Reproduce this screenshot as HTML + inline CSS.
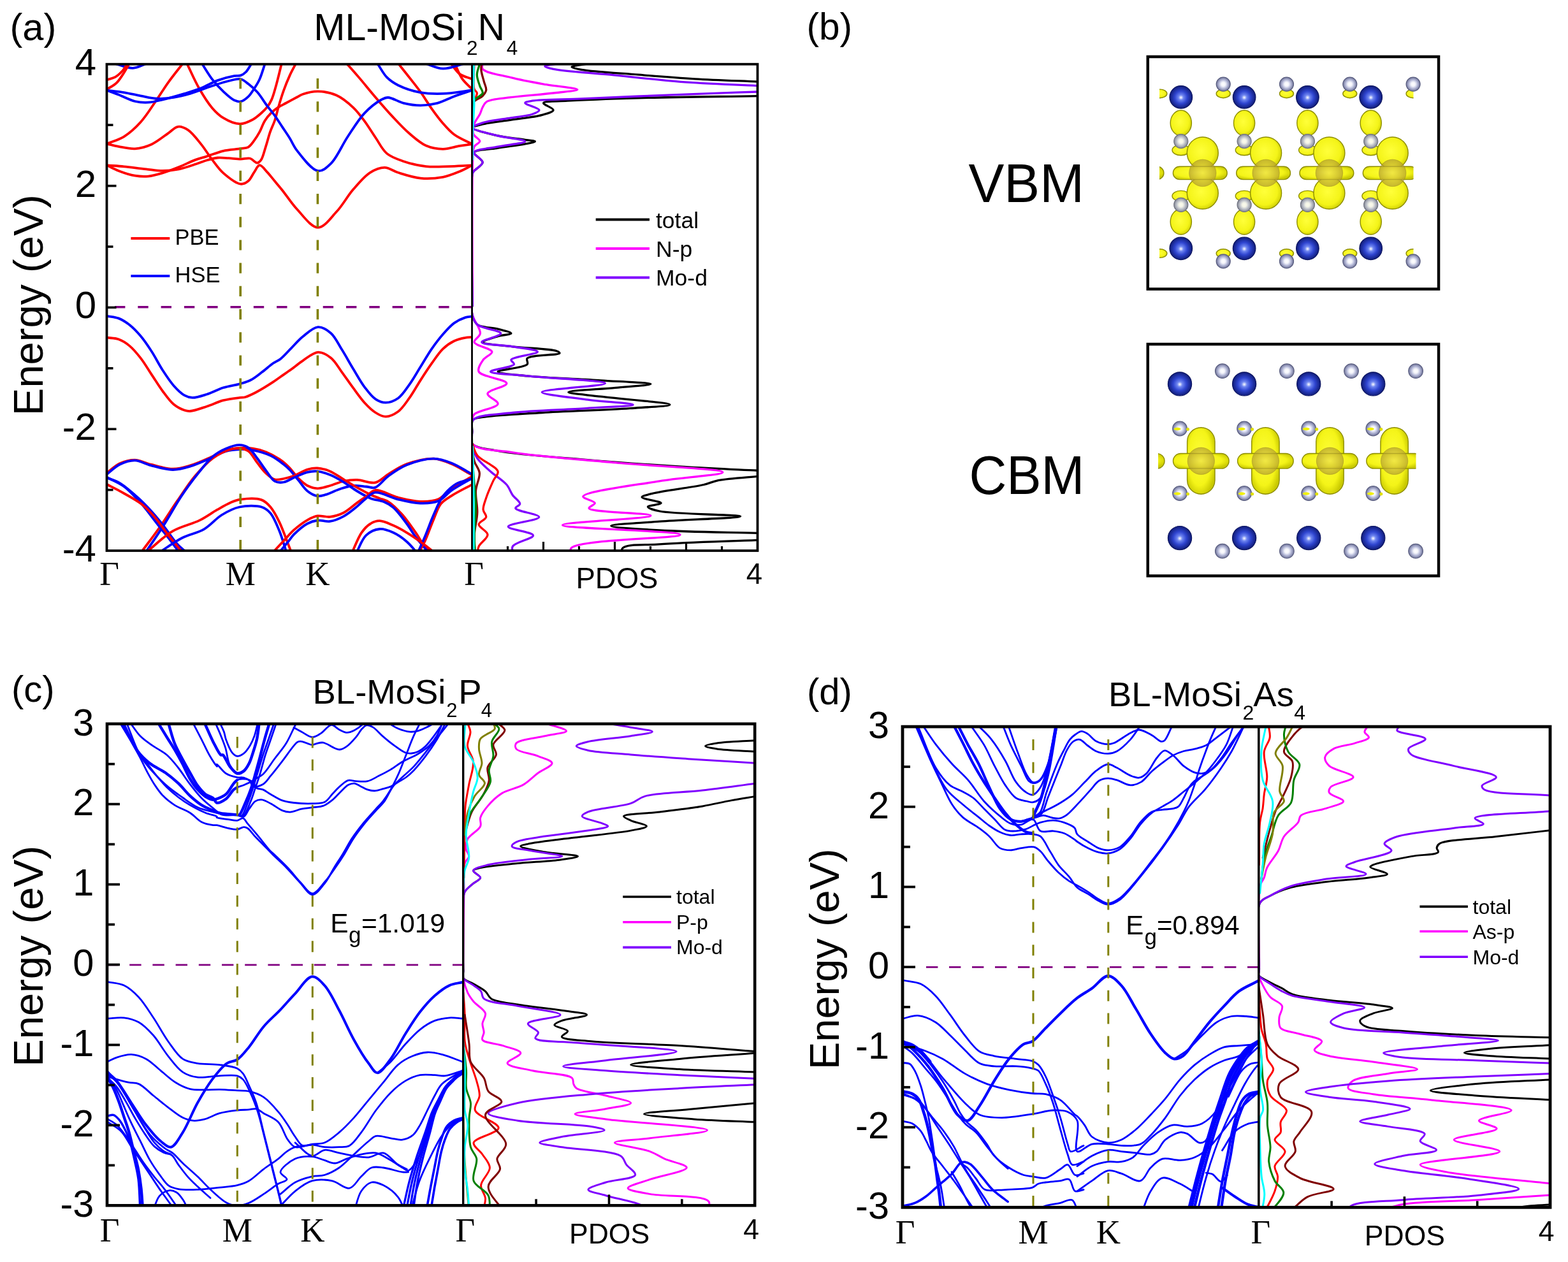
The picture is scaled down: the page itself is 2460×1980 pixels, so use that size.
<!DOCTYPE html><html><head><meta charset="utf-8"><title>Band structures</title><style>html,body{margin:0;padding:0;background:#fff;width:2460px;height:1980px;overflow:hidden}svg{display:block}</style></head><body><svg xmlns="http://www.w3.org/2000/svg" width="2460" height="1980" viewBox="0 0 2460 1980"><defs><clipPath id="cbA"><rect x="167.5" y="100.7" width="573" height="763.3"/></clipPath><clipPath id="cpA"><rect x="740.5" y="100.7" width="448" height="763.3"/></clipPath><clipPath id="cbC"><rect x="168" y="1135.7" width="558.7" height="755.6"/></clipPath><clipPath id="cpC"><rect x="726.7" y="1135.7" width="457.5" height="755.6"/></clipPath><clipPath id="cbD"><rect x="1416" y="1140.1" width="558.8" height="754.2"/></clipPath><clipPath id="cpD"><rect x="1974.8" y="1140.1" width="457.2" height="754.2"/></clipPath><radialGradient id="gMo" cx="50%" cy="50%" r="50%" fx="50%" fy="52%"><stop offset="0" stop-color="#ffffff"/><stop offset="0.22" stop-color="#6f86f0"/><stop offset="0.55" stop-color="#2f45d0"/><stop offset="1" stop-color="#101c78"/></radialGradient><radialGradient id="gN" cx="50%" cy="50%" r="50%"><stop offset="0" stop-color="#ffffff"/><stop offset="0.3" stop-color="#f4f5fb"/><stop offset="0.6" stop-color="#b9bddb"/><stop offset="1" stop-color="#6d7196"/></radialGradient><radialGradient id="gY" cx="45%" cy="45%" r="60%"><stop offset="0" stop-color="#ffff3a"/><stop offset="0.7" stop-color="#f4f418"/><stop offset="1" stop-color="#c9c900"/></radialGradient><radialGradient id="gS" cx="50%" cy="50%" r="50%"><stop offset="0" stop-color="#e8d850" stop-opacity="0.55"/><stop offset="1" stop-color="#b09a30" stop-opacity="0.7"/></radialGradient><clipPath id="cVBM"><rect x="1819" y="90" width="398.5" height="360"/></clipPath><clipPath id="cCBM"><rect x="1817" y="545" width="404.5" height="355"/></clipPath></defs><rect width="2460" height="1980" fill="#fff"/><path d="M179 99.3C188.8 101.8 199.3 107.1 208.4 106.8C216.5 106.5 223.4 101.8 230.9 99.3" fill="none" stroke="#0000ff" stroke-width="3.8" stroke-linejoin="round" stroke-linecap="round" clip-path="url(#cbA)"/><path d="M167.8 125.3C172.1 123.8 176.9 123.1 180.8 120.9C184.6 118.8 187.9 115.7 191.1 112.3C194.6 108.6 197.5 103.6 200.6 99.3" fill="none" stroke="#ff0000" stroke-width="3.8" stroke-linejoin="round" stroke-linecap="round" clip-path="url(#cbA)"/><path d="M167.8 140C172.7 136.8 178.3 134.4 182.5 130.4C186.6 126.6 189.5 121.6 192.9 116.6C196.5 111.3 199.8 105.1 203.2 99.3" fill="none" stroke="#ff0000" stroke-width="3.8" stroke-linejoin="round" stroke-linecap="round" clip-path="url(#cbA)"/><path d="M167.8 225.6C176.7 221.8 186.1 219.6 194.6 214.3C203.8 208.6 212.4 200.8 220.5 191.8C229.8 181.6 238.8 166.7 246.5 155.5C252.9 146.2 257.4 138.5 263.8 129.6C270.8 119.8 279.3 109.4 287.1 99.3" fill="none" stroke="#ff0000" stroke-width="3.8" stroke-linejoin="round" stroke-linecap="round" clip-path="url(#cbA)"/><path d="M293.1 99.3C299.5 112.3 305.3 126.2 312.2 138.2C318.6 149.4 325.8 161.1 332.9 169.4C338.5 175.9 343.4 180.8 350.2 184.9C357.6 189.4 368.1 194.3 376.2 194.4C383 194.6 389.7 191.2 395.4 188.3C400.8 185.6 405.5 181.3 409.6 177.7C413.2 174.6 416.3 171.7 419 168.2C421.8 164.6 424 161.1 426.1 156.4C428.9 150.3 430.8 142.3 433.2 134C436.1 123.7 439.1 110.7 442 99" fill="none" stroke="#ff0000" stroke-width="3.8" stroke-linejoin="round" stroke-linecap="round" clip-path="url(#cbA)"/><path d="M167.8 225.6C173.8 227 179.3 228.7 185.9 229.9C193.8 231.3 203.3 233.9 211.9 233.3C220.6 232.8 229.5 230.2 237.8 226.4C246.8 222.4 256.2 214.2 263.8 209.1C269.6 205.2 273.9 199.5 279.3 198.8C284.3 198.1 289.7 200.6 294.9 203.9C301.9 208.5 309.3 218.6 315.6 226.4C321.9 234.2 327 243 332.9 250.6C338.6 257.9 343.2 265.2 350.2 271.4C357.9 278.1 370.1 288 377.5 288.7C382.2 289.2 386.1 286.7 389.5 284C393.4 280.8 395.9 274.1 399 269.8C401.8 266 404 259.5 407.2 259.2C410.6 258.9 415.2 265.9 419 269.8C423.1 274.1 426.9 279.3 430.9 284C434.8 288.7 438.1 292.5 442.7 298.2C449.3 306.4 457.3 319.2 466.4 328.8C475.9 338.9 488.3 356.9 498.9 356.9C508.8 357 518.9 341.8 527.9 332.3C537.5 322.1 545.1 307.7 554.3 297.1C562.7 287.4 571.5 276.5 580.6 270.8C588 266.2 596 262.8 603.5 262.9C610.7 263 616.6 268.3 624.6 270.8C634.7 273.9 647.9 278.4 659.7 279.6C671.4 280.7 684.1 279.8 694.9 277.8C704.4 276 713.2 272.3 721.2 269C728.3 266.1 734.1 262.6 740.6 259.4" fill="none" stroke="#ff0000" stroke-width="3.8" stroke-linejoin="round" stroke-linecap="round" clip-path="url(#cbA)"/><path d="M167.8 259.3C176.7 260 185.1 260.4 194.6 261.3C205.4 262.4 218.5 264.2 229.2 265.3C238.4 266.3 246.5 267.9 255.1 267.9C263.8 267.9 272.5 267 281 265.3C289.8 263.6 299.2 260.1 307 257.5C313.4 255.5 318.5 253.2 324.3 251.5C330 249.8 335.8 248.1 341.6 247.5C347.3 247 353 247.9 358.9 248.2C365 248.6 371.7 249.7 377.5 249.7C382.6 249.7 387.5 247.5 391.9 248.5C396.2 249.5 400.5 255.8 403.7 255.6C406.1 255.4 407.8 253.4 409.6 250.9C412.6 246.7 414.4 237.8 416.7 230.8C419.2 223.3 421.3 214.4 423.8 207.2C426 200.8 428.8 195.7 430.9 189.5C433.2 182.8 434.6 175.6 436.8 168.2C439.2 159.9 442 150.6 445 142.2C447.9 134.1 451.1 126 454.5 118.6C457.6 111.7 461.2 105.5 464.5 99" fill="none" stroke="#ff0000" stroke-width="3.8" stroke-linejoin="round" stroke-linecap="round" clip-path="url(#cbA)"/><path d="M167.8 259.3C173.8 262.2 179.2 265.3 185.9 267.9C193.7 270.9 203.6 274.3 211.9 275.7C219.1 276.9 225.6 277.2 232.6 276.6C240 275.9 247.4 273.7 255.1 271.4C263.5 268.9 272.4 265.3 281 261.9C289.7 258.4 299.1 253.5 307 250.6C313.3 248.3 317.9 247.4 324.3 245.4C332.1 243 341.4 238.8 350.2 236.8C359.1 234.7 370.3 234.4 377.5 233.2C382.3 232.4 386 232.8 389.5 230.8C393.3 228.7 396.1 224 399 220.2C402 216.2 404.6 212 407.2 207.2C410.1 201.8 412.3 194.6 415.5 189.5C418.3 185 421.5 181.2 425 177.7C428.6 174.2 432.7 170.9 436.8 168.2C440.6 165.7 444.3 164.1 448.6 161.8C453.9 158.9 461.4 154.9 466.3 152.3C469.7 150.5 471.4 149 475.2 147.7C481 145.7 490.6 143.2 498.9 143.3C508.1 143.5 518.9 145.4 527.9 149.5C537.4 153.7 546.7 161.7 554.3 168.8C561.2 175.3 566.2 182.3 571.8 189.9C577.9 198.1 583.5 207.7 589.4 216.3C595.2 224.7 599.6 234.7 607 240.9C614.3 247 623.7 249.9 633.4 253.2C644.1 256.9 656.7 259.8 668.5 261.1C680.2 262.4 691.8 261.4 703.7 261.1C715.8 260.8 728.3 259.9 740.6 259.4" fill="none" stroke="#ff0000" stroke-width="3.8" stroke-linejoin="round" stroke-linecap="round" clip-path="url(#cbA)"/><path d="M543.7 99.4C550.2 106.7 556.2 113.3 563 121.4C571.2 130.9 580.5 142.7 589.4 153C598.1 163.2 606.8 173.4 615.8 182.9C624.4 192.1 633 201.5 642.1 209.3C650.7 216.6 659.2 224.5 668.5 228.6C676.9 232.3 686.1 233.8 694.9 233.9C703.7 233.9 713.1 230.3 721.2 228.9C728.2 227.8 734.1 227 740.6 226" fill="none" stroke="#ff0000" stroke-width="3.8" stroke-linejoin="round" stroke-linecap="round" clip-path="url(#cbA)"/><path d="M624.6 99.4C630.4 106.7 636.3 113.9 642.1 121.4C648 128.9 654 136.2 659.7 144.2C665.7 152.6 671.3 162.2 677.3 170.6C683 178.6 688.8 186.5 694.9 193.4C700.5 199.9 705.5 205.8 712.5 211C720.4 216.9 731.2 221 740.6 226" fill="none" stroke="#ff0000" stroke-width="3.8" stroke-linejoin="round" stroke-linecap="round" clip-path="url(#cbA)"/><path d="M707.2 99.4C711.9 105 715.6 112 721.2 116.1C726.8 120.1 734.1 121.4 740.6 124" fill="none" stroke="#ff0000" stroke-width="3.8" stroke-linejoin="round" stroke-linecap="round" clip-path="url(#cbA)"/><path d="M713.3 99.4C717.1 107.3 720 116.2 724.8 123.1C729.2 129.6 735.3 134.3 740.6 139.8" fill="none" stroke="#ff0000" stroke-width="3.8" stroke-linejoin="round" stroke-linecap="round" clip-path="url(#cbA)"/><path d="M167.8 141.7C176.7 142.8 185.7 143.7 194.6 145.1C203.3 146.6 211.9 148.7 220.5 150.3C229.2 151.9 237.8 154.2 246.5 154.7C255.1 155.1 263.8 154.2 272.4 152.9C281.1 151.6 289.1 149.5 298.3 146.9C309.1 143.7 322.2 138.3 332.9 134.8C342.2 131.8 350.9 128.8 358.9 127C365.5 125.5 372.1 122.9 377.5 124C382.1 125 385.5 128.5 389.5 131.6C394.2 135.2 399.1 139.5 403.7 144.6C409 150.6 414.2 159.4 419 165.9C423.2 171.5 427 175.8 430.9 181.2C434.9 186.8 438.8 193 442.7 198.9C446.6 204.8 450.6 210.5 454.5 216.7C458.5 223.1 460.8 229.7 466.3 236.7C474 246.5 488.9 266.9 498.9 268.1C506.1 269.1 512.7 262.9 519.1 256.7C528.5 247.7 536.5 228 545.5 214.5C554.1 201.7 562.3 187.7 571.8 177.6C580.1 168.9 591.1 160.4 598.2 156.5C602.3 154.3 604.5 153 608.7 153C615.2 153.1 624.9 159.7 633.4 161.8C641.9 163.9 650.9 165.3 659.7 165.3C668.5 165.3 677.4 164.1 686.1 161.8C695 159.5 703.5 154.6 712.5 151.2C721.6 147.8 731.2 144.8 740.6 141.6" fill="none" stroke="#0000ff" stroke-width="3.8" stroke-linejoin="round" stroke-linecap="round" clip-path="url(#cbA)"/><path d="M167.8 141.7C173.8 144 179.4 146 185.9 148.6C193.8 151.7 203.6 157 211.9 159C219 160.7 225.6 161.1 232.6 160.7C240 160.3 246.9 158.3 255.1 156.4C265.4 154 279 150.1 289.7 146.9C299 144 307.1 141.6 315.6 138.2C324.4 134.7 332.8 129.3 341.6 126.1C350.1 123 360.8 120.4 367.5 119.2C371.6 118.5 374.4 119.5 377.5 118.4C380.6 117.3 383.4 115.4 386 112.7C389.3 109.3 392 103.6 395 99" fill="none" stroke="#0000ff" stroke-width="3.8" stroke-linejoin="round" stroke-linecap="round" clip-path="url(#cbA)"/><path d="M316.5 99.3C322 107.7 327.1 116.8 332.9 124.4C338.4 131.4 344.2 137.8 350.2 143.4C355.8 148.6 362.3 154.8 367.5 157.3C371.1 158.9 374.1 160 377.5 159.4C381.5 158.7 386 155 389.5 151.7C393.2 148.2 396.1 143.2 399 138.7C402 134.1 404.7 130.1 407.2 124.5C410.5 117.4 413.1 107.5 416 99" fill="none" stroke="#0000ff" stroke-width="3.8" stroke-linejoin="round" stroke-linecap="round" clip-path="url(#cbA)"/><path d="M592 99.4C597 106.7 601.2 115.5 607 121.4C612.2 126.6 617.4 130.1 624.6 133.7C634 138.4 647.9 142.9 659.7 145.1C671.3 147.2 682.4 147.3 694.9 146.9C709.1 146.4 725.3 143.3 740.6 141.6" fill="none" stroke="#0000ff" stroke-width="3.8" stroke-linejoin="round" stroke-linecap="round" clip-path="url(#cbA)"/><path d="M666.8 99.4C676.1 102.1 684.9 107.4 694.9 107.7C705.9 108 718.3 102.1 730 99.4" fill="none" stroke="#0000ff" stroke-width="3.8" stroke-linejoin="round" stroke-linecap="round" clip-path="url(#cbA)"/><path d="M167.8 495.9C173.8 497.1 180.1 497.2 185.9 499.4C192 501.7 197.7 505.5 203.2 509.8C209.3 514.5 215 520.6 220.5 527.1C226.6 534.2 232.2 542.7 237.8 551.3C243.8 560.5 249.1 571.5 255.1 580.7C260.7 589.3 266.2 598 272.4 604.9C277.8 611 284.1 617.3 289.7 620.4C293.8 622.7 297.1 623.8 301.8 623.9C308.1 624.1 316.6 621.1 324.3 618.7C332.7 616.1 341.5 611.1 350.2 608.3C358.8 605.6 368.4 604.5 376.2 602.3C382.6 600.4 387.9 599.1 393.4 596.2C399.4 593.2 405 588.4 410.7 584.1C416.6 579.8 422.7 574 428 570.3C432.3 567.4 435.8 566.4 440 563.2C445.6 558.8 451.7 551.4 457.6 545.6C463.4 539.7 468.5 533.3 475.2 528C482.2 522.4 491.2 513.5 498.9 513.1C505.8 512.7 513.2 517.6 519.1 522.7C526.1 528.8 530.9 540 536.7 549.1C542.7 558.7 548.3 569.2 554.3 579C560.1 588.5 565.6 598.9 571.8 607.1C577.4 614.4 583.1 622.4 589.4 626.4C594.4 629.7 599.7 631.8 605.2 631.7C611.4 631.6 618.8 628.8 624.6 624.7C631.3 620 636.5 611.3 642.1 603.6C648.3 595.1 653.9 584.8 659.7 575.5C665.6 566.1 671.2 556.1 677.3 547.3C683 539.2 688.8 531.4 694.9 524.5C700.5 518 706.2 511.4 712.5 506.9C718 502.9 724.8 499.8 730 498.1C733.9 496.9 737.1 497 740.6 496.4" fill="none" stroke="#0000ff" stroke-width="3.8" stroke-linejoin="round" stroke-linecap="round" clip-path="url(#cbA)"/><path d="M167.8 529.7C173.8 530.5 180.2 530.2 185.9 532.3C192 534.4 197.8 538.2 203.2 542.6C209.4 547.7 215 554.6 220.5 561.6C226.6 569.4 232.1 578.9 237.8 587.6C243.6 596.2 249.1 605.5 255.1 613.5C260.7 621 266.1 629.1 272.4 634.3C277.8 638.7 284.8 642.2 289.7 643.8C293 644.9 294.7 645.2 298.3 645C304.7 644.6 315.7 640.5 324.3 637.7C333 634.9 341.5 630.5 350.2 628.2C358.8 626 369.8 624.7 376.2 623.9C379.8 623.4 381.5 623.9 384.8 623C389.7 621.7 395.8 618.5 402.1 615.3C410 611.1 421.1 604.2 428 599.7C432.8 596.6 435.6 594.4 440 591.3C445.3 587.6 451.8 583.2 457.6 579C463.5 574.7 468.7 570 475.2 565.8C482.3 561.1 491.2 553 498.9 552.6C505.8 552.3 513.1 556.7 519.1 561.4C525.9 566.7 530.9 576.4 536.7 584.3C542.6 592.3 548.3 600.9 554.3 608.9C560 616.7 565.7 625 571.8 631.7C577.4 637.8 583.4 643.8 589.4 647.5C594.5 650.7 599.7 653.7 605.2 653.7C611.4 653.6 618.7 650 624.6 645.8C631.2 640.9 636.5 632.4 642.1 624.7C648.3 616.2 653.8 605.7 659.7 596.6C665.5 587.6 671.3 578.6 677.3 570.2C683 562.2 688.5 553.4 694.9 547.3C700.4 542.1 706.3 538 712.5 535C718.1 532.3 724.9 530.7 730 529.8C734 529 737.1 529.2 740.6 528.9" fill="none" stroke="#ff0000" stroke-width="3.8" stroke-linejoin="round" stroke-linecap="round" clip-path="url(#cbA)"/><path d="M167.7 741.9C174.4 737 180.5 730.7 187.8 727.3C195.1 724 203.5 721.6 211.5 721.7C219.7 721.9 227.5 726.5 236.5 728.7C247.1 731.2 260.4 735.7 271.3 735.7C281.1 735.7 290 732.8 299.1 730.1C308.5 727.3 317.7 722.9 327 719C336.3 715 346 709.1 354.8 706.4C362.1 704.2 368.7 703.4 375.7 703C382.6 702.5 389.6 702.6 396.5 703.7C403.6 704.7 410.6 706.5 417.4 709.2C424.5 712 432 716.1 438.3 720.4C444.2 724.3 449.2 728.8 454.1 733.8C459.2 738.9 463.3 745.9 468.3 750.7C472.8 755.1 477.3 759.4 482.4 762C487.3 764.5 492.5 766.1 498 766.3C504.2 766.5 511.1 763.9 517.8 762C524.8 760.1 531.9 756.5 539 755C546 753.5 552.7 752.7 560.2 752.9C569 753.1 580.1 758.9 588.5 757.1C596.5 755.4 602.1 748.2 609.8 743.7C618.4 738.5 627.3 732 638 728.1C650.5 723.6 667.8 719 680.5 719.6C690.9 720.1 699.3 724.2 708.8 728.1C719.1 732.4 729.5 739.4 739.9 745.1" fill="none" stroke="#ff0000" stroke-width="3.8" stroke-linejoin="round" stroke-linecap="round" clip-path="url(#cbA)"/><path d="M167.7 744C174.4 738.9 180.4 732.3 187.8 728.7C195.1 725.2 203.5 722.3 211.5 722.4C219.7 722.6 227.4 727.8 236.5 730.1C247.1 732.8 260.4 737 271.3 737C281.1 737 290 734.2 299.1 731.5C308.5 728.7 317.7 724.3 327 720.4C336.3 716.4 346 710.3 354.8 707.8C362.1 705.7 368.7 705.3 375.7 705C382.6 704.8 389.2 705.1 396.5 706.4C405.2 708 416 710.9 424.4 714.8C432.1 718.4 439.8 724.5 445.2 728.7C448.9 731.6 451 733.3 454.1 736.6C458.5 741 463.6 747.9 468.3 753.6C473 759.2 477.1 766.3 482.4 770.5C487.2 774.3 493 777.6 498 778.3C502.3 779 506 777.5 510.7 776.2C517 774.4 524.8 770.1 532 767.7C539 765.4 546 762.7 553.2 762C560.2 761.4 568 762.9 574.4 763.5C579.6 763.9 583.7 766.4 588.5 764.9C595.3 762.7 601.9 752.2 609.8 746.5C618.3 740.3 627.3 733.9 638 729.5C650.4 724.5 667.8 719.5 680.5 719.6C690.9 719.7 699.4 723 708.8 726.7C719.2 730.7 729.5 738 739.9 743.7" fill="none" stroke="#0000ff" stroke-width="3.8" stroke-linejoin="round" stroke-linecap="round" clip-path="url(#cbA)"/><path d="M222.6 865.1C231.9 852.5 241.3 840.5 250.4 827.5C259.9 814.1 268.9 799.3 278.3 785.7C287.4 772.5 296.3 758.3 306.1 746.8C315 736.3 324 726.1 333.9 719C342.7 712.6 353.9 707.3 361.8 705C367 703.5 371.1 703.2 375.7 703.7C380.4 704.1 385.4 704.9 389.6 707.8C394.9 711.5 398.8 720.1 403.5 725.9C408.1 731.6 412.4 738.1 417.4 742.6C421.8 746.6 426.4 751.1 431.3 752.4C435.8 753.5 440.5 751.9 445.2 751C450.4 750 455.6 748.6 461.2 746.5C467.9 744 475.8 738.5 482.4 736.6C487.9 735 492.5 734.2 498 734.5C504.2 734.8 511.3 736.7 517.8 739.4C525 742.4 532 747.9 539 752.1C546.1 756.4 553.1 760.8 560.2 764.9C567.3 768.9 575 773.2 581.5 776.2C586.6 778.6 590.9 780 595.6 781.9C600.3 783.7 604.9 784.4 609.8 787.5C616.5 791.8 624.2 799.8 631 807.3C638.4 815.6 645.9 826.8 652.2 835.6C657.5 843.1 661.1 851.2 666.3 856.8C670.7 861.6 675.8 864.4 680.5 868.1" fill="none" stroke="#ff0000" stroke-width="3.8" stroke-linejoin="round" stroke-linecap="round" clip-path="url(#cbA)"/><path d="M229.6 865.1C238.8 851.1 248.3 837.7 257.4 823.3C266.8 808.5 275.6 791.7 285.2 777.4C294.2 764 304.2 750.7 313.1 739.8C320.3 730.9 326.5 722.4 333.9 716.2C340.5 710.7 347.6 706.7 354.8 703.7C361.6 700.8 369.4 698 375.7 698.1C380.8 698.2 385.3 699.5 389.6 702.3C394.8 705.7 399 713.1 403.5 719C408.3 725.1 412.7 732.3 417.4 738.4C421.9 744.3 426.1 752.3 431.3 755.1C435.6 757.4 440.5 757.3 445.2 756.5C450.5 755.7 455.5 751.8 461.2 749.3C467.8 746.5 475.8 742.4 482.4 740.8C487.9 739.5 492.6 738.9 498 739.4C504.3 740 511.2 742.4 517.8 745.1C524.9 747.9 532.1 752.2 539 756.4C546.2 760.7 553.1 766.2 560.2 770.5C567.2 774.7 574.2 779 581.5 781.9C588.4 784.6 596.5 784.9 602.7 787.5C608.1 789.8 612 791.9 616.8 796C623.7 801.9 631.9 813.2 638 821.5C643.5 828.7 646.8 835.4 652.2 842.7C658.4 850.9 666.3 859.7 673.4 868.1" fill="none" stroke="#0000ff" stroke-width="3.8" stroke-linejoin="round" stroke-linecap="round" clip-path="url(#cbA)"/><path d="M167.7 749.6C174.4 752.4 180.9 753.8 187.8 757.9C196.7 763.2 207.2 772.6 215.7 780.2C223.3 787 229.7 793.6 236.5 801.1C243.7 808.9 250.6 817.4 257.4 826.1C264.5 835 271.7 846.7 278.3 853.9C283.1 859.2 287.5 862.3 292.2 866.4" fill="none" stroke="#0000ff" stroke-width="3.8" stroke-linejoin="round" stroke-linecap="round" clip-path="url(#cbA)"/><path d="M167.7 748.9C176.7 753.7 186.1 757 194.8 763.5C204.6 770.8 214.2 781.9 222.6 791.3C230.4 800 236.5 808.9 243.5 817.7C250.4 826.6 257.8 835.7 264.4 844.2C270.3 851.9 275.5 859 281.1 866.4" fill="none" stroke="#0000ff" stroke-width="3.8" stroke-linejoin="round" stroke-linecap="round" clip-path="url(#cbA)"/><path d="M167.7 760C174.4 763.5 180.3 766.2 187.8 770.4C197.9 776.1 212.9 783.7 222.6 791.3C230.9 797.8 236.8 804.5 243.5 812.2C250.8 820.6 257.2 830.9 264.4 840C271.4 849 278.7 857.6 285.9 866.4" fill="none" stroke="#ff0000" stroke-width="3.8" stroke-linejoin="round" stroke-linecap="round" clip-path="url(#cbA)"/><path d="M229.6 866.4C243.5 855.3 256.7 841.5 271.3 833.1C284.7 825.3 300.8 822.5 313.1 816.4C323.5 811.2 332.2 804.6 340.9 799.7C348.3 795.5 355.2 791.3 361.8 788.5C367.1 786.3 370.9 784.6 377.1 783.7C386 782.4 402.1 781.3 410.5 784.4C416.6 786.6 420.1 790.6 424.4 795.5C429.6 801.6 434 810.3 438.3 819.1C443.3 829.5 448.8 845.2 452.2 853.9C454.2 859.1 455.4 862.3 457.1 866.4" fill="none" stroke="#ff0000" stroke-width="3.8" stroke-linejoin="round" stroke-linecap="round" clip-path="url(#cbA)"/><path d="M250.4 866.4C262 859 273.3 850.3 285.2 844.2C296.6 838.4 309.5 836.4 320 830.3C330.3 824.3 338.2 813.9 347.8 808C356.8 802.5 365.6 797.6 375.7 795.5C386.4 793.2 401.8 792.8 410.5 795.5C416.5 797.4 420.2 800.4 424.4 805.2C429.9 811.7 434.2 823.2 438.3 833.1C442.6 843.5 445.7 855.3 449.4 866.4" fill="none" stroke="#0000ff" stroke-width="3.8" stroke-linejoin="round" stroke-linecap="round" clip-path="url(#cbA)"/><path d="M428.5 866.4C434.1 860.4 439.7 854.3 445.2 848.4C450.6 842.6 455.2 836.7 461.2 831.4C467.6 825.8 475.7 819.6 482.4 815.8C487.8 812.8 492.4 810.3 498 809.4C504.1 808.5 511.2 811.6 517.8 810.9C524.8 810.1 532.2 807.9 539 804.5C546.4 800.8 553.9 793.5 560.2 788.9C565.4 785.2 569.7 782.3 574.4 779C579.1 775.7 582.5 770 588.5 769.1C597.4 767.8 612 777.5 623.9 780.4C635.6 783.3 648.1 786.5 659.3 786.8C669.2 787.1 679.2 786.8 687.6 783.3C695.7 779.8 700.8 771.8 708.8 766.3C718 759.9 729.5 754 739.9 747.9" fill="none" stroke="#ff0000" stroke-width="3.8" stroke-linejoin="round" stroke-linecap="round" clip-path="url(#cbA)"/><path d="M438.3 866.4C442.9 860.9 448.1 854.8 452.2 849.8C455.6 845.6 457.3 842.4 461.2 838.4C466.6 833.1 475.6 825.1 482.4 821.5C487.8 818.6 492.4 817.2 498 816.5C504.1 815.8 511.2 818.9 517.8 817.9C524.9 816.9 532.2 813.8 539 810.1C546.4 806.2 554 799.7 560.2 794.6C565.6 790.3 569.5 785.6 574.4 781.9C579 778.3 582.5 773.5 588.5 772.7C597.5 771.4 612 780.4 623.9 783.3C635.6 786.1 648.1 789.3 659.3 789.6C669.2 789.9 679.2 789.6 687.6 786.1C695.7 782.7 700.8 774.6 708.8 769.1C718 762.8 729.5 756.9 739.9 750.7" fill="none" stroke="#0000ff" stroke-width="3.8" stroke-linejoin="round" stroke-linecap="round" clip-path="url(#cbA)"/><path d="M739.9 760.6C729.5 766.3 717.4 772 708.8 777.6C702.1 781.9 696.4 784.7 691.8 790.3C686.7 796.6 684.3 805.5 680.5 814.4C675.9 825 670.9 840 666.3 849.8C663 857 659.7 862 656.4 868.1" fill="none" stroke="#ff0000" stroke-width="3.8" stroke-linejoin="round" stroke-linecap="round" clip-path="url(#cbA)"/><path d="M739.9 751.4C731.9 754 723.2 754.9 715.9 759.2C708 763.8 700.5 771.2 694.6 779C688.6 787.2 685 797.3 680.5 807.3C675.5 818.4 670.9 831.9 666.3 842.7C662.4 851.9 658.8 859.7 655 868.1" fill="none" stroke="#0000ff" stroke-width="3.8" stroke-linejoin="round" stroke-linecap="round" clip-path="url(#cbA)"/><path d="M551.8 868.1C556.9 857.3 561.5 843.9 567.3 835.6C571.7 829.5 576.3 824.5 581.5 821.5C585.9 818.8 590.4 817.1 595.6 817.2C602 817.3 609.9 821.3 616.8 824.3C624 827.4 631.1 831.4 638 835.6C645.2 839.9 652.1 844.6 659.3 849.8C667.1 855.4 675.3 862 683.3 868.1" fill="none" stroke="#ff0000" stroke-width="3.8" stroke-linejoin="round" stroke-linecap="round" clip-path="url(#cbA)"/><path d="M558.8 868.1C564 858.7 567.5 846.3 574.4 839.9C580.2 834.4 588.4 830.6 595.6 830C602.6 829.3 610 832.5 616.8 835.6C624.2 838.9 631.7 844.3 638 849.8C644.4 855.2 649.4 862 655 868.1" fill="none" stroke="#0000ff" stroke-width="3.8" stroke-linejoin="round" stroke-linecap="round" clip-path="url(#cbA)"/><path d="M188.6 1134.8C194.9 1145.3 201.9 1156.7 207.4 1166.3C211.9 1174.2 215.5 1180.6 219.5 1188.1C223.6 1195.9 227.4 1204.6 231.6 1212.3C235.5 1219.5 239.4 1226.6 243.7 1232.9C247.5 1238.6 251 1243.7 255.8 1248.6C260.9 1253.9 267.2 1258.8 273.9 1263.1C281.2 1267.8 290.9 1270.6 298.1 1275.2C304.9 1279.5 309.9 1286.5 316.3 1289.7C322 1292.7 330.1 1294 334.4 1294.6C336.8 1294.9 337.6 1294.3 340 1294.6C344.3 1295.2 352.5 1298.3 358.2 1299.5C363.1 1300.4 367.8 1301.7 372.1 1301.3C375.8 1300.9 379.4 1297.7 382.4 1297.7C384.6 1297.6 386.3 1298.1 388.4 1299.5C392.1 1301.8 396.4 1308.5 400.5 1312.8C404.5 1317 408.4 1320.6 412.6 1324.9C417.3 1329.6 421.7 1334.6 427.2 1340C433.9 1346.7 442.8 1354.5 450 1362C457 1369.2 463.2 1377 470 1384C476.6 1390.8 483.4 1403.4 490.1 1403.5C496.7 1403.6 504.3 1392.1 510 1385C516 1377.7 520.1 1367.8 525 1360C529.4 1352.9 533.5 1347 537.8 1339.9C542.6 1332.2 547 1323.2 552.4 1315.1C557.9 1306.9 564.3 1298.6 570.5 1290.9C576.4 1283.7 583.2 1276.5 588.7 1270.4C593.1 1265.4 596.9 1262 600.8 1257.1C605 1251.6 609 1245.5 612.9 1238.9C617.1 1231.5 621.1 1223.3 625 1214.7C629.2 1205.3 633 1194.5 637.1 1184.5C641.1 1174.4 645.1 1163.2 649.2 1154.2C652.6 1146.6 656 1140.5 659.4 1133.6" fill="none" stroke="#0000ff" stroke-width="2.8" stroke-linejoin="round" stroke-linecap="round" clip-path="url(#cbC)"/><path d="M191 1134.8C197.7 1146.5 204.6 1159.9 211 1169.9C216 1177.8 220.3 1183.4 225.5 1190.5C231.2 1198.3 237.5 1207.1 243.7 1214.7C249.6 1222 255.6 1229.1 261.8 1235.3C267.7 1241.1 273.8 1246.3 280 1251C285.9 1255.5 291.5 1259.3 298.1 1263.1C305.5 1267.4 314.7 1272.1 322.3 1275.2C328.7 1277.9 339.7 1279.6 340.5 1281.3C340.7 1281.7 339.8 1282.1 340 1282.5C340.8 1284 352.5 1284.7 358.2 1285.6C363.1 1286.3 368 1287.9 372.1 1287.4C375.5 1286.9 378.5 1283.1 381.2 1283.7C384 1284.4 385.6 1288.9 388.4 1292.2C392.4 1296.9 397.7 1302.8 402.9 1309.2C409.5 1317 419.9 1330.8 424.7 1335.8C426.8 1337.9 427.4 1338 429.6 1340C434.4 1344.5 444.9 1354.4 452 1362C459 1369.4 465.3 1378.1 472 1385C478 1391.3 483.9 1402 490.1 1402C496.6 1402 503.9 1389.9 510 1383C516.2 1375.9 521.8 1367.5 527 1360C531.8 1353.2 535.8 1347.1 540.3 1339.9C545.1 1332.2 549.4 1323.2 554.8 1315.1C560.3 1306.9 566.7 1298.6 572.9 1290.9C578.8 1283.7 585.6 1276.5 591.1 1270.4C595.5 1265.4 599.3 1262.3 603.2 1257.1C607.9 1250.6 611.5 1240.6 616.5 1234.1C620.9 1228.3 625.9 1224.5 631 1219.5C636.7 1214.1 643.3 1208.8 649.2 1202.6C655.4 1196 661.3 1188.2 667.3 1180.8C673.4 1173.3 679.3 1165.6 685.5 1157.8C691.8 1149.9 698.4 1141.7 704.8 1133.6" fill="none" stroke="#0000ff" stroke-width="2.8" stroke-linejoin="round" stroke-linecap="round" clip-path="url(#cbC)"/><path d="M193.4 1134.8C200.9 1149.4 207.7 1167.3 215.8 1178.4C221.9 1186.7 228 1192.2 235.2 1197.8C242.5 1203.5 251.8 1207 259.4 1212.3C266.7 1217.5 273.5 1223.2 280 1229.2C286.4 1235.3 291.9 1242.8 298.1 1248.6C304 1254 310 1259.2 316.3 1263.1C322.1 1266.8 329 1269.3 334.4 1271.6C338.7 1273.4 341.3 1274.8 346.1 1275.9C352.9 1277.4 367.7 1277.6 372.1 1278.3C373.6 1278.5 374 1279.4 375.1 1278.9C378.1 1277.4 382.9 1264.1 386 1257.1C388.8 1250.8 391 1245.5 393.3 1238.9C395.9 1231.5 398.2 1223 400.5 1214.7C403 1206.1 405.4 1197.1 407.8 1188.1C410.2 1178.9 412.5 1169.4 415.1 1160.3C417.6 1151.3 420.3 1142.5 422.9 1133.6" fill="none" stroke="#0000ff" stroke-width="4.4" stroke-linejoin="round" stroke-linecap="round" clip-path="url(#cbC)"/><path d="M198.9 1134.8C205.7 1151.4 211.9 1171.2 219.5 1184.5C225.1 1194.4 230.8 1200.8 237.6 1208.7C244.8 1217 253.5 1225.6 261.8 1232.9C269.7 1239.7 277.9 1245.3 286 1251C294 1256.6 301.9 1262.9 310.2 1266.8C318 1270.4 327.6 1272.2 334.4 1274C339.4 1275.3 342.2 1276.3 347.3 1277.1C354.1 1278.1 366.5 1277.9 372.1 1278.7C375 1279.1 376.6 1281.1 378.7 1280.1C382.8 1278.1 386.5 1264.6 389.6 1257.1C392.5 1250.1 394.6 1243.7 396.9 1236.5C399.4 1228.8 401.6 1220.7 404.2 1212.3C406.9 1203.4 409.7 1193.4 412.6 1184.5C415.4 1176.1 418.2 1168.5 421.1 1160.3C424.1 1151.6 427.2 1142.5 430.2 1133.6" fill="none" stroke="#0000ff" stroke-width="2.8" stroke-linejoin="round" stroke-linecap="round" clip-path="url(#cbC)"/><path d="M204.9 1134.8C209.8 1141.3 213.9 1148.5 219.5 1154.2C224.9 1159.8 231 1163.9 237.6 1168.7C245 1174.1 254.7 1178.3 261.8 1184.5C268.8 1190.5 274.1 1197.7 280 1205C286.2 1212.9 291.9 1222.4 298.1 1230.4C304 1238.1 310 1245.8 316.3 1252.2C322.1 1258.2 328.8 1263.4 334.4 1268C339 1271.7 341.9 1276 347.3 1277.9C353.9 1280.3 365.9 1278.4 372.1 1278.9C375.9 1279.2 378.4 1281.5 381.2 1280.1C385.9 1277.7 390 1264.7 393.3 1257.1C396.3 1250.2 398.1 1243.5 400.5 1236.5C403 1229.4 405.4 1222.6 407.8 1214.7C410.6 1205.5 413.3 1194 416.3 1184.5C419 1175.9 421.9 1168.5 424.7 1160.3C427.7 1151.6 430.8 1142.5 433.8 1133.6" fill="none" stroke="#0000ff" stroke-width="2.8" stroke-linejoin="round" stroke-linecap="round" clip-path="url(#cbC)"/><path d="M248.5 1134.8C252.9 1142.1 257.5 1149.6 261.8 1156.6C265.9 1163.3 270 1169.3 273.9 1176C278 1183 282.1 1190.3 286 1197.8C290.1 1205.6 293.8 1214.8 298.1 1222C301.9 1228.3 305.9 1234.1 310.2 1238.9C314 1243.2 318 1247.1 322.3 1249.8C326.2 1252.2 331.1 1254.4 334.4 1254.7C336.6 1254.8 337.8 1254.3 340 1253.5C343.8 1252.2 350.3 1249.8 354.5 1246.2C359.3 1242.1 363.2 1233.3 366.6 1229.3C368.7 1226.8 370.3 1225.6 372.1 1223.8" fill="none" stroke="#0000ff" stroke-width="4.4" stroke-linejoin="round" stroke-linecap="round" clip-path="url(#cbC)"/><path d="M366.6 1229.3C368.4 1227.4 369.9 1225 372.1 1223.8C374.3 1222.6 377.1 1222.4 379.9 1222.2C383.3 1222.1 387.7 1222.2 390.8 1223.5C393.7 1224.6 396.1 1227 398.1 1229.3C400.1 1231.4 400.7 1234.9 402.9 1236.5C405.4 1238.3 409.3 1237.6 412.6 1238.9C416.6 1240.6 420.3 1243.7 424.7 1246.2C430.1 1249.3 436.7 1253.7 442.9 1255.9C448.8 1258 454.3 1258.7 461.1 1259.5C469.6 1260.5 481.4 1261.1 490.1 1260.7C497.2 1260.4 504.1 1261 509.5 1258.3C514.7 1255.7 517.9 1249.3 522.1 1245C526.1 1240.8 530 1236.4 534.2 1232.9C538.1 1229.6 542.1 1225.5 546.3 1224.4C550.2 1223.4 554 1225.4 558.4 1225.6C563.8 1225.9 570.6 1226.9 576.6 1225.6C582.8 1224.2 588.7 1220.1 594.7 1217.1C600.8 1214.1 606.9 1211 612.9 1207.4C619 1203.8 625.5 1198.6 631 1195.3C635.4 1192.8 639.1 1191.3 643.1 1189.3C647.1 1187.3 650.9 1185.9 655.2 1183.2C660.8 1179.8 668.2 1175 673.4 1169.9C678.2 1165.2 682 1160 685.5 1154.2C689.1 1148 691.5 1140.5 694.5 1133.6" fill="none" stroke="#0000ff" stroke-width="2.8" stroke-linejoin="round" stroke-linecap="round" clip-path="url(#cbC)"/><path d="M264.2 1134.8C267.5 1145.3 270.1 1156.7 273.9 1166.3C277.4 1175.1 281.9 1182.7 286 1190.5C290 1198 294 1205.2 298.1 1212.3C302.1 1219.3 305.9 1226.9 310.2 1232.9C314 1238 318 1242.9 322.3 1246.2C326.1 1249 331.4 1249.7 334.4 1252.2C336.9 1254.3 337.3 1258.8 340 1259.5C343.5 1260.5 350.2 1256.6 354.5 1253.5C359.2 1250 363.2 1242 366.6 1238.9C368.7 1237.1 370.3 1236.5 372.1 1235.3" fill="none" stroke="#0000ff" stroke-width="4.4" stroke-linejoin="round" stroke-linecap="round" clip-path="url(#cbC)"/><path d="M366.6 1238.9C368.4 1237.7 369.9 1236.4 372.1 1235.3C374.9 1233.9 378.9 1233.1 382.4 1231.7C386 1230.2 390.1 1228.6 393.3 1226.8C396 1225.3 397.8 1223.7 400.5 1222C404 1219.8 408.6 1218.4 412.6 1214.7C418.6 1209.4 424.7 1198.6 430.8 1190.5C436.8 1182.5 443.8 1174.6 448.9 1166.3C453.8 1158.5 458.1 1148.1 461.1 1142.1C462.8 1138.6 463.9 1136.5 465.3 1133.6" fill="none" stroke="#0000ff" stroke-width="2.8" stroke-linejoin="round" stroke-linecap="round" clip-path="url(#cbC)"/><path d="M303 1134.8C307.4 1143.3 312 1151.9 316.3 1160.3C320.4 1168.4 324.1 1177.1 328.4 1184.5C332.2 1191.1 339.6 1202.9 340.5 1202.6C340.8 1202.5 339.5 1199.2 340 1199C341.2 1198.4 349 1210.1 354.5 1213.5C359.8 1216.8 366.9 1218.6 372.1 1219.6C375.9 1220.3 379.1 1219.2 382.4 1220.2C385.8 1221.2 389.6 1223.2 392.1 1225.6C394.3 1227.9 394.2 1232.9 396.9 1234.1C400.4 1235.6 408.1 1233.1 412.6 1230.5C417.4 1227.7 420.4 1222.3 424.7 1217.2C430.3 1210.6 436.9 1202 442.9 1194.2C449 1186.2 456.5 1175.2 461.1 1169.9C463.5 1167.1 464.9 1164.9 467.1 1163.9C469 1163 470.8 1163 473.2 1163.3C476.5 1163.7 482.1 1166.6 485.3 1167.5C487.2 1168.1 488.3 1168.8 490.1 1168.7C492.3 1168.7 494.7 1166.9 497.4 1166.3C500.3 1165.6 503.7 1164.6 507 1165.1C511.1 1165.8 517.5 1169.9 520 1171.2C521 1171.7 521.1 1171.9 522.1 1172.4C524.3 1173.3 529.4 1176.2 533 1176C536.7 1175.8 540.2 1173.7 543.9 1171.1C548.7 1167.8 554.2 1161.5 558.4 1156.6C562.2 1152.2 564.8 1146.6 568.1 1143.3C570.5 1140.9 572.6 1138.3 575.3 1137.9C578.2 1137.4 581.6 1138.9 585 1140.9C589.9 1143.7 595.2 1150.7 600.8 1155.4C606.5 1160.4 612.8 1165.6 618.9 1169.9C624.5 1174 630.8 1179 635.8 1180.8C639.4 1182.1 642.3 1182.2 645.5 1182C648.8 1181.8 651.9 1181.1 655.2 1179.6C659.2 1177.8 663.5 1174.6 667.3 1171.1C671.6 1167.2 675.2 1162.1 679.4 1156.6C684.6 1149.9 690.3 1141.3 695.7 1133.6" fill="none" stroke="#0000ff" stroke-width="2.8" stroke-linejoin="round" stroke-linecap="round" clip-path="url(#cbC)"/><path d="M372.1 1278.3C375.5 1279.3 379.4 1282.4 382.4 1281.3C385.8 1280.1 387.9 1273.2 390.8 1269.2C393.9 1265.1 396.9 1259.5 400.5 1257.1C403.5 1255.2 406.7 1254.4 410.2 1254.7C414.6 1255 419.7 1258.2 424.7 1260.7C430.6 1263.7 437.3 1269.5 442.9 1271.6C447.2 1273.3 450.6 1274.2 455 1274.1C460.5 1273.9 467.2 1270.4 473.2 1269.2C478.9 1268 484.5 1267.6 490.1 1266.8C495.8 1266 501.8 1266.3 507 1264.4C512.5 1262.3 517.5 1258.3 522.1 1254.6C526.6 1251 530.1 1246.4 534.2 1242.5C538.2 1238.8 542.2 1233.8 546.3 1231.6C549.5 1229.9 552.9 1229 556 1229.2C558.9 1229.5 561.4 1231.4 564.5 1232.9C568.2 1234.6 572.4 1237.6 576.6 1238.9C580.5 1240.2 584.6 1240.9 588.7 1240.7C592.7 1240.5 596.7 1238.8 600.8 1237.7C604.8 1236.6 608.9 1235.8 612.9 1234.1C617 1232.2 620.9 1229.2 625 1226.8C629 1224.4 633.2 1222.4 637.1 1219.5C641.2 1216.4 644.9 1213.1 649.2 1208.7C654.8 1202.8 661.4 1194.6 667.3 1186.9C673.6 1178.6 680 1169.3 685.5 1160.3C690.7 1151.5 694.7 1142.5 699.4 1133.6" fill="none" stroke="#0000ff" stroke-width="2.8" stroke-linejoin="round" stroke-linecap="round" clip-path="url(#cbC)"/><path d="M321.1 1134.8C325.6 1144.5 329.9 1155.1 334.4 1163.9C338.4 1171.4 343.3 1182.6 346.5 1184.5C347.7 1185.1 348.5 1183.8 349.7 1184.5C352.7 1186.2 356.5 1197.6 360.6 1202.6C364.1 1207 368.1 1212.7 372.1 1213.5C375.4 1214.2 379.4 1212.1 382.4 1209.9C385.8 1207.3 388.5 1202.3 390.8 1197.8C393.4 1192.8 395 1186.8 396.9 1180.8C399 1174.3 401.3 1167.6 402.9 1160.3C404.7 1152 405.5 1142.5 406.8 1133.6" fill="none" stroke="#0000ff" stroke-width="4.4" stroke-linejoin="round" stroke-linecap="round" clip-path="url(#cbC)"/><path d="M338.1 1134.8C340.9 1141.3 343.9 1147.7 346.5 1154.2C349.1 1160.6 351.6 1166.5 353.8 1173.6C356.3 1181.7 356.8 1193.4 360.6 1200.2C363.5 1205.5 368 1211.3 372.1 1212.3C375.4 1213.1 379.4 1210.9 382.4 1208.7C385.8 1206.1 388.5 1201.1 390.8 1196.6C393.4 1191.6 395 1185.6 396.9 1179.6C399 1173.1 401.4 1166.3 402.9 1159.1C404.6 1151.1 405.1 1142.1 406.2 1133.6" fill="none" stroke="#0000ff" stroke-width="2.8" stroke-linejoin="round" stroke-linecap="round" clip-path="url(#cbC)"/><path d="M345.3 1134.8C347.3 1139.3 349.8 1143.8 351.4 1148.2C352.8 1152.2 352.9 1155.8 354.5 1160.3C356.7 1166.3 360.5 1176.4 364.2 1180.8C366.6 1183.7 369.2 1186 372.1 1186.3C375.2 1186.6 379.3 1184.4 382.4 1182.1C386 1179.3 389.3 1174.4 392.1 1169.9C395 1165.2 397.3 1159.9 399.3 1154.2C401.5 1147.9 402.7 1140.5 404.4 1133.6" fill="none" stroke="#0000ff" stroke-width="2.8" stroke-linejoin="round" stroke-linecap="round" clip-path="url(#cbC)"/><path d="M461.1 1141.5C465.1 1143.7 468.8 1145.8 473.2 1148.2C478.3 1150.9 484.8 1156.5 490.1 1156.6C494.8 1156.7 498.9 1153.4 503.4 1150.6C508.9 1147.2 514.8 1137.6 520 1137.3C524.2 1137 527.7 1142.5 531.8 1144.5C535.7 1146.5 539.8 1149.2 543.9 1149.4C547.9 1149.5 552.1 1147.6 556 1145.7C560.2 1143.7 565.5 1139.6 568.1 1137.3C569.6 1135.9 570.1 1134.8 571.1 1133.6" fill="none" stroke="#0000ff" stroke-width="2.8" stroke-linejoin="round" stroke-linecap="round" clip-path="url(#cbC)"/><path d="M608 1133.6C613.7 1136.9 619 1140.9 625 1143.3C630.8 1145.7 637.6 1147.7 643.1 1148.2C647.5 1148.5 651.2 1147.9 655.2 1146.9C659.3 1145.9 663.1 1144.1 667.3 1142.1C672.3 1139.8 677.8 1136.5 683 1133.6" fill="none" stroke="#0000ff" stroke-width="2.8" stroke-linejoin="round" stroke-linecap="round" clip-path="url(#cbC)"/><path d="M168.1 1540.3C176.9 1542.3 186.5 1542.2 194.6 1546.1C203 1550.1 210.4 1556.9 217.6 1564.5C226 1573.4 233.2 1585.6 240.7 1596.8C248.6 1608.6 255.7 1622.5 263.7 1633.7C271.1 1643.9 278.2 1655.7 286.8 1661.4C293.8 1666 301.3 1666.7 309.8 1668.3C320.1 1670.1 333.6 1669.1 344.4 1670.6C354.2 1671.9 365.6 1673.1 372.1 1676.3C376.3 1678.5 378.5 1680.8 381.3 1684.4C384.9 1689.1 387.4 1696 390.5 1702.9C394.3 1711.1 398.6 1720 402 1730.5C406.4 1743.8 409.7 1761.3 413.6 1776.6C417.4 1792 421.3 1807.4 425.1 1822.7C428.9 1838.1 433.2 1854.7 436.6 1868.8C439.6 1880.9 442 1891.1 444.7 1902.3" fill="none" stroke="#0000ff" stroke-width="2.8" stroke-linejoin="round" stroke-linecap="round" clip-path="url(#cbC)"/><path d="M168.1 1598C176.9 1597.6 186.1 1595.8 194.6 1596.8C202.6 1597.8 210.4 1599.7 217.6 1603.7C225.9 1608.4 233.4 1616.3 240.7 1624.5C248.9 1633.7 255.7 1646.9 263.7 1656.8C271.2 1666 278.3 1676.5 286.8 1682.1C293.9 1686.8 301.2 1689 309.8 1690.2C320.1 1691.6 333.5 1688.2 344.4 1687.9C354.1 1687.6 365.5 1686 372.1 1687.9C376.2 1689.1 378.4 1690.6 381.3 1693.6C385.6 1698.1 389.2 1706.7 392.8 1714.4C397 1723.3 400.8 1733.3 404.4 1744.4C408.6 1757.5 412.1 1773.4 415.9 1788.2C419.8 1803.3 423.6 1818.9 427.4 1834.3C431.2 1849.6 436 1867.8 438.9 1880.4C440.9 1889 442 1895 443.5 1902.3" fill="none" stroke="#0000ff" stroke-width="2.8" stroke-linejoin="round" stroke-linecap="round" clip-path="url(#cbC)"/><path d="M168.1 1666C173.1 1663.7 177.4 1660.9 183.1 1659.1C189.8 1656.9 198.5 1654.1 206.1 1654.4C213.8 1654.8 221.8 1657.5 229.2 1661.4C237.3 1665.6 244.5 1673.7 252.2 1679.8C259.9 1686 267.3 1693.4 275.3 1698.2C282.7 1702.8 290.4 1706.7 298.3 1708.6C305.8 1710.4 313.7 1709.7 321.4 1709.8C329 1709.9 336.4 1709.2 344.4 1709.3C353.2 1709.5 363.8 1710.4 372.1 1710.9C378.8 1711.3 384.2 1710.6 390.5 1712.1C397.9 1713.7 406.3 1716.5 413.6 1721.3C421.9 1726.8 430 1736.6 436.6 1744.4C442.5 1751.2 447 1758.3 451.5 1765.1C455.7 1771.4 459 1778 463.1 1783.5C466.7 1788.6 469.9 1795.6 474.6 1797.4C478.9 1799 484.2 1795.8 489.6 1795.1C495.6 1794.2 502.7 1795.2 509.2 1792.8C516.9 1789.8 524.8 1782.9 532.2 1776.6C540.2 1769.9 547.8 1761.8 555.3 1753.6C563.1 1744.9 570.6 1735.1 578.3 1725.9C586 1716.7 593.7 1707.5 601.4 1698.2C609 1689 616.1 1677.7 624.4 1670.6C631.6 1664.4 639.5 1660 647.5 1656.8C654.9 1653.7 662.8 1651.4 670.5 1651C678.2 1650.6 685.4 1652.4 693.6 1654.4C703.5 1657 715.1 1662.1 725.8 1666" fill="none" stroke="#0000ff" stroke-width="2.8" stroke-linejoin="round" stroke-linecap="round" clip-path="url(#cbC)"/><path d="M168.1 1682.1C173.1 1686.7 177.9 1689.9 183.1 1695.9C190.4 1704.6 198.4 1719 206.1 1730.5C213.8 1742 221.1 1754.7 229.2 1765.1C236.5 1774.5 244.7 1784.5 252.2 1790.5C257.7 1794.9 263.2 1800.7 268.3 1799.7C274.8 1798.4 280.8 1786 286.8 1776.6C294.7 1764.2 301.8 1744.9 309.8 1730.5C317.2 1717.4 324.7 1704.5 332.9 1693.6C340.2 1684 348.3 1673.4 355.9 1668.3C361.3 1664.7 366.9 1665.9 372.1 1662.5C378.6 1658.3 384.3 1650.5 390.5 1642.9C398.1 1633.7 405.2 1620.6 413.6 1610.7C421.7 1601 431.6 1593 440 1584.1C448 1575.7 455 1567.2 463.1 1558.8C471.5 1549.9 481.1 1533 489.6 1532.3C496.3 1531.7 503 1539.4 509.2 1546.1C517.6 1555.3 524.8 1571.6 532.2 1585.3C540.1 1599.9 547.2 1617.1 555.3 1631.4C562.6 1644.6 571.2 1659 578.3 1668.3C583.2 1674.7 587 1683.2 592.1 1683.3C598.3 1683.3 606.3 1670.2 612.9 1661.4C621 1650.6 628.1 1634.7 635.9 1622.2C643.5 1610.2 650.9 1598 659 1587.6C666.3 1578.2 673.9 1569.4 682 1562.2C689.4 1555.8 697.3 1549.6 705.1 1546.1C711.9 1543 718.9 1542.7 725.8 1541" fill="none" stroke="#0000ff" stroke-width="4" stroke-linejoin="round" stroke-linecap="round" clip-path="url(#cbC)"/><path d="M592.1 1683.3C599.1 1677.5 606.1 1672.8 612.9 1666C620.7 1658.1 628.1 1646.9 635.9 1638.3C643.4 1630.1 650.9 1621.6 659 1615.3C666.3 1609.5 674.1 1604.5 682 1601.4C689.5 1598.6 697.6 1597.4 705.1 1596.8C712.2 1596.3 718.9 1597.6 725.8 1598" fill="none" stroke="#0000ff" stroke-width="2.8" stroke-linejoin="round" stroke-linecap="round" clip-path="url(#cbC)"/><path d="M168.1 1689C179.2 1692.1 192.3 1696.3 201.5 1698.2C207.8 1699.6 212.1 1698.2 217.6 1700.6C225.1 1703.8 233 1712.8 240.7 1719C248.4 1725.1 256 1731.6 263.7 1737.4C271.3 1743.1 279.5 1750.1 286.8 1753.6C292.4 1756.3 297.3 1757.8 302.9 1758.2C308.8 1758.6 315 1757.5 321.4 1755.9C328.7 1754 336.3 1748.9 344.4 1746.7C353.1 1744.2 363.8 1743 372.1 1742C378.8 1741.3 385.1 1741.3 390.5 1740.9C394.8 1740.5 398.3 1738.9 402 1739.7C406 1740.6 409.1 1744 413.6 1746.7C419.9 1750.5 430.4 1754 436.6 1760.5C443.3 1767.5 446.3 1781.2 451.5 1788.2C455.3 1793.2 457.9 1797.9 463.1 1799.7C469.7 1801.9 481.4 1796 489.6 1796.2C496.6 1796.4 502.3 1799.1 509.2 1799.7C516.5 1800.3 525.2 1800.2 532.2 1799.7C538.1 1799.3 543.3 1800.1 548.3 1797.4C555 1793.8 560.6 1784.7 566.8 1776.6C574.4 1766.8 581.9 1752.7 589.8 1742C597.3 1732.1 604.8 1722.3 612.9 1714.4C620.2 1707.2 627.9 1700.6 635.9 1695.9C643.3 1691.6 651.2 1688.2 659 1686.7C666.5 1685.3 675.1 1686.5 682 1686.7C687.9 1686.9 692.1 1688.5 698.2 1687.9C706.2 1687 716.6 1682.5 725.8 1679.8" fill="none" stroke="#0000ff" stroke-width="2.8" stroke-linejoin="round" stroke-linecap="round" clip-path="url(#cbC)"/><path d="M168.2 1691C173 1695.5 178 1699 182.5 1704.5C187.9 1711 192.6 1720.1 197.5 1728.4C202.6 1737.1 207.4 1746.8 212.5 1755.4C217.4 1763.7 222.3 1771.9 227.5 1779.4C232.3 1786.4 237 1793.9 242.4 1798.9C247.1 1803.2 252.6 1806.3 257.4 1808.6C261.5 1810.6 265.9 1809.8 269.4 1812.4C273.7 1815.5 276 1822.1 279.9 1827.4C284.4 1833.4 289.7 1840.7 294.9 1846.6C299.7 1852 304.5 1856.4 309.9 1861.6C316 1867.4 323.3 1873.5 330 1879.5" fill="none" stroke="#0000ff" stroke-width="2.8" stroke-linejoin="round" stroke-linecap="round" clip-path="url(#cbC)"/><path d="M168.2 1685C173 1689 178 1692 182.5 1697C187.9 1703 192.6 1711.6 197.5 1719.4C202.6 1727.6 207.5 1736.4 212.5 1744.9C217.5 1753.4 222.3 1762.3 227.5 1770.4C232.3 1778.2 237 1786.6 242.4 1792.9C247.1 1798.3 252.6 1803.3 257.4 1806.4C261 1808.7 264.4 1809.4 267.9 1810.9" fill="none" stroke="#0000ff" stroke-width="2.8" stroke-linejoin="round" stroke-linecap="round" clip-path="url(#cbC)"/><path d="M168.2 1689.5C171.5 1695.5 175 1701 178 1707.5C181.3 1714.4 184.2 1722.4 187 1729.9C189.7 1737.4 192 1744.9 194.5 1752.4C197 1759.9 199.6 1766.8 202 1774.9C204.7 1784.1 207 1794.9 209.5 1804.9C212 1814.9 215 1824.8 217 1834.9C218.9 1844.8 220.3 1854.4 221.5 1864.9C222.7 1876.3 223.3 1888.8 224.2 1900.8" fill="none" stroke="#0000ff" stroke-width="4.4" stroke-linejoin="round" stroke-linecap="round" clip-path="url(#cbC)"/><path d="M168.2 1750.9C171.5 1750.4 175 1748.6 178 1749.4C181.3 1750.3 184.2 1753.7 187 1756.9C190.3 1760.9 193.3 1766.6 196 1771.9C198.8 1777.5 201.2 1783 203.5 1789.9C206.3 1798.5 208.7 1809.9 211 1819.9C213.2 1829.8 215.5 1838.5 217 1849.9C218.9 1864.6 219 1883.8 220 1900.8" fill="none" stroke="#0000ff" stroke-width="3.4" stroke-linejoin="round" stroke-linecap="round" clip-path="url(#cbC)"/><path d="M168.2 1755.4C173 1758.4 178 1760.5 182.5 1764.4C187.8 1769.1 192.6 1775.9 197.5 1782.4C202.7 1789.4 207.5 1797.4 212.5 1804.9C217.5 1812.4 222.3 1820.2 227.5 1827.4C232.3 1834.2 237.4 1840.5 242.4 1846.9C247.4 1853 252.6 1858.5 257.4 1864.9C262.6 1871.5 268 1879.4 272.4 1885.8C276.1 1891.2 278.9 1895.8 282.2 1900.8" fill="none" stroke="#0000ff" stroke-width="2.8" stroke-linejoin="round" stroke-linecap="round" clip-path="url(#cbC)"/><path d="M168.2 1759.9C175.5 1764.9 183.9 1768.7 190 1774.9C196.2 1781.2 200 1789.9 205 1797.4C210 1804.9 215 1812.4 220 1819.9C225 1827.4 230 1834.9 235 1842.4C239.9 1849.9 244.9 1857.5 249.9 1864.9C254.9 1872 260.4 1879.4 264.9 1885.8C268.8 1891.2 271.9 1895.8 275.4 1900.8" fill="none" stroke="#0000ff" stroke-width="2.8" stroke-linejoin="round" stroke-linecap="round" clip-path="url(#cbC)"/><path d="M168.2 1689.5C171.5 1693.5 175.1 1697.2 178 1701.5C180.9 1705.7 183 1709.9 185.5 1715C188.5 1721.1 191.3 1728.7 194.5 1735.9C197.8 1743.7 201 1751.5 205 1759.9C209.4 1769.4 215 1779.9 220 1789.9C225 1799.9 229.7 1810.8 235 1819.9C239.7 1828.1 244.8 1835.4 249.9 1842.4C254.8 1848.8 259.3 1856.5 264.9 1860.4C269.5 1863.5 274 1864.5 279.9 1865.6C288.1 1867.1 299.6 1866.7 309.9 1866.4C321 1866 333.6 1864.3 344.4 1863.1C354.2 1862 363.9 1861.6 372.1 1859.6C379 1857.9 384.3 1856.2 390.5 1852.7C398.1 1848.4 405.8 1840.1 413.6 1834.3C421.2 1828.6 430.1 1823.2 436.6 1818.1C441.8 1814.1 445.4 1809.7 450 1806.6C454.2 1803.7 457.8 1801.4 463.1 1799.7C470.2 1797.4 480.7 1797.4 489.6 1796.2" fill="none" stroke="#0000ff" stroke-width="2.8" stroke-linejoin="round" stroke-linecap="round" clip-path="url(#cbC)"/><path d="M239.4 1901.6C242.9 1893.3 245 1882.6 249.9 1876.8C254 1872.2 260.1 1868.6 264.9 1867.9C269 1867.2 273.4 1868.7 276.9 1870.8C281 1873.3 284.3 1878.2 287.4 1882.8C290.9 1888.2 293.4 1895.3 296.4 1901.6" fill="none" stroke="#0000ff" stroke-width="2.8" stroke-linejoin="round" stroke-linecap="round" clip-path="url(#cbC)"/><path d="M168.1 1679.8C174.6 1687.5 181.2 1693.8 187.7 1702.9C195.5 1713.9 202.7 1729.1 210.7 1742C218.8 1755.2 227.1 1770.7 236.1 1781.2C243.4 1789.8 252.6 1797.1 259.1 1802C263.4 1805.2 266.7 1805.8 270.7 1808.9C275.8 1812.9 280.8 1819.4 286.8 1825C293.7 1831.6 302.2 1838.6 309.8 1845.8C317.6 1853.2 325 1861.8 332.9 1868.8C340.4 1875.5 348.6 1883.5 355.9 1887.3C361.5 1890.1 366.5 1891.8 372.1 1891.9C378 1892 384.2 1889.9 390.5 1887.3C398 1884.2 406 1878.4 413.6 1873.4C421.3 1868.4 429.9 1861.4 436.6 1857.3C441.6 1854.3 449.4 1853.5 450 1850.4C450.6 1847.3 439.7 1843.1 440 1838.9C440.4 1832.8 454.4 1822.1 463.1 1818.1C471.1 1814.4 481.5 1814 489.6 1814.7C496.6 1815.2 502.9 1818.6 509.2 1820.4C514.8 1822.1 519.8 1825.3 525.3 1825C531.3 1824.8 537.2 1820.3 543.7 1818.1C551 1815.7 559 1812.7 566.8 1811.2C574.4 1809.7 582.3 1807.5 589.8 1808.9C597.7 1810.4 605.7 1816.4 612.9 1820.4C619.5 1824.1 626.2 1829.1 631.3 1832C634.9 1833.9 637.3 1837.4 640.6 1836.6C646.2 1835.2 654.1 1820.7 659 1811.2C664.3 1800.9 666 1788.9 670.5 1776.6C675.8 1762.3 682.6 1744.1 689 1730.5C694.2 1719.3 698.4 1708.5 705.1 1700.6C711 1693.6 718.9 1689.8 725.8 1684.4" fill="none" stroke="#0000ff" stroke-width="2.8" stroke-linejoin="round" stroke-linecap="round" clip-path="url(#cbC)"/><path d="M463.1 1792.8C471.9 1799.7 481.1 1812.6 489.6 1813.5C496.3 1814.3 502.2 1805.1 509.2 1804.3C516.4 1803.4 524.5 1807.4 532.2 1808.9C539.9 1810.4 547.5 1812.4 555.3 1813.5C562.9 1814.7 570.7 1816.5 578.3 1815.8C586.1 1815.1 594 1807.5 601.4 1808.9C609.5 1810.5 617.5 1822.9 624.4 1827.3C629.4 1830.5 633.6 1832 638.2 1834.3" fill="none" stroke="#0000ff" stroke-width="2.8" stroke-linejoin="round" stroke-linecap="round" clip-path="url(#cbC)"/><path d="M440 1873.4C447.7 1867.3 454.7 1859.6 463.1 1855C471.2 1850.5 481.3 1847.7 489.6 1845.8C496.5 1844.2 502.5 1845.5 509.2 1843.5C516.7 1841.2 524.8 1837 532.2 1832C540.3 1826.4 547.6 1818.1 555.3 1811.2C562.9 1804.3 571.8 1795.6 578.3 1790.5C582.7 1787 585.1 1783.5 589.8 1782.4C596 1780.9 605.6 1784.8 612.9 1785.8C619.4 1786.7 625.5 1789 631.3 1788.2C637 1787.4 642.9 1784.9 647.5 1781.2C652.3 1777.4 655.4 1771.1 659 1765.1C663.1 1758.2 666.7 1749.7 670.5 1742C674.4 1734.4 678 1726.2 682 1719C685.7 1712.4 687.9 1706.3 693.6 1700.6C701.1 1692.9 715.1 1686.7 725.8 1679.8" fill="none" stroke="#0000ff" stroke-width="2.8" stroke-linejoin="round" stroke-linecap="round" clip-path="url(#cbC)"/><path d="M440 1891.9C447.7 1884.2 454.7 1875.4 463.1 1868.8C471.2 1862.4 480 1855.4 489.6 1852.7C499.2 1850 510.8 1850.7 520.7 1852.7C530.4 1854.6 540.5 1865.8 548.3 1864.2C555.7 1862.8 560.7 1851.4 566.8 1845.8C572.2 1840.7 576.9 1834.2 582.9 1832C588.5 1829.9 594.5 1831.2 601.4 1832C610.2 1833 624.2 1838.1 631.3 1838.9C635.3 1839.3 637.5 1838.9 640.6 1838.9" fill="none" stroke="#0000ff" stroke-width="2.8" stroke-linejoin="round" stroke-linecap="round" clip-path="url(#cbC)"/><path d="M555.3 1902.3C559.1 1891.1 561.2 1877 566.8 1868.8C571.1 1862.5 577 1856.4 582.9 1855C588.6 1853.7 595.2 1856.6 601.4 1859.6C609 1863.4 618.6 1870.7 624.4 1878.1C630 1885 632.1 1894.2 635.9 1902.3" fill="none" stroke="#0000ff" stroke-width="2.8" stroke-linejoin="round" stroke-linecap="round" clip-path="url(#cbC)"/><path d="M631.3 1901.8C634.9 1885.8 638.1 1868.9 642.1 1853.8C645.7 1840 649.6 1827.7 653.8 1814.7C658.1 1801.5 663.4 1787.6 667.5 1775.5C671.1 1765 673.7 1754.8 677.3 1746.1C680.4 1738.8 683.6 1733.2 687.1 1726.5C690.8 1719.5 694.5 1710.8 698.9 1705C702.5 1700.1 706.4 1697.2 710.6 1693.2C715.2 1688.8 720.4 1684.3 725.3 1679.9" fill="none" stroke="#0000ff" stroke-width="3.3" stroke-linejoin="round" stroke-linecap="round" clip-path="url(#cbC)"/><path d="M636.8 1901.8C640 1885.9 642.8 1869.1 646.4 1854C649.6 1840.3 653.2 1827.9 657.2 1815C661.1 1801.9 666 1788 669.9 1775.9C673.2 1765.5 675.6 1755.3 679 1746.6C681.8 1739.4 685 1733.8 688.3 1727.1C691.8 1720.1 695.3 1711.5 699.5 1705.7C703 1700.9 706.9 1697.9 711 1693.9C715.4 1689.6 720.5 1685.1 725.3 1680.7" fill="none" stroke="#0000ff" stroke-width="3.3" stroke-linejoin="round" stroke-linecap="round" clip-path="url(#cbC)"/><path d="M642.3 1901.8C645.1 1885.9 647.4 1869.2 650.7 1854.2C653.6 1840.5 656.9 1828.2 660.5 1815.3C664.1 1802.3 668.7 1788.4 672.3 1776.4C675.3 1766 677.4 1755.8 680.6 1747.2C683.3 1739.9 686.3 1734.3 689.4 1727.7C692.8 1720.7 696 1712.2 700.1 1706.3C703.5 1701.6 707.3 1698.6 711.3 1694.7C715.6 1690.3 720.6 1685.9 725.3 1681.4" fill="none" stroke="#0000ff" stroke-width="3.3" stroke-linejoin="round" stroke-linecap="round" clip-path="url(#cbC)"/><path d="M647.7 1901.8C650.2 1886 652.1 1869.3 655 1854.3C657.5 1840.7 660.5 1828.5 663.8 1815.6C667.1 1802.6 671.4 1788.8 674.6 1776.8C677.4 1766.4 679.3 1756.4 682.2 1747.7C684.7 1740.5 687.6 1734.9 690.6 1728.4C693.7 1721.4 696.8 1712.8 700.7 1707C704 1702.3 707.7 1699.4 711.6 1695.4C715.9 1691.1 720.8 1686.6 725.3 1682.2" fill="none" stroke="#0000ff" stroke-width="3.3" stroke-linejoin="round" stroke-linecap="round" clip-path="url(#cbC)"/><path d="M644 1901.8C648.6 1885.8 652.3 1868.8 657.7 1853.8C662.8 1839.9 669.5 1826.7 675.4 1814.7C680.6 1804.1 685.9 1793.4 691 1785.3C695 1779.1 698.6 1774 702.8 1769.6C706.5 1765.7 710.5 1762.1 714.5 1759.8C718 1757.8 721.7 1757.2 725.3 1755.9" fill="none" stroke="#0000ff" stroke-width="2.8" stroke-linejoin="round" stroke-linecap="round" clip-path="url(#cbC)"/><path d="M668.5 1901.8C670.8 1889.1 673.1 1875.5 675.4 1863.6C677.3 1853.2 679.3 1844 681.2 1834.2C683.2 1824.4 684.9 1813.6 687.1 1804.9C688.9 1797.6 690.7 1791.6 693 1785.3C695.3 1779.2 697.3 1772.3 700.8 1767.6C704 1763.4 708.3 1760.1 712.6 1757.8C716.5 1755.7 721.1 1755.2 725.3 1753.9" fill="none" stroke="#0000ff" stroke-width="3.6" stroke-linejoin="round" stroke-linecap="round" clip-path="url(#cbC)"/><path d="M675.4 1901.8C677.5 1889.1 679.6 1875.5 681.6 1863.6C683.5 1853.2 685.3 1843.8 687.1 1834.2C688.8 1825 690.2 1815.4 692.2 1807.2C693.9 1800.3 695.6 1794.3 697.9 1788.2C700.1 1782.3 702.4 1775.8 705.7 1771.2C708.6 1767.1 712.6 1763.7 716.1 1761.2C719.1 1759 722.2 1757.9 725.3 1756.3" fill="none" stroke="#0000ff" stroke-width="3.6" stroke-linejoin="round" stroke-linecap="round" clip-path="url(#cbC)"/><path d="M1436.7 1139.2C1444.5 1157.3 1452.9 1177.4 1460.1 1193.5C1466.1 1206.5 1471.2 1217.1 1476.9 1228.6C1482.4 1239.9 1487.4 1252.6 1493.6 1262C1498.7 1269.9 1503.6 1276.1 1510.3 1282.1C1517.4 1288.5 1527.9 1293.4 1535.4 1298.8C1541.6 1303.4 1546.7 1307.1 1552.1 1312.2C1557.9 1317.6 1562.6 1327 1568.8 1330.6C1573.9 1333.5 1579.9 1333.9 1585.5 1333.9C1591.1 1333.9 1596.4 1331.4 1602.2 1330.6C1608.6 1329.7 1616.9 1327.5 1622.3 1328.9C1626.4 1330 1629.1 1332.6 1632.3 1335.6C1636.4 1339.4 1639.6 1345.4 1644 1350.6C1649 1356.5 1654.9 1363.6 1660.7 1369C1666.1 1374 1672.1 1378.9 1677.4 1382.4C1681.8 1385.2 1685.5 1386.5 1690 1389.1C1695.2 1392 1701.2 1395.5 1706.7 1399.1C1712.4 1402.7 1717.9 1407.6 1723.4 1410.8C1728.4 1413.6 1733.2 1417.5 1738.5 1417.5C1744.3 1417.4 1751.2 1413 1756.9 1409.1C1763 1404.9 1768.1 1398.4 1773.6 1392.4C1779.3 1386.1 1784.8 1379.2 1790.3 1372.3C1795.9 1365.3 1801.4 1357.9 1807 1350.6C1812.6 1343.4 1818.3 1336.5 1823.7 1328.9C1829.4 1320.9 1835 1312.7 1840.4 1303.8C1846.2 1294.3 1852.7 1282.6 1857.1 1273.7C1860.6 1266.9 1862.8 1261.9 1865.5 1255.3C1868.4 1248.1 1871.1 1240 1873.9 1231.9C1876.7 1223.4 1879.3 1213.8 1882.2 1205.2C1884.9 1197.1 1887.7 1189.4 1890.6 1181.8C1893.3 1174.4 1896 1167.2 1898.9 1160.1C1901.8 1153 1905.1 1146.1 1908.1 1139.2" fill="none" stroke="#0000ff" stroke-width="2.8" stroke-linejoin="round" stroke-linecap="round" clip-path="url(#cbD)"/><path d="M1438.4 1139.2C1446.8 1159 1455 1180.8 1463.5 1198.5C1470.6 1213.4 1476.7 1227.6 1485.2 1238.6C1492.6 1248.2 1501.8 1254.7 1510.3 1262C1518.5 1269.1 1527.8 1276.1 1535.4 1282.1C1541.5 1287 1546.4 1291.5 1552.1 1295.5C1557.5 1299.2 1563 1303 1568.8 1305.5C1574.2 1307.9 1579.9 1310 1585.5 1310.5C1591 1311 1596.5 1309.1 1602.2 1308.8C1608.2 1308.5 1615.2 1308.1 1620.6 1308.8C1625 1309.4 1628.6 1309.4 1632.3 1312.2C1637.8 1316.3 1642.5 1327.9 1647.3 1335.6C1652 1342.9 1655.7 1350.6 1660.7 1357.3C1665.7 1363.9 1672.4 1369.6 1677.4 1375.7C1682.1 1381.3 1685 1387.9 1690 1392.4C1694.8 1396.7 1701.2 1399 1706.7 1402.4C1712.3 1405.9 1717.9 1410.4 1723.4 1413.3C1728.4 1415.9 1733.2 1419.2 1738.5 1419.1C1744.3 1419.1 1750.4 1416.2 1756.9 1411.6C1767.1 1404.3 1779.4 1387.2 1790.3 1374C1801.7 1360.2 1813.6 1344.6 1823.7 1330.6C1832.9 1317.9 1841.4 1305.4 1848.8 1293.8C1855.1 1283.8 1858.8 1274.3 1865.5 1265.4C1872.6 1255.9 1882.5 1248.3 1890.6 1238.6C1899.2 1228.3 1908.3 1215.9 1915.6 1205.2C1922 1195.9 1926.8 1188.4 1932.4 1178.5C1938.8 1166.8 1945.2 1152.3 1951.6 1139.2" fill="none" stroke="#0000ff" stroke-width="2.8" stroke-linejoin="round" stroke-linecap="round" clip-path="url(#cbD)"/><path d="M1440.1 1139.2C1449.6 1161.2 1458.4 1188.6 1468.5 1205.2C1475.5 1216.7 1482.4 1225.7 1490.2 1231.9C1496.5 1237 1504 1238.5 1510.3 1242C1516.2 1245.2 1521.7 1247.8 1527 1252C1532.9 1256.6 1538.1 1263.1 1543.7 1268.7C1549.3 1274.3 1554.9 1279.9 1560.4 1285.4C1566 1291 1571 1299.2 1577.1 1302.1C1582.3 1304.6 1588.3 1304.1 1593.9 1303.8C1599.4 1303.5 1605.8 1302.1 1610.6 1300.5C1614.4 1299.1 1617.1 1297.1 1620.6 1295.5C1624.3 1293.7 1627.8 1291.8 1632.3 1290.4C1638 1288.8 1646 1287 1652.4 1287.1C1658.2 1287.2 1663.6 1288.6 1669.1 1290.4C1674.8 1292.4 1682.3 1295.1 1685.8 1298.8C1688.4 1301.6 1687.5 1305.7 1690 1308.8C1693.5 1313.1 1701.1 1316.9 1706.7 1320.5C1712.2 1324.1 1717.8 1328.3 1723.4 1330.6C1728.4 1332.5 1733.2 1334 1738.5 1333.9C1744.3 1333.8 1751.3 1332.1 1756.9 1328.9C1763.1 1325.3 1768.2 1318.5 1773.6 1312.2C1779.4 1305.2 1784.3 1295.4 1790.3 1288.8C1795.6 1282.9 1801 1276.7 1807 1273.7C1812.2 1271.1 1818.1 1271.2 1823.7 1270.4C1829.3 1269.6 1835.9 1269.8 1840.4 1268.7C1843.8 1267.9 1846.3 1267.5 1848.8 1265.4C1852.1 1262.6 1854.5 1256.8 1857.1 1252C1860.1 1246.8 1862.4 1240 1865.5 1235.3C1868.1 1231.3 1870.3 1228.3 1873.9 1225.3C1878.2 1221.5 1885.1 1219 1890.6 1215.2C1896.3 1211.3 1902 1207.1 1907.3 1201.9C1913.2 1196.1 1918.7 1189.2 1924 1181.8C1929.9 1173.7 1935.7 1162.8 1940.7 1155.1C1944.7 1149 1948 1144.5 1951.6 1139.2" fill="none" stroke="#0000ff" stroke-width="2.8" stroke-linejoin="round" stroke-linecap="round" clip-path="url(#cbD)"/><path d="M1448.4 1139.2C1455.1 1148.9 1461.2 1158.8 1468.5 1168.4C1476.2 1178.6 1485 1189.1 1493.6 1198.5C1501.7 1207.4 1510.6 1214.3 1518.6 1223.6C1527.4 1233.6 1534.9 1247.2 1543.7 1257C1551.7 1265.9 1561.1 1274.2 1568.8 1280.4C1574.7 1285.2 1579.6 1289.9 1585.5 1292.1C1590.8 1294.1 1596.6 1294.7 1602.2 1293.8C1608.3 1292.8 1615.6 1284 1620.6 1285.4C1625.8 1287 1626.8 1300.8 1632.3 1303.8C1637.5 1306.7 1646 1303.2 1652.4 1303.8C1658.2 1304.4 1663.7 1305.1 1669.1 1307.2C1674.8 1309.4 1682.1 1314.6 1685.8 1317.2C1687.7 1318.5 1688.1 1319.2 1690 1320.5C1693.7 1323.1 1701 1327.7 1706.7 1330.6C1712.2 1333.3 1717.9 1335.9 1723.4 1337.2C1728.5 1338.5 1733.3 1339.5 1738.5 1338.9C1744.4 1338.2 1751.2 1335.8 1756.9 1332.2C1763 1328.3 1768.2 1321.8 1773.6 1315.5C1779.4 1308.6 1784.4 1299 1790.3 1292.1C1795.6 1285.8 1801.1 1280 1807 1275.4C1812.3 1271.2 1818.1 1268.7 1823.7 1265.4C1829.3 1262 1835 1259.1 1840.4 1255.3C1846.1 1251.4 1851.6 1246.4 1857.1 1242C1862.7 1237.5 1868.3 1233.3 1873.9 1228.6C1879.5 1223.8 1885.2 1219.1 1890.6 1213.6C1896.4 1207.5 1901.9 1200.7 1907.3 1193.5C1913.1 1185.8 1919.4 1177.4 1924 1168.4C1928.7 1159.3 1931.2 1148.9 1934.9 1139.2" fill="none" stroke="#0000ff" stroke-width="2.8" stroke-linejoin="round" stroke-linecap="round" clip-path="url(#cbD)"/><path d="M1496.9 1139.2C1501.4 1147.8 1505.6 1155.9 1510.3 1165.1C1515.6 1175.5 1521.2 1187.9 1527 1198.5C1532.4 1208.5 1538 1217.8 1543.7 1226.9C1549.2 1235.6 1554.8 1243.8 1560.4 1252C1565.9 1260 1571.4 1268.2 1577.1 1275.4C1582.5 1282.1 1588 1288.6 1593.9 1293.8C1599.2 1298.5 1605.5 1303.4 1610.6 1305.5C1614.2 1306.9 1617.3 1306.6 1620.6 1307.2" fill="none" stroke="#0000ff" stroke-width="4.2" stroke-linejoin="round" stroke-linecap="round" clip-path="url(#cbD)"/><path d="M1503.6 1139.2C1508.6 1148.9 1513.4 1158.7 1518.6 1168.4C1524 1178.4 1530 1187.9 1535.4 1198.5C1541.2 1210 1546.4 1223.4 1552.1 1235.3C1557.5 1246.7 1562.4 1259.9 1568.8 1268.7C1573.8 1275.7 1579.4 1282.2 1585.5 1285.4C1590.7 1288.2 1596.5 1289 1602.2 1288.8C1608.2 1288.6 1614.5 1285.4 1620.6 1283.8" fill="none" stroke="#0000ff" stroke-width="4.2" stroke-linejoin="round" stroke-linecap="round" clip-path="url(#cbD)"/><path d="M1602.2 1288.8C1608.3 1287.1 1614.7 1285.4 1620.6 1283.8C1626.2 1282.3 1631.7 1279.3 1636.9 1279.3C1641.7 1279.3 1646.2 1282.2 1650.7 1283C1654.8 1283.7 1658.9 1284.7 1662.7 1283.9C1666.6 1283.1 1669.9 1281.1 1673.8 1278.3C1679.5 1274.2 1686.1 1266.3 1692.2 1259.9C1698.4 1253.4 1705 1245.8 1710.7 1239.6C1715.6 1234.3 1719.4 1227.8 1724.5 1224.8C1728.8 1222.3 1733.7 1221.3 1738.3 1221.2C1742.9 1221.1 1747.1 1222.5 1752.2 1223.9C1758.6 1225.7 1766.8 1231.7 1773.6 1231.9C1779.4 1232.1 1785.1 1230 1790.3 1226.9C1796.3 1223.3 1801.3 1215.3 1807 1210.2C1812.4 1205.3 1818.1 1201.1 1823.7 1196.8C1829.2 1192.7 1834.7 1188.3 1840.4 1185.1C1845.8 1182.2 1851.5 1180.1 1857.1 1178.5C1862.6 1176.8 1868.3 1176.5 1873.9 1175.1C1879.5 1173.7 1885.2 1172.7 1890.6 1170.1C1896.4 1167.3 1901.2 1162.9 1907.3 1158.4C1914.8 1152.9 1924 1145.6 1932.4 1139.2" fill="none" stroke="#0000ff" stroke-width="2.8" stroke-linejoin="round" stroke-linecap="round" clip-path="url(#cbD)"/><path d="M1523.7 1139.2C1530.3 1148.9 1537.6 1158.1 1543.7 1168.4C1549.9 1179 1554.7 1191.1 1560.4 1201.9C1565.9 1212.2 1571.1 1223.2 1577.1 1231.9C1582.4 1239.6 1587.6 1247.9 1593.9 1252C1599 1255.4 1605.7 1255.9 1610.6 1257C1614.3 1257.9 1617.2 1259.3 1620.6 1258.7C1624.5 1258 1629 1256 1632.3 1252C1637.7 1245.5 1640.4 1232.3 1644 1218.6C1649.4 1197.9 1653.5 1165.6 1658.2 1139.2" fill="none" stroke="#0000ff" stroke-width="2.8" stroke-linejoin="round" stroke-linecap="round" clip-path="url(#cbD)"/><path d="M1535.4 1139.2C1542 1146.1 1549 1151.9 1555.4 1160.1C1563 1169.6 1570.7 1182.2 1577.1 1193.5C1583.4 1204.5 1587.5 1218.1 1593.9 1226.9C1598.9 1234 1605.3 1240.4 1610.6 1243.6C1614.1 1245.8 1617.4 1247.7 1620.6 1247C1624.7 1246 1628.9 1240.7 1632.3 1235.3C1637.3 1227.4 1640.5 1214.9 1644 1201.9C1648.7 1184.4 1651.8 1160.1 1655.7 1139.2" fill="none" stroke="#0000ff" stroke-width="2.8" stroke-linejoin="round" stroke-linecap="round" clip-path="url(#cbD)"/><path d="M1573.8 1139.2C1577.7 1148.9 1581 1158.4 1585.5 1168.4C1590.4 1179.3 1597.1 1191.7 1602.2 1201.9C1606.5 1210.3 1609.8 1221.2 1613.9 1225.3C1616.1 1227.4 1618.1 1228.4 1620.6 1228.6C1623.6 1228.8 1627.5 1227.8 1630.6 1225.3C1635.6 1221.2 1640.2 1211.5 1644 1201.9C1649.2 1188.6 1653.7 1162.9 1655.7 1151.7C1656.7 1146.2 1656.8 1143.4 1657.4 1139.2" fill="none" stroke="#0000ff" stroke-width="2.8" stroke-linejoin="round" stroke-linecap="round" clip-path="url(#cbD)"/><path d="M1582.2 1139.2C1587.2 1153.4 1592.2 1168.5 1597.2 1181.8C1601.7 1193.7 1605.8 1207.1 1610.6 1215.2C1613.8 1220.6 1616.8 1226.4 1620.6 1227.4C1623.9 1228.3 1628.2 1226.5 1631.5 1223.6C1636.5 1219.1 1640.4 1208.9 1644 1198.5C1649.3 1183.2 1652.4 1159 1656.5 1139.2" fill="none" stroke="#0000ff" stroke-width="2.8" stroke-linejoin="round" stroke-linecap="round" clip-path="url(#cbD)"/><path d="M1620 1285C1621 1282.2 1621.6 1279.9 1623 1276.5C1625.2 1271 1629.7 1262.6 1632.3 1255.3C1634.9 1247.9 1636.8 1240.3 1638.7 1232.2C1640.8 1223.4 1642.5 1213.8 1644.3 1204.6C1646.2 1195.4 1648 1186.1 1649.8 1176.9C1651.6 1167.7 1653.9 1156.4 1655.3 1149.2C1656.2 1144.6 1656.8 1141.7 1657.5 1138" fill="none" stroke="#0000ff" stroke-width="4.6" stroke-linejoin="round" stroke-linecap="round" clip-path="url(#cbD)"/><path d="M1610 1286C1613.5 1285 1617.1 1284.6 1620.6 1283C1624.5 1281.2 1628.2 1277.9 1632.3 1275.6C1636.6 1273.2 1641.2 1271.6 1646.1 1269.1C1651.9 1266.2 1658.5 1262.8 1664.6 1259C1670.9 1255.1 1677.1 1251.1 1683 1246.1C1689.4 1240.7 1695.2 1233.7 1701.4 1227.6C1707.6 1221.5 1713.4 1214.1 1719.9 1209.2C1725.8 1204.8 1732.5 1199.4 1738.3 1199C1743.2 1198.7 1747.2 1202.2 1752.2 1204.6C1758.7 1207.7 1767.1 1214.3 1773.6 1216.9C1778.4 1218.8 1782.7 1220.8 1786.9 1220.2C1791.1 1219.7 1794.8 1217.1 1798.6 1213.6C1804.4 1208.2 1809.9 1194.9 1815.4 1188.5C1819.3 1183.8 1822.8 1178.1 1827.1 1177.6C1831.2 1177.1 1836 1181.8 1840.4 1185.1C1846 1189.4 1851.3 1197.3 1857.1 1201.9C1862.5 1206 1868.6 1210 1873.9 1211.9C1877.9 1213.3 1881.6 1214 1885.6 1213.6C1889.9 1213.1 1894.6 1211.5 1898.9 1208.5C1904.7 1204.6 1910.3 1197 1915.6 1190.2C1921.5 1182.6 1926.5 1173.4 1932.4 1165.1C1938.4 1156.4 1945.2 1147.8 1951.6 1139.2" fill="none" stroke="#0000ff" stroke-width="2.8" stroke-linejoin="round" stroke-linecap="round" clip-path="url(#cbD)"/><path d="M1627 1282C1629.7 1279.9 1632.6 1278.9 1635 1275.6C1638.8 1270.3 1641 1259.2 1644.3 1250.7C1647.8 1241.7 1651.8 1231.8 1655.3 1223C1658.5 1214.9 1661.5 1207.6 1664.6 1199.9C1667.7 1192.2 1670.3 1183.3 1673.8 1176.9C1676.6 1171.8 1679.3 1166.8 1683 1164C1686.2 1161.6 1690.4 1159.7 1694 1160.3C1698.1 1161 1701.8 1166.5 1706 1169.5C1710.4 1172.6 1714.7 1176.6 1719.9 1178.7C1725.4 1181 1732.6 1182.6 1738.3 1182.4C1743.3 1182.2 1747.4 1181.3 1752.2 1178.7C1759 1175.1 1767.4 1166.8 1773.6 1160.1C1779.4 1153.6 1783.6 1146.1 1788.6 1139.2" fill="none" stroke="#0000ff" stroke-width="2.8" stroke-linejoin="round" stroke-linecap="round" clip-path="url(#cbD)"/><path d="M1625 1280C1627.4 1277.9 1630.1 1277 1632.3 1273.7C1636.2 1267.8 1638.3 1253.7 1641.5 1244.2C1644.5 1235.3 1647.5 1226.7 1650.7 1218.4C1653.7 1210.5 1656.8 1202.5 1660 1195.3C1662.9 1188.8 1666.1 1182.8 1669.2 1176.9C1672.2 1171.2 1674.9 1164.7 1678.4 1160.3C1681.2 1156.8 1684.4 1154.2 1687.6 1152C1690.5 1150 1693.7 1147.5 1696.8 1147.4C1699.8 1147.3 1702.8 1149.2 1706 1151.1C1710.4 1153.7 1714.6 1160.2 1719.9 1163C1725.3 1165.8 1733.2 1167.6 1738.3 1167.7C1741.9 1167.8 1743.8 1167.2 1747.5 1165.8C1754.2 1163.2 1766.2 1153.6 1773.6 1150C1778.6 1147.6 1782.1 1144.9 1786.9 1145C1793 1145.1 1800.9 1150.1 1807 1153.4C1812.5 1156.3 1818.3 1162.9 1822 1163.4C1824.1 1163.7 1825.4 1163.2 1827.1 1161.7C1830.8 1158.5 1834.9 1146.7 1838.8 1139.2" fill="none" stroke="#0000ff" stroke-width="2.8" stroke-linejoin="round" stroke-linecap="round" clip-path="url(#cbD)"/><path d="M1416.9 1538C1426.1 1540 1436.2 1539.9 1444.6 1543.8C1453.1 1547.8 1460.4 1554.8 1467.6 1562.2C1475.9 1570.6 1483.1 1582 1490.7 1592.2C1498.5 1602.7 1505.7 1614.6 1513.7 1624.5C1521.2 1633.7 1528.3 1644.5 1536.8 1649.8C1543.9 1654.3 1551.3 1654.9 1559.8 1656.8C1570.1 1659 1583.8 1659.9 1594.4 1661.4C1603.5 1662.6 1613.6 1662.6 1619.8 1664.8C1623.8 1666.3 1626.1 1667.7 1629 1670.6C1633.1 1674.7 1637 1681.9 1640.5 1689C1644.8 1697.6 1648.3 1708.6 1652 1719C1656 1730.1 1659.9 1741.5 1663.6 1753.6C1667.6 1766.7 1671.9 1785.6 1675.1 1795.1C1676.8 1800.2 1676.7 1805.4 1679.7 1806.6C1683.8 1808.2 1693.2 1800.4 1700 1797.4" fill="none" stroke="#0000ff" stroke-width="2.8" stroke-linejoin="round" stroke-linecap="round" clip-path="url(#cbD)"/><path d="M1416.9 1598C1424.6 1596.4 1432 1592.7 1440 1593.4C1448.9 1594.1 1459.3 1598.7 1467.6 1603.7C1476.2 1608.9 1483.1 1617.3 1490.7 1624.5C1498.5 1631.9 1506 1640.1 1513.7 1647.5C1521.3 1654.7 1528.5 1664.1 1536.8 1668.3C1544 1671.9 1551.3 1672 1559.8 1672.9C1570.2 1673.9 1583.8 1672.2 1594.4 1672.9C1603.5 1673.5 1613.5 1674.8 1619.8 1676.3C1623.7 1677.3 1626.2 1677.4 1629 1679.8C1633.4 1683.6 1636.9 1692.9 1640.5 1700.6C1644.7 1709.5 1648.4 1719.6 1652 1730.5C1656.2 1743.1 1659.7 1758.4 1663.6 1772C1667.4 1785.3 1671.5 1801.1 1675.1 1811.2C1677.5 1817.8 1678 1825.3 1682 1827.3C1686.2 1829.4 1694 1824.3 1700 1822.7" fill="none" stroke="#0000ff" stroke-width="2.8" stroke-linejoin="round" stroke-linecap="round" clip-path="url(#cbD)"/><path d="M1416.9 1638.3C1428.4 1641.8 1440.7 1644.6 1451.5 1648.7C1461.4 1652.4 1469.6 1656.1 1479.2 1661.4C1490.3 1667.6 1502 1677.8 1513.7 1684.4C1525 1690.8 1536.6 1696.3 1548.3 1700.6C1559.7 1704.7 1571.1 1707.3 1582.9 1709.8C1594.9 1712.3 1609.2 1714.4 1619.8 1715.5C1627.7 1716.4 1633.6 1715.1 1640.5 1716.7C1648.1 1718.4 1656.3 1721.1 1663.6 1725.9C1671.9 1731.4 1682.3 1745.4 1686.6 1749C1688.2 1750.2 1688.6 1750 1690 1751.3C1692.8 1753.8 1697.8 1760 1701.5 1765.1C1705.6 1770.7 1707.4 1779 1713.1 1783.5C1719.3 1788.6 1730.3 1792.2 1738.4 1792.8C1745.6 1793.2 1752.4 1791.1 1759.2 1788.2C1767 1784.7 1774.8 1778.2 1782.2 1772C1790.2 1765.3 1797.7 1756.9 1805.3 1749C1813 1740.8 1820.8 1732.6 1828.3 1723.6C1836.2 1714.2 1843.4 1702.7 1851.4 1693.6C1858.8 1685.2 1866.4 1677.3 1874.4 1670.6C1881.8 1664.4 1889.6 1659.1 1897.5 1654.4C1905 1650 1912.6 1645.2 1920.5 1642.9C1928 1640.8 1935.4 1641.3 1943.6 1640.6C1952.9 1639.8 1963.6 1639.1 1973.5 1638.3" fill="none" stroke="#0000ff" stroke-width="2.8" stroke-linejoin="round" stroke-linecap="round" clip-path="url(#cbD)"/><path d="M1416.9 1633.7C1422.3 1638.3 1427.4 1642 1433.1 1647.5C1440.3 1654.5 1448.8 1663.5 1456.1 1672.9C1464.2 1683.3 1471.7 1695.3 1479.2 1707.5C1487.1 1720.5 1494 1740.6 1502.2 1749C1507.4 1754.2 1513.2 1759.2 1518.3 1758.2C1524.8 1756.9 1530.6 1744.1 1536.8 1735.1C1544.4 1724 1552 1708.5 1559.8 1695.9C1567.4 1683.9 1574.7 1671.4 1582.9 1661.4C1590.2 1652.5 1598.7 1642.8 1605.9 1638.3C1610.8 1635.3 1615.1 1636.6 1619.8 1633.7C1626.5 1629.6 1633.4 1620.1 1640.5 1613C1648 1605.5 1655.5 1597.6 1663.6 1589.9C1672 1581.8 1681.3 1572.5 1690.1 1565.7C1697.8 1559.7 1705.3 1556.2 1713.1 1550.7C1721.4 1544.8 1730.3 1531.3 1738.4 1531.1C1745.6 1531 1752.7 1539.2 1759.2 1546.1C1767.6 1555.1 1774.6 1570.5 1782.2 1583C1790 1595.8 1797.2 1610.2 1805.3 1622.2C1812.6 1633.1 1821.1 1645.4 1828.3 1652.1C1833.1 1656.6 1837.4 1660.7 1842.1 1661.4C1846.6 1662 1851.5 1659.9 1856 1656.8C1862.4 1652.3 1868 1641.9 1874.4 1633.7C1881.7 1624.4 1889.6 1613.2 1897.5 1603.7C1905 1594.8 1912.7 1586.5 1920.5 1578.4C1928.1 1570.4 1934.9 1561.8 1943.6 1555.3C1952.5 1548.7 1963.6 1544.6 1973.5 1539.2" fill="none" stroke="#0000ff" stroke-width="4.2" stroke-linejoin="round" stroke-linecap="round" clip-path="url(#cbD)"/><path d="M1842.1 1661.4C1849.1 1656.8 1856.1 1653.1 1862.9 1647.5C1870.7 1641.1 1878.2 1631.9 1885.9 1624.5C1893.5 1617.3 1900.8 1608.8 1909 1603.7C1916.3 1599.2 1924.2 1596 1932 1594.5C1939.6 1593.1 1947.9 1594.1 1955.1 1594.5C1961.6 1594.9 1967.4 1596.1 1973.5 1596.8" fill="none" stroke="#0000ff" stroke-width="2.8" stroke-linejoin="round" stroke-linecap="round" clip-path="url(#cbD)"/><path d="M1416.9 1634.9C1426.1 1639.8 1435.5 1642.4 1444.6 1649.8C1456.4 1659.5 1467.5 1677.8 1479.2 1691.3C1490.6 1704.7 1503 1720.2 1513.7 1730.5C1521.8 1738.2 1527.7 1745.1 1536.8 1749C1546.7 1753.2 1558.9 1753.5 1571.4 1753.6C1586.1 1753.7 1605.3 1750 1619.8 1747.8C1631.6 1746 1642.2 1742.4 1652 1742C1660.4 1741.7 1668.6 1741.4 1675.1 1744.4C1681.2 1747.1 1687.1 1751.3 1690.1 1758.2C1694.7 1768.8 1683.9 1802.8 1690 1806.6C1694.4 1809.3 1704.9 1797 1713.1 1795.1C1721.1 1793.2 1730.4 1794.6 1738.4 1795.1C1745.7 1795.5 1751.6 1797.2 1759.2 1797.4C1768.2 1797.5 1781.1 1798.4 1789.1 1795.1C1795.9 1792.3 1799.7 1786.9 1805.3 1781.2C1812.6 1773.8 1820.9 1763.5 1828.3 1753.6C1836.3 1742.9 1843.3 1729.4 1851.4 1719C1858.7 1709.6 1866.4 1701.1 1874.4 1693.6C1881.8 1686.7 1889.5 1680.3 1897.5 1675.2C1904.9 1670.4 1912.7 1666.8 1920.5 1663.7C1928.1 1660.7 1935.8 1660.8 1943.6 1656.8C1953.4 1651.7 1963.6 1641.4 1973.5 1633.7" fill="none" stroke="#0000ff" stroke-width="2.8" stroke-linejoin="round" stroke-linecap="round" clip-path="url(#cbD)"/><path d="M1416.9 1636.3C1426.1 1641.5 1436.9 1645.5 1444.6 1651.9C1451.7 1657.8 1456.3 1665.3 1461.9 1672.6C1467.8 1680.3 1473.6 1688.3 1479.2 1696.9C1485.2 1706.1 1491.6 1717.2 1496.5 1726.3C1500.5 1733.7 1503.1 1740.9 1506.9 1747C1510.1 1752.3 1513.3 1756.6 1517.2 1760.8C1521.3 1765.2 1526.4 1768 1531.1 1773C1536.8 1779.1 1543.3 1788.2 1548.4 1795.4C1552.7 1801.7 1554.7 1807.8 1559.8 1813.4C1565.7 1820.1 1574.9 1826.8 1582.9 1832C1590.3 1836.7 1599.1 1841.2 1605.9 1843.5C1611 1845.1 1614.7 1845.1 1619.8 1845.8C1626 1846.6 1633.7 1849.6 1640.5 1848.1C1648.3 1846.4 1657.2 1838.1 1663.6 1834.3C1668.1 1831.6 1671.6 1826.6 1675.1 1827.3C1679.4 1828.2 1681.9 1841.5 1686.6 1843.5C1690.5 1845.1 1695.5 1841.9 1700 1841.2" fill="none" stroke="#0000ff" stroke-width="2.8" stroke-linejoin="round" stroke-linecap="round" clip-path="url(#cbD)"/><path d="M1416.9 1641.5C1421.5 1645 1425.8 1647.3 1430.8 1651.9C1437.7 1658.3 1446.3 1669.6 1453.2 1677.8C1459.4 1685.1 1465 1691.1 1470.5 1698.6C1476.5 1706.6 1482.1 1715.7 1487.8 1724.5C1493.7 1733.6 1499.8 1745 1505.1 1752.2C1508.8 1757.2 1511.5 1760.5 1515.5 1764.3C1520 1768.6 1526.1 1771.4 1531.1 1776.4C1537.1 1782.5 1542.5 1791.6 1548.4 1798.9C1554.1 1806 1559.8 1813.6 1565.7 1819.6C1570.8 1824.9 1576 1828.9 1581.2 1833.5" fill="none" stroke="#0000ff" stroke-width="2.8" stroke-linejoin="round" stroke-linecap="round" clip-path="url(#cbD)"/><path d="M1416.9 1667.5C1420.4 1668 1424.3 1667.3 1427.3 1669.2C1430.8 1671.4 1433.3 1676.4 1435.9 1681.3C1439.3 1687.5 1442 1695.9 1444.6 1703.8C1447.3 1712 1449.4 1721.4 1451.5 1729.7C1453.4 1737.5 1455.2 1744.4 1456.7 1752.2C1458.3 1760.5 1459.6 1769.2 1461 1778.1C1462.5 1787.6 1464 1797.3 1465.3 1807.5C1466.8 1818.6 1468.2 1830.6 1469.7 1842.1" fill="none" stroke="#0000ff" stroke-width="2.8" stroke-linejoin="round" stroke-linecap="round" clip-path="url(#cbD)"/><path d="M1416.9 1635.5C1421.5 1636.9 1426.3 1637.5 1430.8 1639.8C1435.6 1642.3 1440.2 1646.1 1444.6 1650.2C1449.4 1654.6 1453.8 1660.5 1458.4 1665.7" fill="none" stroke="#0000ff" stroke-width="6" stroke-linejoin="round" stroke-linecap="round" clip-path="url(#cbD)"/><path d="M1416.9 1712.4C1421.5 1713.6 1426.7 1713.8 1430.8 1715.9C1434.7 1717.9 1438.2 1720.5 1441.1 1724.5C1445 1729.9 1447.2 1739.2 1449.8 1747C1452.5 1755.3 1454.7 1764.3 1456.7 1773C1458.7 1781.6 1460.2 1790.2 1461.9 1798.9C1463.6 1807.5 1465.6 1816.2 1467.1 1824.8C1468.5 1833.5 1469.4 1842.1 1470.5 1850.8C1471.7 1859.4 1473 1868.1 1474 1876.7C1475 1885.1 1475.7 1893.4 1476.6 1901.8" fill="none" stroke="#0000ff" stroke-width="4.6" stroke-linejoin="round" stroke-linecap="round" clip-path="url(#cbD)"/><path d="M1416.9 1715.9C1423.3 1718.8 1430.3 1720.9 1435.9 1724.5C1441.2 1727.9 1445.5 1732.1 1449.8 1736.6C1454.2 1741.3 1457.4 1746.7 1461.9 1752.2C1467.1 1758.7 1473.6 1765.5 1479.2 1773C1485.2 1781 1491.7 1790.6 1496.5 1798.9C1500.6 1806.1 1503.3 1812.9 1506.9 1819.6C1510.3 1826.2 1513.4 1832.3 1517.2 1838.7C1521.4 1845.5 1526.2 1852.1 1531.1 1859.4C1536.5 1867.6 1543.4 1877.7 1548.4 1885.4C1552.3 1891.4 1555.3 1896.3 1558.7 1901.8" fill="none" stroke="#0000ff" stroke-width="2.8" stroke-linejoin="round" stroke-linecap="round" clip-path="url(#cbD)"/><path d="M1416.9 1717.6C1425 1720.5 1434.7 1721.6 1441.1 1726.3C1447.1 1730.5 1450.4 1737.2 1455 1743.5C1460.2 1750.8 1465.2 1759.6 1470.5 1767.8C1476.1 1776.3 1482.1 1784.9 1487.8 1793.7C1493.7 1802.7 1499.5 1812.5 1505.1 1821.4C1510.4 1829.7 1515.8 1837.5 1520.7 1845.6C1525.5 1853.6 1529.9 1861.7 1534.5 1869.8C1539.1 1877.9 1544.8 1888.2 1548.4 1894C1550.4 1897.4 1551.8 1899.2 1553.5 1901.8" fill="none" stroke="#0000ff" stroke-width="2.8" stroke-linejoin="round" stroke-linecap="round" clip-path="url(#cbD)"/><path d="M1416.9 1759.1C1421.5 1760.3 1426.4 1760.3 1430.8 1762.6C1435.7 1765.2 1440.8 1770 1444.6 1774.7C1448.3 1779.3 1450.4 1784.9 1453.2 1790.2C1456.2 1795.8 1458.2 1801.6 1461.9 1807.5C1466.4 1814.8 1473.4 1822.5 1479.2 1830C1484.9 1837.5 1490.8 1844.8 1496.5 1852.5C1502.3 1860.4 1508 1868.6 1513.8 1876.7C1519.6 1885 1525.3 1893.4 1531.1 1901.8" fill="none" stroke="#0000ff" stroke-width="2.8" stroke-linejoin="round" stroke-linecap="round" clip-path="url(#cbD)"/><path d="M1416.9 1892.3C1423.3 1890.6 1429.9 1889.7 1435.9 1887.1C1442 1884.5 1448 1880.6 1453.2 1876.7C1458.3 1873 1462.6 1868.5 1467.1 1864.6C1471.2 1861 1475 1857.8 1479.2 1854.2C1483.6 1850.4 1488.6 1846.7 1493 1842.1C1497.9 1837.1 1502.6 1827.6 1506.9 1824.8C1509.3 1823.3 1511.4 1822.9 1513.8 1823.1C1516.5 1823.3 1519.3 1824.4 1522.4 1826.6C1527.6 1830.1 1534 1839 1539.7 1845.6C1545.6 1852.3 1550.9 1860.4 1557 1866.3C1562.5 1871.7 1569.8 1876.7 1574.3 1880.2C1577.1 1882.4 1578.9 1883.6 1581.2 1885.4" fill="none" stroke="#0000ff" stroke-width="3.6" stroke-linejoin="round" stroke-linecap="round" clip-path="url(#cbD)"/><path d="M1506.9 1824.8C1510.3 1827.1 1513.8 1828.6 1517.2 1831.8C1521.8 1836 1526.5 1843.3 1531.1 1849C1535.7 1854.8 1539 1863.4 1544.9 1866.3C1550.6 1869.2 1559.2 1867.3 1565.7 1867.2C1571.2 1867.2 1574.9 1866.8 1581.2 1866.3C1591.2 1865.6 1611.5 1865.8 1619.8 1863.1C1624.1 1861.6 1625.6 1858.6 1629 1857.3C1632.5 1855.9 1636 1855.7 1640.5 1855C1646.9 1854.1 1656.9 1853.6 1663.6 1852.7C1668.8 1852 1673.7 1848.5 1677.4 1850.4C1681.9 1852.7 1682.2 1866.6 1686.6 1868.8C1690.2 1870.6 1695.5 1867.3 1700 1866.5" fill="none" stroke="#0000ff" stroke-width="2.8" stroke-linejoin="round" stroke-linecap="round" clip-path="url(#cbD)"/><path d="M1467.1 1824.8C1470 1836.4 1473.2 1847.3 1475.7 1859.4C1478.5 1872.8 1480.3 1887.7 1482.6 1901.8" fill="none" stroke="#0000ff" stroke-width="2.8" stroke-linejoin="round" stroke-linecap="round" clip-path="url(#cbD)"/><path d="M1493 1838.7C1497.1 1845.6 1501.2 1852.2 1505.1 1859.4C1509.3 1867.1 1513.2 1876.2 1517.2 1883.6C1520.7 1890.2 1524.1 1895.7 1527.6 1901.8" fill="none" stroke="#0000ff" stroke-width="2.8" stroke-linejoin="round" stroke-linecap="round" clip-path="url(#cbD)"/><path d="M1617.5 1902.3C1625.2 1898.8 1632.7 1894.4 1640.5 1891.9C1648.1 1889.5 1656.3 1888.9 1663.6 1887.3C1670.1 1885.8 1677.4 1880.5 1682 1882.7C1686.9 1885 1688.2 1895.7 1691.2 1902.3" fill="none" stroke="#0000ff" stroke-width="2.8" stroke-linejoin="round" stroke-linecap="round" clip-path="url(#cbD)"/><path d="M1690 1829.6C1697.7 1824.3 1704.9 1817.8 1713.1 1813.5C1721 1809.3 1730.3 1805.3 1738.4 1804.3C1745.6 1803.4 1752.1 1805.8 1759.2 1806.6C1766.6 1807.4 1774.5 1808.1 1782.2 1808.9C1789.9 1809.7 1799.4 1812.3 1805.3 1811.2C1809.2 1810.5 1811.4 1809.2 1814.5 1806.6C1819.1 1802.8 1822.4 1793.1 1828.3 1788.2C1834.6 1782.9 1844.9 1777.5 1851.4 1776.6C1855.7 1776 1858.8 1777.1 1862.9 1778.9C1868.6 1781.5 1876 1791.7 1881.3 1792.8C1884.7 1793.5 1887.5 1792.9 1890.6 1790.5C1896.9 1785.4 1902.5 1766.6 1909 1753.6C1916.3 1739.1 1924.4 1722.8 1932 1707.5C1939.7 1692.1 1947.4 1674.6 1955.1 1661.4C1961.3 1650.8 1967.4 1642.9 1973.5 1633.7" fill="none" stroke="#0000ff" stroke-width="2.8" stroke-linejoin="round" stroke-linecap="round" clip-path="url(#cbD)"/><path d="M1690 1845.8C1697.7 1840.4 1704.8 1833.5 1713.1 1829.6C1721 1825.9 1730.3 1823.8 1738.4 1822.7C1745.6 1821.8 1752.5 1823.9 1759.2 1822.7C1765.6 1821.6 1772.1 1819.6 1777.6 1815.8C1783.8 1811.6 1787.7 1803.5 1793.7 1797.4C1800.6 1790.5 1808.7 1782.1 1816.8 1776.6C1824.1 1771.6 1831.9 1766.6 1839.8 1765.1C1847.3 1763.7 1855.2 1767.8 1862.9 1767.4C1870.6 1767 1878.7 1766.4 1885.9 1762.8C1894.2 1758.6 1902 1750.9 1909 1742C1917.7 1731.1 1924.3 1714.1 1932 1700.6C1939.7 1687.3 1947.2 1671.6 1955.1 1661.4C1961.1 1653.6 1967.4 1649.1 1973.5 1642.9" fill="none" stroke="#0000ff" stroke-width="2.8" stroke-linejoin="round" stroke-linecap="round" clip-path="url(#cbD)"/><path d="M1690 1868.8C1697.7 1863.5 1705.1 1858 1713.1 1852.7C1721.2 1847.2 1730.1 1838 1738.4 1836.6C1745.4 1835.3 1751.7 1838.9 1759.2 1841.2C1768.3 1843.9 1781.3 1854.9 1789.1 1852.7C1796.2 1850.7 1799.3 1837.8 1805.3 1832C1810.9 1826.4 1816.5 1820.2 1823.7 1818.1C1831.6 1815.8 1842.6 1820.9 1851.4 1820.4C1859.4 1820 1867 1819 1874.4 1815.8C1882.5 1812.4 1890.2 1806.4 1897.5 1799.7C1905.7 1792.1 1912.9 1781.5 1920.5 1772C1928.3 1762.3 1934.9 1751.5 1943.6 1742C1952.5 1732.2 1963.6 1723.6 1973.5 1714.4" fill="none" stroke="#0000ff" stroke-width="2.8" stroke-linejoin="round" stroke-linecap="round" clip-path="url(#cbD)"/><path d="M1791.4 1902.3C1796 1891.1 1799.4 1878.2 1805.3 1868.8C1810.4 1860.6 1816.1 1850.1 1823.7 1848.1C1831.4 1846 1842.8 1853.4 1851.4 1857.3C1859.6 1861.1 1866.7 1866.5 1874.4 1871.1" fill="none" stroke="#0000ff" stroke-width="2.8" stroke-linejoin="round" stroke-linecap="round" clip-path="url(#cbD)"/><path d="M1863.7 1901.8C1868.6 1882.6 1873.4 1862.5 1878.4 1844C1882.9 1827 1887.6 1810.5 1892.1 1795.1C1896.1 1781.3 1900 1768 1903.8 1755.9C1907.2 1745.4 1910 1737 1913.6 1726.5C1917.8 1714.4 1922.2 1698.5 1927.3 1687.3C1931.5 1678.3 1936 1671.1 1941 1663.8C1945.9 1656.8 1950.8 1649.5 1956.7 1644.2C1962.1 1639.4 1968.7 1636.7 1974.7 1632.9" fill="none" stroke="#0000ff" stroke-width="4.3" stroke-linejoin="round" stroke-linecap="round" clip-path="url(#cbD)"/><path d="M1867.6 1901.8C1872.3 1882.6 1877 1862.4 1881.9 1844C1886.4 1827.3 1891.1 1811.2 1895.6 1796C1899.6 1782.3 1903.5 1768.8 1907.3 1756.9C1910.7 1746.6 1913.7 1738.7 1917.1 1728.5C1921.2 1716.5 1925.3 1700.9 1930.3 1689.7C1934.3 1680.5 1938.7 1673.2 1943.6 1665.8C1948.2 1658.6 1953.1 1651.3 1958.7 1645.8C1963.6 1640.9 1969.4 1638 1974.7 1634" fill="none" stroke="#0000ff" stroke-width="4.3" stroke-linejoin="round" stroke-linecap="round" clip-path="url(#cbD)"/><path d="M1872.1 1901.8C1876.8 1882.9 1881.4 1863.1 1886.2 1845C1890.6 1828.3 1895.1 1812.2 1899.5 1797C1903.5 1783.3 1907.4 1769.7 1911.3 1757.8C1914.5 1747.8 1917.7 1740.3 1921.1 1730.4C1925.1 1718.8 1928.8 1703.3 1933.6 1692.2C1937.5 1683.1 1941.9 1675.7 1946.5 1668.1C1950.9 1660.9 1955.5 1653.4 1960.6 1647.8C1965 1642.8 1970 1639.5 1974.7 1635.4" fill="none" stroke="#0000ff" stroke-width="4.3" stroke-linejoin="round" stroke-linecap="round" clip-path="url(#cbD)"/><path d="M1878.4 1901.8C1882.9 1883.9 1887.2 1864.8 1892.1 1848C1896.4 1832.7 1900.8 1818.8 1905.8 1804.9C1910.6 1791.4 1916 1778.1 1921.4 1765.7C1926.5 1754.1 1931.8 1743.3 1937.1 1732.4C1942.3 1721.7 1947.5 1710.4 1952.8 1701C1957.3 1693.1 1962.3 1685.2 1966.5 1679.5C1969.4 1675.5 1972 1673 1974.7 1669.7" fill="none" stroke="#0000ff" stroke-width="2.8" stroke-linejoin="round" stroke-linecap="round" clip-path="url(#cbD)"/><path d="M1909.7 1901.8C1912.3 1885.8 1914.8 1869 1917.5 1853.8C1920 1840.1 1922.8 1827.7 1925.4 1814.7C1928 1801.6 1930.4 1787.6 1933.2 1775.5C1935.7 1764.9 1938.1 1754.8 1941 1746.1C1943.5 1738.8 1945.2 1731.7 1948.9 1726.5C1952 1721.9 1956.2 1718 1960.6 1715.7C1964.9 1713.6 1970 1713.8 1974.7 1712.8" fill="none" stroke="#0000ff" stroke-width="4.2" stroke-linejoin="round" stroke-linecap="round" clip-path="url(#cbD)"/><path d="M1915.2 1901.8C1917.6 1885.8 1919.8 1869 1922.4 1853.8C1924.8 1840.1 1927.8 1827.7 1930.3 1814.7C1932.7 1801.6 1934.4 1787.3 1937.1 1775.5C1939.4 1765.5 1942 1756.1 1945 1748.1C1947.4 1741.4 1949.6 1735.5 1952.8 1730.4C1955.6 1725.9 1958.7 1721.3 1962.6 1718.7C1966.1 1716.3 1970.7 1716.1 1974.7 1714.8" fill="none" stroke="#0000ff" stroke-width="4.2" stroke-linejoin="round" stroke-linecap="round" clip-path="url(#cbD)"/><path d="M1917.5 1863.6C1924.1 1868.2 1930.5 1873 1937.1 1877.3C1943.6 1881.5 1950.1 1886.3 1956.7 1889.1C1962.7 1891.6 1968.7 1892.4 1974.7 1894" fill="none" stroke="#0000ff" stroke-width="4" stroke-linejoin="round" stroke-linecap="round" clip-path="url(#cbD)"/><path d="M1927.3 1720.6C1933.9 1707.6 1940 1690.3 1946.9 1681.4C1951.3 1675.8 1955.7 1672.1 1960.6 1669.7C1965 1667.5 1970 1667.7 1974.7 1666.8" fill="none" stroke="#0000ff" stroke-width="2.8" stroke-linejoin="round" stroke-linecap="round" clip-path="url(#cbD)"/><path d="M1892.1 1840.1C1895.3 1840.8 1898.5 1840.5 1901.9 1842.1C1906.3 1844.3 1911.5 1854 1915.6 1853.8C1919.2 1853.7 1922.1 1847.3 1925.4 1844" fill="none" stroke="#0000ff" stroke-width="2.8" stroke-linejoin="round" stroke-linecap="round" clip-path="url(#cbD)"/><path d="M1917.5 1804.9C1924.1 1795.1 1929.7 1782.5 1937.1 1775.5C1943.1 1769.8 1950.1 1766.3 1956.7 1763.7C1962.6 1761.4 1968.7 1761.1 1974.7 1759.8" fill="none" stroke="#0000ff" stroke-width="2.8" stroke-linejoin="round" stroke-linecap="round" clip-path="url(#cbD)"/><path d="M925.8 99.4C916.2 101.3 897.1 103.1 897 105C896.9 106.4 905.1 108.1 912.5 109.4C929.9 112.6 971.7 114.8 1001.3 117.2C1030.9 119.6 1059.2 122 1090 123.8C1123.4 125.8 1159.6 126.8 1194.3 128.3" fill="none" stroke="#000000" stroke-width="3.3" stroke-linejoin="round" stroke-linecap="round" clip-path="url(#cpA)"/><path d="M1194.3 150.5C1130 151.6 1056.8 152.2 1001.3 153.8C959.2 155 917.6 156.5 890.3 158.2C874.4 159.3 853.6 158.1 852.6 161.6C851.9 164.1 868.5 169.5 868.1 172.7C867.8 175.8 858 178.2 850.4 180.4C838.3 184 817.5 185.7 801.6 188.2C786.4 190.5 768.1 192.1 757.2 194.9C750.6 196.5 741.6 198.3 741.7 200.4C741.7 203.7 766.2 209.5 779.4 212.6C793.4 215.9 812.8 217.5 823.8 219.3C830.3 220.3 839.2 220.8 839.3 221.9C839.3 223 830.3 224.6 823.8 225.9C812.8 228.1 793.3 230.2 779.4 232.6C766.9 234.7 745.6 234.4 743.9 239.2C742.6 242.9 757.4 249.9 757.2 254.8C757 259.5 746.5 264.7 743.9 268.1C742.5 269.9 742 269.8 741.2 272.5C736.4 290 741.8 480 741.2 480C741.1 480 740.9 470 740.8 470C740.6 470 739.2 486.2 740.8 493.1C742.2 499.1 743.9 505.4 748.8 509.2C755.5 514.4 771.6 513.5 781.1 516.1C788.9 518.2 802 521.1 801.9 523C801.8 524.9 788.1 525.5 781.1 527.6C773.5 530 757.8 534.4 758.1 536.9C758.5 540.3 787.2 541.7 804.2 543.8C824.9 546.4 864 547.1 873.3 550.7C876 551.7 878.2 553.1 878 554.2C877.2 557.4 832.3 556.3 827.2 562.2C825.1 564.7 829.3 568.8 827.2 571.5C822.5 577.5 781 579.9 781.1 583C781.3 586 808.3 587.9 827.2 589.9C857 593 907.8 594.5 942.5 596.8C971.2 598.7 1020.9 600.5 1020.9 602.6C1020.9 604.4 985.3 606.4 965.6 608.3C942.8 610.6 891.8 612.7 891.8 615.3C891.7 617.4 922.4 619.6 942.5 622.2C971.9 625.9 1050.9 631.6 1050.9 634.9C1050.9 637.3 1013.5 638.9 988.6 640.6C951.6 643.3 891.7 645 850.3 647.5C816.4 649.7 776.1 651.2 758.1 654.5C750.4 655.8 744.9 655.4 741.9 659.1C738.8 662.9 741 671.4 740.8 677.5C740.6 683.7 737.2 691.2 740.8 696C746.1 703.1 763.5 704.1 781.1 707.5C813.3 713.6 871.5 717.2 919.5 721.3C971.2 725.8 1031.6 729.9 1080.9 732.9C1122.5 735.4 1157.7 736.7 1196.1 738.6" fill="none" stroke="#000000" stroke-width="3.3" stroke-linejoin="round" stroke-linecap="round" clip-path="url(#cpA)"/><path d="M1196.1 746.7C1173.1 749 1143.7 750.3 1127 753.6C1117.1 755.6 1114 758.1 1103.9 760.5C1085.3 764.9 1039.7 770 1023.2 774.4C1015.7 776.3 1007 778.1 1007.1 780.1C1007.1 782.9 1037.1 786.7 1037.1 789.3C1037 791.6 1016.4 792.9 1016.3 795.1C1016.2 797.2 1025.6 800.1 1034.7 802C1057.9 807 1161.6 807.4 1161.6 810.1C1161.6 812.8 1071.6 815.3 1034.7 818.2C1006.1 820.4 958.7 822.8 958.7 825.1C958.7 827.4 1004.6 830.2 1034.7 832C1078.5 834.6 1142.3 835.1 1196.1 836.6" fill="none" stroke="#000000" stroke-width="3.3" stroke-linejoin="round" stroke-linecap="round" clip-path="url(#cpA)"/><path d="M1196.1 847C1142.3 849.3 1075 851 1034.7 853.9C1010.7 855.6 984.4 853 977.1 859.7C973.7 862.8 975.6 868.1 974.8 872.4" fill="none" stroke="#000000" stroke-width="3.3" stroke-linejoin="round" stroke-linecap="round" clip-path="url(#cpA)"/><path d="M1187.5 1161.5C1166.5 1163 1139.1 1163.6 1124.6 1166C1116.7 1167.2 1106.6 1169 1106.6 1170.5C1106.6 1172 1116.7 1173.7 1124.6 1175C1139.1 1177.3 1166.5 1178 1187.5 1179.4" fill="none" stroke="#000000" stroke-width="3" stroke-linejoin="round" stroke-linecap="round" clip-path="url(#cpC)"/><path d="M1187.5 1249.1C1174 1251.4 1160.9 1253.3 1147.1 1255.9C1132.5 1258.5 1118.7 1262.1 1102.1 1264.9C1082 1268.2 1056.1 1271.1 1034.7 1273.9C1015.1 1276.3 979.3 1276.7 978.5 1280.6C978.1 1282.5 985.1 1285.1 989.7 1287.3C996.2 1290.4 1014.6 1293.7 1014.4 1296.3C1014.3 1298.9 1000.6 1300.9 989.7 1303.1C969.2 1307.1 927.6 1310.7 899.8 1314.3C875.7 1317.4 847 1320.3 832.4 1323.3C825.2 1324.8 816.6 1326.1 816.7 1327.8C816.7 1330.4 841.1 1334.3 854.9 1336.8C870.7 1339.7 906.5 1341.2 906.6 1343.5C906.6 1345.3 889.1 1347.5 877.3 1349.2C859.5 1351.6 831.3 1352.6 809.9 1354.8C790.3 1356.8 765.2 1358.6 753.7 1361.5C748.4 1362.9 743 1363.7 742.5 1366C741.9 1368.7 753.9 1373.8 753.7 1377.2C753.5 1380.5 746.3 1382.8 742.5 1386.2C738.1 1390.2 731.7 1394.1 729 1399.7C726.1 1405.9 727.2 1412.1 726.7 1422.2C725.7 1443.3 726.5 1510.2 726.7 1520C726.8 1521.7 726.9 1521.7 726.9 1523.1C727 1525.7 725 1531.4 726.9 1534.6C729.3 1538.7 737.5 1540.5 743.1 1543.8C749 1547.4 756.7 1551 761.5 1555.3C765.5 1558.9 765.8 1563.8 770.7 1566.9C779.1 1572.1 796.6 1573.3 812.2 1576.1C832.3 1579.6 861.6 1582.2 881.4 1585.3C896.3 1587.6 920.5 1589.5 920.6 1592.2C920.6 1594.9 890.4 1597.8 881.4 1601.4C876.2 1603.5 869.7 1606 869.8 1608.3C870 1611.4 889.9 1613.9 890.6 1617.6C891.1 1620.3 880.6 1624.4 881.4 1626.8C882.9 1631.4 907.9 1631.8 927.5 1633.7C961.2 1637.1 1021.1 1637.8 1065.8 1640.6C1107.8 1643.3 1147.2 1646.8 1188 1649.8" fill="none" stroke="#000000" stroke-width="3" stroke-linejoin="round" stroke-linecap="round" clip-path="url(#cpC)"/><path d="M1188 1652.1C1147.2 1655.2 1101.7 1657.8 1065.8 1661.4C1037.4 1664.2 989.7 1667.9 989.7 1670.6C989.7 1673.3 1037.4 1675.7 1065.8 1677.5C1101.7 1679.8 1147.2 1680.6 1188 1682.1" fill="none" stroke="#000000" stroke-width="3" stroke-linejoin="round" stroke-linecap="round" clip-path="url(#cpC)"/><path d="M1188 1730.5C1154.9 1733.6 1119.9 1736.7 1088.8 1739.7C1061.2 1742.5 1010.5 1745.1 1010.5 1747.8C1010.5 1750.5 1061.1 1753.8 1088.8 1755.9C1119.9 1758.2 1154.9 1759 1188 1760.5" fill="none" stroke="#000000" stroke-width="3" stroke-linejoin="round" stroke-linecap="round" clip-path="url(#cpC)"/><path d="M2433.8 1302.6C2405 1305.9 2376.3 1309.1 2347.3 1312.5C2317.9 1316.1 2269.1 1317.1 2258.5 1323.6C2255.3 1325.6 2254.4 1328 2254.1 1330.3C2253.8 1332.4 2257.4 1335.1 2256.3 1337C2253.5 1341.5 2229.4 1340.7 2214.1 1343.6C2195.8 1347.1 2162.6 1353.1 2154.2 1356.9C2151.7 1358.1 2149.6 1359 2149.8 1360.3C2150.1 1363.1 2176.7 1368.6 2176.4 1371.4C2176.1 1374.1 2159.2 1375.2 2147.5 1376.9C2130 1379.5 2102.1 1380.8 2081 1383.6C2061.6 1386.1 2041.4 1388 2025.5 1392.4C2012.8 1396 2001 1400.9 1992.2 1405.8C1985.8 1409.3 1980.3 1409.8 1976.7 1416.8C1968 1433.4 1976.5 1507.3 1975.5 1522.3C1975.3 1526.3 1973.4 1527.5 1974.6 1530C1976.6 1534.1 1986.8 1538 1993.1 1541.5C1999.1 1544.9 2005.6 1547.6 2011.5 1550.7C2017.1 1553.7 2020.3 1557.3 2027.6 1559.9C2040.7 1564.5 2065.1 1566.5 2085.3 1569.2C2107.2 1572 2136.2 1573.4 2154.4 1576.1C2166.5 1577.8 2184.3 1579.5 2184.4 1581.8C2184.5 1584.1 2163.3 1586.3 2154.4 1589.9C2146.7 1593.1 2134.2 1597.4 2133.7 1601.4C2133.3 1604.4 2137.9 1608.2 2142.9 1610.7C2153.5 1615.8 2178 1615.5 2200.5 1617.6C2232.3 1620.4 2276.8 1622.8 2315.8 1624.5C2355.9 1626.3 2397.2 1626.8 2438 1627.9" fill="none" stroke="#000000" stroke-width="3" stroke-linejoin="round" stroke-linecap="round" clip-path="url(#cpD)"/><path d="M2438 1639.5C2404.9 1641.4 2364.7 1642.5 2338.8 1645.2C2322 1647 2297.3 1649.8 2297.3 1651.7C2297.4 1653.6 2322 1655.3 2338.8 1656.8C2364.8 1658.9 2404.9 1659.8 2438 1661.4" fill="none" stroke="#000000" stroke-width="3" stroke-linejoin="round" stroke-linecap="round" clip-path="url(#cpD)"/><path d="M2438 1693.6C2397.2 1695.9 2351 1697 2315.8 1700.6C2288.7 1703.3 2244.3 1707.9 2244.3 1710.9C2244.4 1714 2288.7 1716.7 2315.8 1719C2351 1722 2397.2 1723.6 2438 1725.9" fill="none" stroke="#000000" stroke-width="3" stroke-linejoin="round" stroke-linecap="round" clip-path="url(#cpD)"/><path d="M2438 1889.6C2420.3 1891.1 2396.6 1890.5 2384.9 1894.2C2378.5 1896.2 2375.7 1899.6 2371.1 1902.3" fill="none" stroke="#000000" stroke-width="3" stroke-linejoin="round" stroke-linecap="round" clip-path="url(#cpD)"/><path d="M757.2 99.4C757.2 102.4 755.2 105.7 757.2 108.3C761.7 114.4 785.9 117.7 801.6 121.6C818.9 126 839.1 129.5 857 132.7C873.8 135.7 905.9 138.2 905.9 140.5C905.9 142.5 882.5 144.3 868.1 146C849.1 148.4 820.6 150.1 801.6 152.7C787.2 154.7 770.9 155 763.8 159.4C760 161.7 759 165 757.2 168.2C755.3 171.6 754.7 175.4 752.8 179.3C750.4 184.1 745.5 189.5 743.9 194.9C742.4 199.9 741.2 205.9 742.8 210.4C744.3 214.8 752.8 218 752.8 221.5C752.7 224.6 745.8 226.4 743.9 230.4C741.5 235.4 742.2 240 741.7 250.3C739.7 285.2 741.8 480 741.2 480C741.1 480 740.9 470 740.8 470C740.6 470 739.1 485 740.8 493.1C742.7 502.6 754.2 515.1 753.4 523C752.9 528.7 743.2 532.7 744.2 536.9C745.7 542.6 771.2 546.6 771.9 551.9C772.4 555.9 761.5 559.4 758.1 564.5C754.5 569.8 748.9 577.7 751.1 583C754.7 591.2 794.7 595.2 794.9 601.4C795.2 606.7 765.9 611.5 765 617.6C764.2 622.5 782 628.9 781.1 633.7C779.9 640.1 749.9 643.9 744.2 649.8C741.4 652.8 741.5 654.9 740.8 659.1C739.3 667.2 733.9 687.5 740.8 696C749.8 707.2 778 705.7 804.2 709.8C845.5 716.3 911.2 720.8 965.6 725.9C1021.1 731.2 1133.8 735.4 1133.9 740.9C1134 745.2 1069.3 748.9 1034.7 754.8C996.6 761.3 916.1 770.7 914.8 779C914.3 782.4 932.9 785.8 933.3 789.3C933.6 792 923.3 795.1 924.1 797.4C926.1 804 1020.9 804.9 1020.9 808.9C1020.9 813.7 882.5 819.2 882.6 823.9C882.6 829.3 1066.9 832.8 1067 838.9C1067.1 844.8 908.6 846 896.4 859.7C893.1 863.4 896.4 868.1 896.4 872.4" fill="none" stroke="#ff00ff" stroke-width="3.3" stroke-linejoin="round" stroke-linecap="round" clip-path="url(#cpA)"/><path d="M854.9 1134.5C866.1 1138.6 888.8 1143.5 888.6 1146.9C888.4 1150.2 866.9 1151.8 854.9 1154.7C840.9 1158.1 814.5 1160.1 809.9 1166C807.9 1168.5 808 1172.3 809.9 1175C813.7 1180.2 833.6 1182.1 843.6 1186.2C852 1189.7 865.8 1193.1 866.1 1197.4C866.4 1202 851 1207.6 843.6 1213.2C836 1218.8 829.8 1226.1 821.1 1231.1C811.4 1236.8 797.1 1238.6 787.4 1244.6C778.6 1250.1 770.8 1257.9 765 1264.9C760.1 1270.7 755.4 1277 753.7 1282.8C752.4 1287.5 755.6 1291.8 753.7 1296.3C751 1303 736.9 1309.6 733.5 1316.6C730.9 1321.7 730.7 1327.6 731.2 1332.3C731.7 1336.4 736 1339.9 735.7 1343.5C735.4 1347.4 730.5 1349.5 729 1354.8C726.2 1364.5 728.2 1381.1 727.9 1399.7C727.3 1430.1 726.7 1499.3 726.7 1520C726.8 1527.2 726.1 1529.2 726.9 1534.6C728 1541.5 730.8 1551.1 733.8 1557.6C736.4 1563 739.2 1566.7 743.1 1571.5C747.9 1577.4 759.8 1583.4 761.5 1589.9C762.8 1595.1 757.2 1600.8 756.9 1606C756.6 1610.8 759.3 1615.5 759.2 1619.9C759.1 1623.9 755 1628.3 756.9 1631.4C760.1 1636.6 778.9 1637 789.2 1640.6C798.8 1644 816.2 1647.3 816.8 1652.1C817.4 1656.7 795.2 1663.9 796.1 1668.3C797.1 1673.7 820.6 1676.3 835.3 1679.8C853.5 1684.2 890.3 1684.5 897.5 1691.3C900.3 1694 898.6 1697.8 899.8 1700.6C900.9 1703.1 901.4 1705.4 904.4 1707.5C911.5 1712.5 935.8 1715 950.5 1719C964.2 1722.7 989.8 1727.1 989.7 1730.5C989.6 1734 964.3 1737 950.5 1739.7C935.3 1742.8 902.1 1745.1 902.1 1747.8C902.1 1750.5 929.7 1753 950.5 1755.9C988.2 1761.1 1109.5 1767.5 1109.6 1773.2C1109.6 1777.4 1046 1782.3 1019.7 1785.8C999 1788.6 964.6 1789.3 964.4 1792.8C964.1 1796.2 1005.4 1801.3 1019.7 1806.6C1029.3 1810.1 1034.2 1814.3 1042.7 1818.1C1053 1822.7 1077.5 1827.2 1077.3 1832C1077.1 1837.9 1036.4 1844.4 1019.7 1850.4C1006.6 1855.1 984.9 1860.4 985.1 1864.2C985.3 1868 1005.3 1870.6 1019.7 1873.4C1042.9 1878 1103.8 1874.5 1111.9 1885C1115.4 1889.5 1110.3 1896.5 1109.6 1902.3" fill="none" stroke="#ff00ff" stroke-width="3" stroke-linejoin="round" stroke-linecap="round" clip-path="url(#cpC)"/><path d="M2145.8 1139.4C2144.1 1142.4 2140.7 1145.4 2140.9 1148.3C2141.1 1151.3 2148.3 1154.6 2147.5 1157.2C2146.5 1161 2133.6 1163.3 2125.3 1166.1C2115.5 1169.4 2100.2 1170.2 2092.1 1174.9C2086 1178.4 2079.5 1183.5 2078.7 1188.3C2078.1 1192.5 2081.2 1197.5 2085.4 1201.6C2092.4 1208.4 2123.2 1213.7 2123.1 1219.3C2123.1 1224.8 2092.5 1229.1 2087.6 1234.9C2085.2 1237.7 2084.2 1240.9 2085.4 1243.7C2087.4 1248.5 2107.9 1253.1 2107.6 1257.1C2107.3 1261.3 2090.9 1264.7 2081 1268.2C2069.1 1272.3 2047.5 1273.5 2041 1279.3C2037.6 1282.4 2039.2 1286.3 2036.6 1290.3C2032.3 1296.9 2019.6 1304.6 2014.4 1312.5C2009.8 1319.5 2009.5 1327.2 2005.5 1334.7C2000.9 1343.4 1991.4 1353.4 1987.8 1361.4C1985.1 1367 1985.2 1372 1983.3 1376.9C1981.5 1381.6 1978.4 1383.2 1976.7 1390.2C1971.6 1411.2 1976.7 1505.1 1975.5 1522.3C1975.3 1526.4 1974.1 1526.9 1974.6 1530C1975.4 1535.3 1980.5 1544.6 1983.8 1550.7C1986.7 1555.9 1989 1560.3 1993.1 1564.5C1997.8 1569.6 2009.5 1572.6 2011.5 1578.4C2013.3 1583.6 2007.2 1590.8 2006.9 1596.8C2006.6 1602.3 2005.7 1608.9 2009.2 1613C2014 1618.6 2028.8 1618.9 2039.2 1622.2C2050.3 1625.7 2072.2 1628.3 2073.7 1633.7C2074.8 1637.5 2061.3 1643.8 2062.2 1647.5C2063.3 1651.9 2075.3 1654.1 2085.3 1656.8C2101.9 1661.1 2131.4 1662.5 2154.4 1666C2177.5 1669.4 2223.6 1674.2 2223.6 1677.5C2223.6 1680.2 2193.5 1681.5 2177.5 1684.4C2159.8 1687.6 2131.4 1689.4 2122.1 1695.9C2117.6 1699.1 2113.9 1704.4 2115.2 1707.5C2117.5 1712.8 2138.5 1714 2154.4 1716.7C2178.6 1720.7 2213.6 1722.1 2246.6 1725.9C2285 1730.3 2370.5 1734.9 2371.1 1742C2371.5 1746.7 2320.7 1752.7 2320.4 1758.2C2320.1 1762.3 2348.4 1766.8 2348.1 1770.9C2347.5 1777 2281.2 1782.3 2281.2 1788.2C2281.2 1794.2 2352.9 1800.8 2352.7 1806.6C2352.3 1814.1 2228.5 1820.6 2228.2 1827.3C2228 1831.3 2251 1835.3 2269.7 1838.9C2306.7 1846 2381.9 1851.2 2438 1857.3" fill="none" stroke="#ff00ff" stroke-width="3" stroke-linejoin="round" stroke-linecap="round" clip-path="url(#cpD)"/><path d="M2438 1874.6C2397.2 1877.3 2355.9 1880.1 2315.8 1882.7C2276.8 1885.1 2229.1 1884.4 2200.5 1889.6C2183 1892.7 2172.9 1898 2159 1902.3" fill="none" stroke="#ff00ff" stroke-width="3" stroke-linejoin="round" stroke-linecap="round" clip-path="url(#cpD)"/><path d="M878.1 99.4C870.4 100.9 854.9 102.1 854.8 103.9C854.7 105.2 861.6 106.9 868.1 108.3C884.6 111.8 925.7 114.1 956.9 117.2C991.8 120.7 1029.6 125.4 1067.9 128.3C1108.6 131.4 1152.2 132.7 1194.3 134.9" fill="none" stroke="#8000ff" stroke-width="3.3" stroke-linejoin="round" stroke-linecap="round" clip-path="url(#cpA)"/><path d="M1194.3 143.8C1152.2 145.3 1112.2 146.5 1067.9 148.3C1018.7 150.2 955.4 153.1 912.5 154.9C882.2 156.2 849 155.9 834.9 158.2C829.4 159.2 823.9 159.9 823.8 161.6C823.5 164 845.8 169.3 846 172.7C846 175.1 839.8 177.5 834.9 179.3C826.9 182.2 813.5 182.8 801.6 184.9C787.8 187.2 768 189.1 757.2 192.6C750.5 194.8 741.5 197.8 741.7 200.4C742 204.4 766.2 209.1 779.4 212.6C793.5 216.4 823.8 219 823.8 221.9C823.7 224.9 793.3 227.3 779.4 230.4C766.8 233.1 745.5 234 743.9 239.2C742.6 243.1 757.4 249.9 757.2 254.8C757 259.5 746.5 264.7 743.9 268.1C742.5 269.9 742 269.8 741.2 272.5C736.4 290 741.8 480 741.2 480C741.1 480 740.9 470 740.8 470C740.6 470 739.2 486.2 740.8 493.1C742.2 499.1 743.9 504.7 748.8 509.2C756.2 515.8 785.5 518.2 785.7 523C785.9 527.5 755.3 533.5 755.8 536.9C756.4 541 788.9 541.1 804.2 543.8C818 546.2 843.2 548.5 843.4 551.9C843.5 555.4 803.6 559.6 801.9 564.5C801.1 566.7 807.2 569.3 806.5 571.5C804.8 576.1 769.3 580 769.6 583C769.9 586.6 804.4 587.5 827.2 589.9C860.4 593.5 949.3 596.9 949.4 601.4C949.5 605.5 850.3 610.7 850.3 615.3C850.2 619.1 896 623.6 919.5 626.8C943.6 630.1 993.3 632.6 993.2 634.9C993.2 637.2 946.8 638.7 919.5 640.6C885.3 643 836.6 643.6 804.2 647.5C780.1 650.5 749.7 650.3 741.9 659.1C737.7 663.8 741 671 740.8 677.5C740.5 684.8 739.3 693.5 740.8 700.6C742.2 707.2 744.8 713.1 748.8 719C753.7 726.2 762.1 733 769.6 739.8C777.5 746.9 789 753.5 794.9 760.5C799.4 765.8 800.7 771.6 804.2 776.7C807.6 781.6 815.9 786.7 815.7 790.5C815.6 793.3 808.3 795.1 808.8 797.4C809.8 802 845.8 806.7 845.7 811.2C845.5 816.4 797.4 821.2 797.3 826.2C797.2 830.8 836 834.7 836.5 840.1C836.8 845.1 807.7 850.4 804.2 857.4C801.9 861.9 805.7 867.4 806.5 872.4" fill="none" stroke="#8000ff" stroke-width="3.3" stroke-linejoin="round" stroke-linecap="round" clip-path="url(#cpA)"/><path d="M948.1 1134.5C962 1136.7 976.6 1138.9 989.7 1141.2C1001.6 1143.4 1023.4 1145.7 1023.4 1148C1023.4 1150.2 1002.9 1152.5 989.7 1154.7C971.1 1157.8 937.5 1159.9 922.3 1163.7C914.2 1165.7 904.3 1168.2 904.3 1170.5C904.3 1172.7 914.2 1175.3 922.3 1177.2C937.4 1180.7 965.6 1181.8 989.7 1183.9C1017.5 1186.4 1048.3 1188.5 1079.6 1190.7C1113.9 1193 1151.6 1195.2 1187.5 1197.4" fill="none" stroke="#8000ff" stroke-width="3" stroke-linejoin="round" stroke-linecap="round" clip-path="url(#cpC)"/><path d="M1187.5 1228.9C1159 1232.6 1131 1236.8 1102.1 1240.1C1072.5 1243.6 1031.8 1243.4 1012.2 1249.1C1001.8 1252.1 999.5 1257 989.7 1260.4C973.5 1265.9 934 1268.6 922.3 1273.9C917.5 1276 913 1278.4 913.3 1280.6C913.9 1284.4 937.5 1288.7 944.8 1291.8C948.7 1293.5 953.9 1294.9 953.8 1296.3C953.4 1298.9 934.8 1300.9 922.3 1303.1C904.1 1306.2 875 1308.7 854.9 1312.1C838.3 1314.8 818 1316.7 809.9 1321.1C806.2 1323 802.6 1325.9 803.2 1327.8C804.1 1331.2 821.3 1332.3 832.4 1334.5C846.7 1337.5 881.9 1341.3 881.8 1343.5C881.7 1345.8 850.1 1346 832.4 1348C811.6 1350.4 781.2 1352.8 765 1357C755.3 1359.6 743.3 1362.1 742.5 1366C741.8 1369.2 753.9 1373.8 753.7 1377.2C753.5 1380.5 746.3 1382.8 742.5 1386.2C738.1 1390.2 731.7 1394.1 729 1399.7C726.1 1405.9 727.2 1412.1 726.7 1422.2C725.7 1443.3 726.5 1510.2 726.7 1520C726.8 1521.7 726.9 1521.7 726.9 1523.1C727 1525.7 725.1 1531.1 726.9 1534.6C729.2 1539.1 738.2 1542.4 743.1 1546.1C747.3 1549.3 751.9 1551.7 754.6 1555.3C757.1 1558.7 755.4 1563.7 759.2 1566.9C767.1 1573.5 793.5 1574.4 812.2 1578.4C833.2 1582.8 878.9 1587.3 879.1 1592.2C879.2 1596.6 829.7 1599.8 828.3 1606C827.5 1610 843.6 1615.4 844.5 1619.9C845.1 1623 838.5 1626.6 839.9 1629.1C843.2 1635.3 878.2 1633.4 904.4 1636C945.2 1640 1061.1 1644.8 1061.2 1649.8C1061.2 1654.1 982.8 1659.4 950.5 1663.7C925.4 1667 883.6 1670.2 883.7 1672.9C883.7 1675.6 925.2 1677.7 950.5 1679.8C983.7 1682.5 1026.8 1684.6 1065.8 1686.7C1105.9 1688.9 1147.2 1690.6 1188 1692.5" fill="none" stroke="#8000ff" stroke-width="3" stroke-linejoin="round" stroke-linecap="round" clip-path="url(#cpC)"/><path d="M1188 1701.7C1147.2 1703.6 1107.8 1705.1 1065.8 1707.5C1021.1 1710 971.4 1712.6 927.5 1716.7C887.2 1720.4 841.7 1723.7 812.2 1730.5C793.1 1735 765.9 1742 766.1 1746.7C766.3 1751.2 793.2 1755.1 812.2 1758.2C841.8 1763 904.7 1763.4 927.5 1767.4C937.3 1769.1 948.3 1771.2 948.2 1773.2C948 1776.6 899.9 1779.6 881.4 1783.5C867.9 1786.4 846.7 1790.1 846.8 1792.8C846.9 1795.4 867 1797.2 881.4 1799.7C904.7 1803.8 959.3 1804.5 973.6 1813.5C979.6 1817.3 979.2 1822.7 982.8 1827.3C986.8 1832.6 998 1839.2 996.6 1843.5C994.6 1849.8 963.8 1850.6 950.5 1855C940 1858.5 922.7 1863.1 922.9 1866.5C923 1870 939.6 1872.4 950.5 1875.7C966.2 1880.6 997.6 1885.3 1008.2 1891.9C1013.2 1895.1 1014.3 1898.8 1017.4 1902.3" fill="none" stroke="#8000ff" stroke-width="3" stroke-linejoin="round" stroke-linecap="round" clip-path="url(#cpC)"/><path d="M2195.3 1139.4C2194.1 1141.7 2191 1144 2191.9 1146.1C2194.2 1151.3 2235.7 1153.9 2236.3 1159.4C2236.8 1163.9 2211.2 1169.7 2209.7 1174.9C2208.8 1177.9 2210.7 1181.1 2214.1 1183.8C2223.1 1191.1 2258.5 1195.7 2280.7 1201.6C2302.9 1207.5 2346.3 1212.6 2347.3 1219.3C2347.9 1223.5 2326 1228.5 2325.1 1232.6C2324.6 1235 2326.3 1237.4 2329.5 1239.3C2341.2 1246.2 2399.1 1245.2 2433.8 1248.2" fill="none" stroke="#8000ff" stroke-width="3" stroke-linejoin="round" stroke-linecap="round" clip-path="url(#cpD)"/><path d="M2433.8 1272.6C2393.9 1276.3 2315.7 1276.8 2314 1283.7C2313.3 1286.2 2327.8 1290.2 2327.3 1292.6C2326.4 1296.6 2298.7 1296.6 2280.7 1299.2C2255.8 1302.9 2210.6 1306.2 2191.9 1312.5C2182.5 1315.8 2172.5 1319.5 2172 1323.6C2171.5 1327 2183.9 1331.3 2183 1334.7C2181.4 1341.5 2137.7 1347.5 2125.3 1352.5C2119.2 1354.9 2111.9 1356.7 2112 1359.1C2112.2 1362.8 2143.5 1368.2 2143.1 1371.4C2142.6 1375.7 2101 1375.9 2081 1379.1C2061.9 1382.2 2041.4 1385 2025.5 1390.2C2012.7 1394.4 2001 1400.6 1992.2 1405.8C1985.8 1409.5 1980.3 1409.8 1976.7 1416.8C1968 1433.4 1976.5 1507.3 1975.5 1522.3C1975.3 1526.3 1973.5 1527.4 1974.6 1530C1976.5 1534.5 1986.8 1539.5 1993.1 1543.8C1999.1 1548 2005.4 1552.2 2011.5 1555.3C2016.9 1558.2 2020.4 1560.2 2027.6 1562.2C2040.8 1566 2066.3 1568.4 2085.3 1571.5C2103.9 1574.5 2140.4 1577.1 2140.6 1580.7C2140.7 1583.5 2117.6 1585.6 2108.3 1589.9C2100.3 1593.6 2087.2 1599.8 2087.6 1603.7C2087.9 1607.5 2098.6 1610.5 2108.3 1613C2127.8 1617.9 2169.8 1617.6 2200.5 1619.9C2231.3 1622.2 2265.6 1624.4 2292.7 1626.8C2314.2 1628.7 2350.4 1630.5 2350.4 1632.5C2350.4 1635 2297.9 1637.6 2269.7 1640.6C2238.3 1644 2170.8 1648.1 2170.6 1652.1C2170.4 1654.4 2187.2 1657.3 2200.5 1659.1C2226.4 1662.5 2276.8 1662.2 2315.8 1663.7C2355.9 1665.2 2397.2 1666.7 2438 1668.3" fill="none" stroke="#8000ff" stroke-width="3" stroke-linejoin="round" stroke-linecap="round" clip-path="url(#cpD)"/><path d="M2438 1684.4C2397.2 1686 2357.8 1687.2 2315.8 1689C2271.1 1691 2218.9 1692.8 2177.5 1695.9C2143.6 1698.5 2109 1701.4 2085.3 1705.2C2070.1 1707.6 2048.4 1710.5 2048.4 1713.2C2048.4 1715.9 2071 1719 2085.3 1721.3C2104.6 1724.4 2132.5 1724.9 2154.4 1728.2C2174.6 1731.2 2211.9 1735.8 2212 1739.7C2212.1 1742.8 2189.7 1745.9 2177.5 1749C2163.8 1752.4 2133.6 1756.3 2133.7 1759.3C2133.7 1762.4 2161.9 1764.4 2177.5 1767.4C2195.4 1770.8 2232.1 1772.3 2235.1 1778.9C2236.5 1782.1 2227.2 1786.9 2228.2 1790.5C2229.6 1795.7 2254.1 1800.7 2253.5 1804.3C2252.7 1809.2 2217.3 1809.6 2200.5 1813.5C2185.1 1817.1 2156.6 1822.3 2156.7 1826.2C2156.8 1830 2183.1 1833.4 2200.5 1836.6C2225.5 1841.1 2262.3 1843.3 2292.7 1848.1C2323 1852.9 2382.7 1860.5 2382.6 1865.4C2382.6 1869.5 2341.2 1873 2315.8 1875.7C2282.6 1879.3 2235.5 1879.6 2200.5 1882.7C2171.2 1885.2 2131.6 1884.7 2119.8 1891.9C2115.2 1894.7 2115.2 1898.8 2112.9 1902.3" fill="none" stroke="#8000ff" stroke-width="3" stroke-linejoin="round" stroke-linecap="round" clip-path="url(#cpD)"/><path d="M743.9 99.4C743.9 112.8 741.6 131.8 743.9 139.4C744.9 142.8 748 143.2 748.3 146C748.8 150 743.9 155.8 742.8 161.6C741.4 168.2 742 176.4 741.7 183.8" fill="none" stroke="#ff0000" stroke-width="3.3" stroke-linejoin="round" stroke-linecap="round" clip-path="url(#cpA)"/><path d="M740.8 696C743.5 702.1 744.1 708.4 748.8 714.4C755.5 723.1 779.3 731.9 781.1 739.8C782.2 744.6 776.7 748.2 774.2 753.6C770.7 761.2 765.4 772.9 762.7 781.3C760.5 788 757.7 794.3 758.1 799.7C758.4 804.1 763.4 807.6 762.7 811.2C761.8 815.4 751.3 818.5 751.1 822.8C751 827.6 764.8 833.3 765 838.9C765.2 844.8 753.7 851.2 751.1 857.4C749 862.4 749.6 867.4 748.8 872.4" fill="none" stroke="#ff0000" stroke-width="3.3" stroke-linejoin="round" stroke-linecap="round" clip-path="url(#cpA)"/><path d="M733.5 1134.5C735 1139 737.7 1142.9 738 1148C738.4 1154.5 732.9 1162.9 733.5 1170.5C734.1 1178.6 741.7 1186.1 742.5 1195.2C743.4 1205.9 737.8 1219.3 735.7 1231.1C733.7 1242.6 731.3 1252.8 730.1 1264.9C728.8 1278.7 729.3 1293.3 729 1309.8C728.6 1330 728.2 1354.8 727.9 1377.2" fill="none" stroke="#ff0000" stroke-width="3" stroke-linejoin="round" stroke-linecap="round" clip-path="url(#cpC)"/><path d="M726.9 1557.6C727.7 1569.2 728.8 1580.2 729.2 1592.2C729.7 1605.4 727.7 1621.4 729.2 1633.7C730.5 1643.9 733.3 1651.7 736.1 1661.4C739.3 1672.3 744.9 1685.5 747.7 1695.9C749.9 1704.3 752.6 1711.4 752.3 1719C751.9 1726.7 743 1734.8 745.4 1742C748.7 1752.1 782.7 1761.2 782.2 1769.7C781.8 1778.1 744.7 1784.5 743.1 1792.8C741.9 1798.6 752.7 1804.7 756.9 1811.2C761.1 1817.8 768.2 1824.5 768.4 1832C768.6 1840.5 755.2 1850.9 754.6 1859.6C754.1 1866.9 761.1 1873.3 761.5 1880.4C761.9 1887.5 758.4 1895 756.9 1902.3" fill="none" stroke="#ff0000" stroke-width="3" stroke-linejoin="round" stroke-linecap="round" clip-path="url(#cpC)"/><path d="M1990.4 1139.4C1991 1145.4 1993.1 1151.1 1992.2 1157.2C1991.2 1164.3 1984.5 1170.7 1983.3 1179.4C1981.8 1190.6 1988.1 1207.4 1987.8 1219.3C1987.5 1229.1 1984.4 1237.5 1983.3 1246C1982.3 1253.7 1982.2 1260.8 1981.1 1268.2C1980 1275.6 1977.7 1280.9 1976.7 1290.3C1974.9 1306.5 1975.9 1334.7 1975.5 1356.9" fill="none" stroke="#ff0000" stroke-width="3" stroke-linejoin="round" stroke-linecap="round" clip-path="url(#cpD)"/><path d="M1974.6 1557.6C1975.4 1569.2 1976.1 1581.9 1976.9 1592.2C1977.6 1600.7 1977.7 1607.6 1979.2 1615.3C1980.8 1623 1984.6 1630.6 1986.1 1638.3C1987.6 1645.9 1986.3 1654.6 1988.4 1661.4C1990.4 1667.5 1997.5 1671.9 1997.7 1677.5C1997.8 1683.4 1989.3 1689.3 1988.4 1695.9C1987.5 1703 1989 1711.9 1993.1 1719C1997.9 1727.6 2016.9 1734.2 2018.4 1742C2019.5 1748.1 2010.6 1754.4 2009.2 1760.5C2007.9 1765.9 2010.8 1771.9 2009.2 1776.6C2007.6 1781.1 1999.9 1783.9 2000 1788.2C2000.1 1793.6 2015.7 1800 2016.1 1806.6C2016.5 1813.7 2001.2 1822.4 2000 1829.6C1999 1835.3 2004.3 1839.9 2004.6 1845.8C2004.9 1852.8 2002.7 1860.6 2000 1868.8C1996.5 1879.1 1989.2 1891.1 1983.8 1902.3" fill="none" stroke="#ff0000" stroke-width="3" stroke-linejoin="round" stroke-linecap="round" clip-path="url(#cpD)"/><path d="M755.4 99.4C755.3 103.1 754.5 106.4 755 110.5C755.5 115.8 758 122.8 759.4 128.3C760.6 133 763.4 137.7 762.7 141.6C762.2 145 759.8 147.8 757.2 150.5C753.9 153.8 746.3 155.8 743.9 159.4C742 162 742.3 162.9 741.7 168.2C736.6 208.7 736.3 639.5 740.8 700.6C741.7 713.4 742.2 716.5 744.2 723.6C746.1 730.3 751.6 735.2 752.3 742.1C753.1 750.2 747.2 760 746.5 769.7C745.8 780.6 749.2 792.8 748.8 804.3C748.5 815.9 744.8 827.5 744.2 838.9C743.7 850.1 745 861.2 745.4 872.4" fill="none" stroke="#800000" stroke-width="3.3" stroke-linejoin="round" stroke-linecap="round" clip-path="url(#cpA)"/><path d="M780.7 1134.5C784.4 1138.2 791.7 1141.2 791.9 1145.7C792.3 1151.8 775.4 1161 773.9 1168.2C772.9 1173.6 779.3 1178.6 778.4 1183.9C777.4 1190.5 766.7 1197.1 765 1204.2C763.4 1210.6 768.1 1217.6 767.2 1224.4C766.2 1231.8 762.2 1239.3 758.2 1246.9C753.6 1255.7 745 1263.8 740.2 1273.9C735.1 1284.6 732.7 1297.8 729 1309.8" fill="none" stroke="#800000" stroke-width="3" stroke-linejoin="round" stroke-linecap="round" clip-path="url(#cpC)"/><path d="M729.2 1592.2C731.5 1607.6 734.6 1624.9 736.1 1638.3C737.3 1648.7 735 1657.4 738.4 1666C742.2 1675.2 754.5 1682.9 759.2 1691.3C763 1698.2 761.9 1706.1 766.1 1712.1C770.7 1718.6 786.8 1722.5 786.9 1728.2C786.9 1734.7 762.7 1740 761.5 1749C759.9 1760.8 793.3 1782.2 793.8 1795.1C794.1 1804 780.9 1810.9 779.9 1818.1C779.2 1823.8 785.5 1828.4 784.5 1834.3C783.3 1842.5 766.2 1851.8 766.1 1861.9C765.9 1874.1 783 1888.8 791.5 1902.3" fill="none" stroke="#800000" stroke-width="3" stroke-linejoin="round" stroke-linecap="round" clip-path="url(#cpC)"/><path d="M2043.7 1139.4C2039.1 1143.9 2034.3 1147.2 2029.9 1152.8C2024.4 1159.8 2013.7 1171.9 2014.4 1179.4C2014.9 1185.5 2025.7 1188.7 2027.7 1194.9C2029.9 1201.8 2027.5 1211.2 2025.5 1219.3C2023.3 1228.2 2018.4 1237.2 2014.4 1246C2010.3 1254.9 2004.8 1263.4 2001.1 1272.6C1997.4 1281.9 1995.2 1290.8 1992.2 1301.4C1988.5 1314.6 1984.8 1331 1981.1 1345.8" fill="none" stroke="#800000" stroke-width="3" stroke-linejoin="round" stroke-linecap="round" clip-path="url(#cpD)"/><path d="M1974.6 1546.1C1976.9 1561.5 1979.2 1576.8 1981.5 1592.2C1983.8 1607.6 1983.2 1626.9 1988.4 1638.3C1992.3 1646.6 1997.8 1650.9 2004.6 1656.8C2013.1 1664.1 2036.5 1670.2 2036.9 1677.5C2037.2 1684.8 2010.5 1691.9 2006.9 1700.6C2004.2 1707 2004.8 1715.2 2009.2 1721.3C2016.1 1731.1 2054.3 1733.8 2057.6 1744.4C2060.3 1753.1 2044.4 1768.2 2039.2 1776.6C2035.7 1782.3 2031.1 1785.4 2029.9 1790.5C2028.8 1795.4 2033.6 1801 2032.2 1806.6C2030.5 1813.9 2015.1 1822.8 2016.1 1829.6C2017.1 1836.7 2029.3 1842.8 2039.2 1848.1C2052.7 1855.4 2092.2 1860.1 2092.2 1865.4C2092.1 1870 2062.5 1871.5 2050.7 1878.1C2039.8 1884.1 2032.2 1894.2 2023 1902.3" fill="none" stroke="#800000" stroke-width="3" stroke-linejoin="round" stroke-linecap="round" clip-path="url(#cpD)"/><path d="M752.8 99.4C751.3 105.4 748.3 111.3 748.3 117.2C748.3 123.1 751.1 129.8 752.8 134.9C754.1 139.1 758.1 142.6 757.2 146C756.2 150.1 746.3 153.2 743.9 157.1C742.1 160 742.3 160.7 741.7 166C736.6 206.8 738.7 627.1 740.8 705.2C741.3 726.9 742.1 732.5 743.1 746.7C744 761.7 746.3 777.4 746.5 792.8C746.7 808.2 744.3 824.8 744.2 838.9C744.1 851 745 861.2 745.4 872.4" fill="none" stroke="#008000" stroke-width="3.3" stroke-linejoin="round" stroke-linecap="round" clip-path="url(#cpA)"/><path d="M773.9 1134.5C776.9 1137.5 782.4 1139.6 782.9 1143.5C783.7 1148.7 773.2 1156.5 771.7 1163.7C770.2 1170.8 774.7 1178.8 773.9 1186.2C773.2 1193.8 767.8 1201.5 767.2 1208.7C766.7 1214.9 770.8 1220.3 769.4 1226.7C767.7 1235 759.1 1245.1 753.7 1253.6C748.6 1261.6 742 1267.4 738 1276.1C733.4 1285.9 732 1298.6 729 1309.8" fill="none" stroke="#008000" stroke-width="3" stroke-linejoin="round" stroke-linecap="round" clip-path="url(#cpC)"/><path d="M726.9 1638.3C728.5 1652.1 730.8 1667.4 731.5 1679.8C732.1 1689.9 730.2 1698.8 731.5 1707.5C732.7 1715.6 737.7 1722.8 738.4 1730.5C739.2 1738.1 736.4 1744.6 736.1 1753.6C735.8 1766.3 735.4 1788 738.4 1799.7C740.5 1807.5 746.4 1810.8 747.7 1818.1C749.3 1827.6 739.8 1843 743.1 1852.7C746.2 1862.1 762 1867 766.1 1875.7C769.8 1883.7 767.6 1893.4 768.4 1902.3" fill="none" stroke="#008000" stroke-width="3" stroke-linejoin="round" stroke-linecap="round" clip-path="url(#cpC)"/><path d="M2017 1139.4C2016.2 1143.9 2014.3 1147.6 2014.4 1152.8C2014.6 1160.1 2016.9 1171.6 2021 1179.4C2025.1 1187.1 2037.4 1191.9 2038.8 1199.4C2040.2 1206.7 2032.1 1214.7 2029.9 1223.8C2027.4 1234.4 2030.1 1249.7 2025.5 1259.3C2021.3 1267.8 2010.6 1271 2005.5 1279.3C1999.8 1288.4 1998.1 1301.4 1994.4 1312.5C1990.7 1323.6 1985.9 1334.6 1983.3 1345.8C1980.8 1356.8 1980.4 1368 1978.9 1379.1" fill="none" stroke="#008000" stroke-width="3" stroke-linejoin="round" stroke-linecap="round" clip-path="url(#cpD)"/><path d="M1974.6 1615.3C1976.1 1630.6 1978 1647.1 1979.2 1661.4C1980.2 1673.7 1980 1684.5 1981.5 1695.9C1983.1 1707.5 1987.3 1718.9 1988.4 1730.5C1989.6 1742 1987.7 1753.6 1988.4 1765.1C1989.2 1776.7 1992.9 1789.3 1993.1 1799.7C1993.2 1808.1 1989.9 1814.6 1990.7 1822.7C1991.7 1832.2 1995.7 1844.2 2000 1852.7C2003.7 1860 2013.6 1864.1 2013.8 1871.1C2014 1880.1 2000 1891.9 1993.1 1902.3" fill="none" stroke="#008000" stroke-width="3" stroke-linejoin="round" stroke-linecap="round" clip-path="url(#cpD)"/><path d="M773.9 1134.5C774.7 1137.5 777.3 1140.5 776.2 1143.5C774.3 1148.7 757.5 1153 753.7 1159.2C750.8 1163.9 751.3 1169.3 751.5 1175C751.7 1181.8 756.1 1190.4 756 1197.4C755.8 1203.8 750.5 1210 751.5 1215.4C752.3 1220.4 760.6 1224 760.5 1228.9C760.2 1235 749.1 1241.6 744.7 1249.1C740 1257.2 736.1 1266.4 733.5 1276.1C730.7 1286.5 730.5 1298.6 729 1309.8" fill="none" stroke="#808000" stroke-width="3" stroke-linejoin="round" stroke-linecap="round" clip-path="url(#cpC)"/><path d="M726.9 1753.6C727.7 1776.6 727.8 1798.9 729.2 1822.7C730.8 1848.3 733.8 1875.7 736.1 1902.3" fill="none" stroke="#808000" stroke-width="3" stroke-linejoin="round" stroke-linecap="round" clip-path="url(#cpC)"/><path d="M2028.1 1139.4C2025 1145.4 2022.7 1151 2018.8 1157.2C2014.1 1164.8 2001.5 1173.7 2001.1 1181.6C2000.7 1188.5 2010.5 1193.5 2012.2 1201.6C2014.3 1212.3 2006.2 1231.4 2007.7 1241.5C2008.7 1248.1 2015.2 1252 2014.4 1257.1C2013.4 1263.1 2001.9 1267.3 1998.9 1274.8C1995.2 1283.7 1998.6 1296.8 1996.6 1308.1C1994.4 1320.4 1988.6 1333.6 1985.5 1345.8C1982.7 1357.2 1981.1 1368 1978.9 1379.1" fill="none" stroke="#808000" stroke-width="3" stroke-linejoin="round" stroke-linecap="round" clip-path="url(#cpD)"/><path d="M743.4 99.4C743.2 112.8 742.6 128 742.8 139.4C742.9 147.9 743.9 152.9 743.9 161.6C743.9 173.8 742.1 191.2 741.7 206C741.3 220.7 741.5 235.5 741.4 250.3" fill="none" stroke="#00ffff" stroke-width="3.3" stroke-linejoin="round" stroke-linecap="round" clip-path="url(#cpA)"/><path d="M741.5 700.6C741.6 704.4 741.8 706.5 741.9 712.1C742.3 726.9 742.9 766 743.1 792.8C743.3 819.4 743.1 845.8 743.1 872.4" fill="none" stroke="#00ffff" stroke-width="3.3" stroke-linejoin="round" stroke-linecap="round" clip-path="url(#cpA)"/><path d="M730.1 1134.5C729.7 1146.5 726.5 1159.9 729 1170.5C731.2 1179.8 739.1 1186.7 742.5 1195.2C745.7 1203.2 749.3 1211.9 749.2 1219.9C749.1 1227.6 744.5 1234.1 742.5 1242.4C740 1252.4 737.6 1264.8 735.7 1276.1C733.9 1287.3 731.3 1298.4 731.2 1309.8C731.2 1321.6 736.7 1335.6 735.7 1345.8C735 1353.6 730.5 1358.3 729 1366C727.1 1375.7 727.5 1388.5 726.7 1399.7" fill="none" stroke="#00ffff" stroke-width="3" stroke-linejoin="round" stroke-linecap="round" clip-path="url(#cpC)"/><path d="M726.9 1633.7C727.7 1646.8 728.8 1660.2 729.2 1672.9C729.6 1684.8 729.2 1695.9 729.2 1707.5C729.2 1719 728.2 1731.7 729.2 1742C730.1 1750.6 733.6 1756.6 733.8 1765.1C734.2 1775.4 730 1788.1 729.2 1799.7C728.5 1811.2 728.5 1822.8 729.2 1834.3C730 1845.8 732.7 1857.4 733.8 1868.8C735 1880.1 735.4 1891.1 736.1 1902.3" fill="none" stroke="#00ffff" stroke-width="3" stroke-linejoin="round" stroke-linecap="round" clip-path="url(#cpC)"/><path d="M1986 1139.4C1983.6 1152.8 1979.7 1165.7 1978.9 1179.4C1978 1193.7 1977.8 1210.3 1981.1 1223.8C1984.1 1236 1994.9 1245.7 1996.6 1257.1C1998.3 1267.9 1994.4 1279.3 1992.2 1290.3C1990 1301.5 1985.2 1312.5 1983.3 1323.6C1981.5 1334.6 1982.1 1345 1981.1 1356.9C1980 1370.7 1978.1 1386.5 1976.7 1401.3" fill="none" stroke="#00ffff" stroke-width="3" stroke-linejoin="round" stroke-linecap="round" clip-path="url(#cpD)"/><path d="M1974.6 1615.3C1976.1 1630.6 1978.8 1646 1979.2 1661.4C1979.6 1676.7 1976.3 1693.2 1976.9 1707.5C1977.4 1719.8 1982.6 1733.7 1981.5 1742C1980.9 1747 1977.9 1748.3 1976.9 1753.6C1975 1763.7 1976.5 1784.3 1976.9 1799.7C1977.3 1815.1 1977.8 1832.4 1979.2 1845.8C1980.3 1856.2 1983.8 1864.1 1983.8 1873.4C1983.9 1882.9 1980.8 1892.7 1979.2 1902.3" fill="none" stroke="#00ffff" stroke-width="3" stroke-linejoin="round" stroke-linecap="round" clip-path="url(#cpD)"/><line x1="377.2" y1="123" x2="377.2" y2="864" stroke="#808000" stroke-width="3.6" stroke-dasharray="16.2 20"/><line x1="498.4" y1="123" x2="498.4" y2="864" stroke="#808000" stroke-width="3.6" stroke-dasharray="16.2 20"/><line x1="180" y1="481.8" x2="740" y2="481.8" stroke="#800080" stroke-width="3.6" stroke-dasharray="16.4 19.9"/><line x1="372.3" y1="1155.9" x2="372.3" y2="1891" stroke="#808000" stroke-width="3" stroke-dasharray="17.5 18.1"/><line x1="490.3" y1="1155.9" x2="490.3" y2="1891" stroke="#808000" stroke-width="3" stroke-dasharray="17.5 18.1"/><line x1="167" y1="1513.8" x2="726" y2="1513.8" stroke="#800080" stroke-width="2.8" stroke-dasharray="18.4 17.8"/><line x1="1621" y1="1160" x2="1621" y2="1894" stroke="#808000" stroke-width="3" stroke-dasharray="17 18.8"/><line x1="1738.8" y1="1160" x2="1738.8" y2="1894" stroke="#808000" stroke-width="3" stroke-dasharray="17 18.8"/><line x1="1417" y1="1517.3" x2="1974" y2="1517.3" stroke="#800080" stroke-width="2.8" stroke-dasharray="18.4 17.6"/><rect x="167.5" y="100.7" width="1021" height="763.3" fill="none" stroke="#000" stroke-width="3.8"/><line x1="740.5" y1="100.7" x2="740.5" y2="864" stroke="#000" stroke-width="2.8"/><rect x="168" y="1135.7" width="1016.2" height="755.6" fill="none" stroke="#000" stroke-width="4.6"/><line x1="726.7" y1="1135.7" x2="726.7" y2="1891.3" stroke="#000" stroke-width="3.4"/><rect x="1416" y="1140.1" width="1016" height="754.2" fill="none" stroke="#000" stroke-width="4.8"/><line x1="1974.8" y1="1140.1" x2="1974.8" y2="1894.3" stroke="#000" stroke-width="3.6"/><line x1="167.5" y1="768.6" x2="177.5" y2="768.6" stroke="#000" stroke-width="3.6"/><line x1="167.5" y1="673.2" x2="182.5" y2="673.2" stroke="#000" stroke-width="3.6"/><line x1="167.5" y1="577.8" x2="177.5" y2="577.8" stroke="#000" stroke-width="3.6"/><line x1="167.5" y1="482.4" x2="182.5" y2="482.4" stroke="#000" stroke-width="3.6"/><line x1="167.5" y1="387" x2="177.5" y2="387" stroke="#000" stroke-width="3.6"/><line x1="167.5" y1="291.6" x2="182.5" y2="291.6" stroke="#000" stroke-width="3.6"/><line x1="167.5" y1="196.1" x2="177.5" y2="196.1" stroke="#000" stroke-width="3.6"/><line x1="168" y1="1828.3" x2="180" y2="1828.3" stroke="#000" stroke-width="3.8"/><line x1="168" y1="1765.4" x2="188" y2="1765.4" stroke="#000" stroke-width="3.8"/><line x1="168" y1="1702.4" x2="180" y2="1702.4" stroke="#000" stroke-width="3.8"/><line x1="168" y1="1639.4" x2="188" y2="1639.4" stroke="#000" stroke-width="3.8"/><line x1="168" y1="1576.5" x2="180" y2="1576.5" stroke="#000" stroke-width="3.8"/><line x1="168" y1="1513.5" x2="188" y2="1513.5" stroke="#000" stroke-width="3.8"/><line x1="168" y1="1450.5" x2="180" y2="1450.5" stroke="#000" stroke-width="3.8"/><line x1="168" y1="1387.6" x2="188" y2="1387.6" stroke="#000" stroke-width="3.8"/><line x1="168" y1="1324.6" x2="180" y2="1324.6" stroke="#000" stroke-width="3.8"/><line x1="168" y1="1261.6" x2="188" y2="1261.6" stroke="#000" stroke-width="3.8"/><line x1="168" y1="1198.7" x2="180" y2="1198.7" stroke="#000" stroke-width="3.8"/><line x1="1416" y1="1831.5" x2="1428" y2="1831.5" stroke="#000" stroke-width="3.8"/><line x1="1416" y1="1768.6" x2="1436" y2="1768.6" stroke="#000" stroke-width="3.8"/><line x1="1416" y1="1705.8" x2="1428" y2="1705.8" stroke="#000" stroke-width="3.8"/><line x1="1416" y1="1642.9" x2="1436" y2="1642.9" stroke="#000" stroke-width="3.8"/><line x1="1416" y1="1580" x2="1428" y2="1580" stroke="#000" stroke-width="3.8"/><line x1="1416" y1="1517.2" x2="1436" y2="1517.2" stroke="#000" stroke-width="3.8"/><line x1="1416" y1="1454.4" x2="1428" y2="1454.4" stroke="#000" stroke-width="3.8"/><line x1="1416" y1="1391.5" x2="1436" y2="1391.5" stroke="#000" stroke-width="3.8"/><line x1="1416" y1="1328.7" x2="1428" y2="1328.7" stroke="#000" stroke-width="3.8"/><line x1="1416" y1="1265.8" x2="1436" y2="1265.8" stroke="#000" stroke-width="3.8"/><line x1="1416" y1="1203" x2="1428" y2="1203" stroke="#000" stroke-width="3.8"/><line x1="796.5" y1="864" x2="796.5" y2="857" stroke="#000" stroke-width="3.2"/><line x1="852.5" y1="864" x2="852.5" y2="850" stroke="#000" stroke-width="3.2"/><line x1="908.5" y1="864" x2="908.5" y2="857" stroke="#000" stroke-width="3.2"/><line x1="964.5" y1="864" x2="964.5" y2="850" stroke="#000" stroke-width="3.2"/><line x1="1020.5" y1="864" x2="1020.5" y2="857" stroke="#000" stroke-width="3.2"/><line x1="1076.5" y1="864" x2="1076.5" y2="850" stroke="#000" stroke-width="3.2"/><line x1="1132.5" y1="864" x2="1132.5" y2="857" stroke="#000" stroke-width="3.2"/><line x1="841.1" y1="1891.3" x2="841.1" y2="1881.3" stroke="#000" stroke-width="3.6"/><line x1="955.5" y1="1891.3" x2="955.5" y2="1874.3" stroke="#000" stroke-width="3.6"/><line x1="1069.8" y1="1891.3" x2="1069.8" y2="1881.3" stroke="#000" stroke-width="3.6"/><line x1="2089.1" y1="1894.3" x2="2089.1" y2="1884.3" stroke="#000" stroke-width="3.6"/><line x1="2203.4" y1="1894.3" x2="2203.4" y2="1877.3" stroke="#000" stroke-width="3.6"/><line x1="2317.7" y1="1894.3" x2="2317.7" y2="1884.3" stroke="#000" stroke-width="3.6"/><line x1="205.4" y1="373.9" x2="266.3" y2="373.9" stroke="#ff0000" stroke-width="4"/><line x1="205.4" y1="432.9" x2="266.3" y2="432.9" stroke="#0000ff" stroke-width="4"/><text x="274.5" y="384.2" style="font-family:'Liberation Sans',Arial,sans-serif;font-size:34.5px">PBE</text><text x="274.5" y="443.1" style="font-family:'Liberation Sans',Arial,sans-serif;font-size:34.5px">HSE</text><line x1="934.7" y1="344.6" x2="1019" y2="344.6" stroke="#000000" stroke-width="4"/><line x1="934.7" y1="390.1" x2="1019" y2="390.1" stroke="#ff00ff" stroke-width="4"/><line x1="934.7" y1="435.6" x2="1019" y2="435.6" stroke="#8000ff" stroke-width="4"/><text x="1029" y="358" style="font-family:'Liberation Sans',Arial,sans-serif;font-size:35.5px">total</text><text x="1029" y="403" style="font-family:'Liberation Sans',Arial,sans-serif;font-size:35.5px">N-p</text><text x="1029" y="448" style="font-family:'Liberation Sans',Arial,sans-serif;font-size:35.5px">Mo-d</text><line x1="977.2" y1="1407" x2="1053" y2="1407" stroke="#000000" stroke-width="3.6"/><line x1="977.2" y1="1446.7" x2="1053" y2="1446.7" stroke="#ff00ff" stroke-width="3.6"/><line x1="977.2" y1="1486.4" x2="1053" y2="1486.4" stroke="#8000ff" stroke-width="3.6"/><text x="1061" y="1418.2" style="font-family:'Liberation Sans',Arial,sans-serif;font-size:32px">total</text><text x="1061" y="1457.6" style="font-family:'Liberation Sans',Arial,sans-serif;font-size:32px">P-p</text><text x="1061" y="1497" style="font-family:'Liberation Sans',Arial,sans-serif;font-size:32px">Mo-d</text><line x1="2227.4" y1="1422.4" x2="2302.9" y2="1422.4" stroke="#000000" stroke-width="3.6"/><line x1="2227.4" y1="1461.2" x2="2302.9" y2="1461.2" stroke="#ff00ff" stroke-width="3.6"/><line x1="2227.4" y1="1501.2" x2="2302.9" y2="1501.2" stroke="#8000ff" stroke-width="3.6"/><text x="2310.5" y="1433.5" style="font-family:'Liberation Sans',Arial,sans-serif;font-size:32px">total</text><text x="2310.5" y="1472.5" style="font-family:'Liberation Sans',Arial,sans-serif;font-size:32px">As-p</text><text x="2310.5" y="1512.5" style="font-family:'Liberation Sans',Arial,sans-serif;font-size:32px">Mo-d</text><text x="15.5" y="63" style="font-family:'Liberation Sans',Arial,sans-serif;font-size:59.5px">(a)</text><text x="1265.5" y="61.5" style="font-family:'Liberation Sans',Arial,sans-serif;font-size:58.5px">(b)</text><text x="18" y="1101" style="font-family:'Liberation Sans',Arial,sans-serif;font-size:58px">(c)</text><text x="1266" y="1105" style="font-family:'Liberation Sans',Arial,sans-serif;font-size:58px">(d)</text><text x="492.3" y="63.1" style="font-family:'Liberation Sans',Arial,sans-serif;font-size:59px">ML-MoSi<tspan x="732" y="86" style="font-size:31.5px">2</tspan><tspan x="749.5" y="63.1">N</tspan><tspan x="794.8" y="86" style="font-size:31.5px">4</tspan></text><text x="490.5" y="1104.4" style="font-family:'Liberation Sans',Arial,sans-serif;font-size:54.5px">BL-MoSi<tspan x="700.2" y="1125" style="font-size:31px">2</tspan><tspan x="719.2" y="1104.4">P</tspan><tspan x="754.8" y="1125" style="font-size:31px">4</tspan></text><text x="1739" y="1108.2" style="font-family:'Liberation Sans',Arial,sans-serif;font-size:54.5px">BL-MoSi<tspan x="1949.4" y="1128.9" style="font-size:32px">2</tspan><tspan x="1966.3" y="1108.2">As</tspan><tspan x="2030.2" y="1128.9" style="font-size:32px">4</tspan></text><text x="518.2" y="1462.7" style="font-family:'Liberation Sans',Arial,sans-serif;font-size:42.5px">E<tspan x="547" y="1478.5" style="font-size:35px">g</tspan><tspan x="566.9" y="1462.7">=1.019</tspan></text><text x="1766.3" y="1465.8" style="font-family:'Liberation Sans',Arial,sans-serif;font-size:42px">E<tspan x="1795.5" y="1481.6" style="font-size:35px">g</tspan><tspan x="1815" y="1465.8">=0.894</tspan></text><text x="0" y="0" transform="translate(66.6 478.5) rotate(-90)" text-anchor="middle" style="font-family:'Liberation Sans',Arial,sans-serif;font-size:65px">Energy (eV)</text><text x="0" y="0" transform="translate(66.9 1500.1) rotate(-90)" text-anchor="middle" style="font-family:'Liberation Sans',Arial,sans-serif;font-size:65px">Energy (eV)</text><text x="0" y="0" transform="translate(1315.7 1504.7) rotate(-90)" text-anchor="middle" style="font-family:'Liberation Sans',Arial,sans-serif;font-size:65px">Energy (eV)</text><text x="151" y="117.8" style="font-family:'Liberation Sans',Arial,sans-serif;font-size:60px" text-anchor="end">4</text><text x="151" y="308.6" style="font-family:'Liberation Sans',Arial,sans-serif;font-size:60px" text-anchor="end">2</text><text x="151" y="499.4" style="font-family:'Liberation Sans',Arial,sans-serif;font-size:60px" text-anchor="end">0</text><text x="151" y="690.2" style="font-family:'Liberation Sans',Arial,sans-serif;font-size:60px" text-anchor="end">-2</text><text x="151" y="881" style="font-family:'Liberation Sans',Arial,sans-serif;font-size:60px" text-anchor="end">-4</text><text x="147.3" y="1153.5" style="font-family:'Liberation Sans',Arial,sans-serif;font-size:59.5px" text-anchor="end">3</text><text x="147.3" y="1279.4" style="font-family:'Liberation Sans',Arial,sans-serif;font-size:59.5px" text-anchor="end">2</text><text x="147.3" y="1405.4" style="font-family:'Liberation Sans',Arial,sans-serif;font-size:59.5px" text-anchor="end">1</text><text x="147.3" y="1531.3" style="font-family:'Liberation Sans',Arial,sans-serif;font-size:59.5px" text-anchor="end">0</text><text x="147.3" y="1657.2" style="font-family:'Liberation Sans',Arial,sans-serif;font-size:59.5px" text-anchor="end">-1</text><text x="147.3" y="1783.2" style="font-family:'Liberation Sans',Arial,sans-serif;font-size:59.5px" text-anchor="end">-2</text><text x="147.3" y="1909.1" style="font-family:'Liberation Sans',Arial,sans-serif;font-size:59.5px" text-anchor="end">-3</text><text x="1395" y="1157.9" style="font-family:'Liberation Sans',Arial,sans-serif;font-size:59.5px" text-anchor="end">3</text><text x="1395" y="1283.6" style="font-family:'Liberation Sans',Arial,sans-serif;font-size:59.5px" text-anchor="end">2</text><text x="1395" y="1409.3" style="font-family:'Liberation Sans',Arial,sans-serif;font-size:59.5px" text-anchor="end">1</text><text x="1395" y="1535" style="font-family:'Liberation Sans',Arial,sans-serif;font-size:59.5px" text-anchor="end">0</text><text x="1395" y="1660.7" style="font-family:'Liberation Sans',Arial,sans-serif;font-size:59.5px" text-anchor="end">-1</text><text x="1395" y="1786.4" style="font-family:'Liberation Sans',Arial,sans-serif;font-size:59.5px" text-anchor="end">-2</text><text x="1395" y="1912.1" style="font-family:'Liberation Sans',Arial,sans-serif;font-size:59.5px" text-anchor="end">-3</text><text x="171.5" y="917.5" style="font-family:'Liberation Serif','Times New Roman',serif;font-size:53px" text-anchor="middle">Γ</text><text x="377.2" y="917.5" style="font-family:'Liberation Serif','Times New Roman',serif;font-size:53px" text-anchor="middle">M</text><text x="498.4" y="917.5" style="font-family:'Liberation Serif','Times New Roman',serif;font-size:53px" text-anchor="middle">K</text><text x="743.5" y="917.5" style="font-family:'Liberation Serif','Times New Roman',serif;font-size:53px" text-anchor="middle">Γ</text><text x="967.9" y="922.7" style="font-family:'Liberation Sans',Arial,sans-serif;font-size:45.5px" text-anchor="middle">PDOS</text><text x="1183.3" y="915.7" style="font-family:'Liberation Sans',Arial,sans-serif;font-size:45.5px" text-anchor="middle">4</text><text x="172" y="1947.5" style="font-family:'Liberation Serif','Times New Roman',serif;font-size:53px" text-anchor="middle">Γ</text><text x="372.3" y="1947.5" style="font-family:'Liberation Serif','Times New Roman',serif;font-size:53px" text-anchor="middle">M</text><text x="490.3" y="1947.5" style="font-family:'Liberation Serif','Times New Roman',serif;font-size:53px" text-anchor="middle">K</text><text x="729.7" y="1947.5" style="font-family:'Liberation Serif','Times New Roman',serif;font-size:53px" text-anchor="middle">Γ</text><text x="956.1" y="1951" style="font-family:'Liberation Sans',Arial,sans-serif;font-size:44.5px" text-anchor="middle">PDOS</text><text x="1178.5" y="1944" style="font-family:'Liberation Sans',Arial,sans-serif;font-size:44.5px" text-anchor="middle">4</text><text x="1420" y="1950.8" style="font-family:'Liberation Serif','Times New Roman',serif;font-size:53px" text-anchor="middle">Γ</text><text x="1621" y="1950.8" style="font-family:'Liberation Serif','Times New Roman',serif;font-size:53px" text-anchor="middle">M</text><text x="1738.8" y="1950.8" style="font-family:'Liberation Serif','Times New Roman',serif;font-size:53px" text-anchor="middle">K</text><text x="1977.8" y="1950.8" style="font-family:'Liberation Serif','Times New Roman',serif;font-size:53px" text-anchor="middle">Γ</text><text x="2203.9" y="1954" style="font-family:'Liberation Sans',Arial,sans-serif;font-size:44.5px" text-anchor="middle">PDOS</text><text x="2426" y="1947" style="font-family:'Liberation Sans',Arial,sans-serif;font-size:44.5px" text-anchor="middle">4</text><rect x="1800.75" y="89" width="456.3" height="364.5" fill="none" stroke="#000" stroke-width="4.5"/><rect x="1800.75" y="540" width="456.3" height="363.5" fill="none" stroke="#000" stroke-width="4.5"/><text x="1519.5" y="317.2" style="font-family:'Liberation Sans',Arial,sans-serif;font-size:85px" textLength="181.5" lengthAdjust="spacingAndGlyphs">VBM</text><text x="1520.4" y="775.2" style="font-family:'Liberation Sans',Arial,sans-serif;font-size:85px" textLength="181" lengthAdjust="spacingAndGlyphs">CBM</text><g clip-path="url(#cVBM)"><ellipse cx="1753.5" cy="193" rx="16.6" ry="20" fill="url(#gY)" stroke="#8c8c00" stroke-width="1.4"/><ellipse cx="1753.5" cy="348" rx="16.6" ry="20" fill="url(#gY)" stroke="#8c8c00" stroke-width="1.4"/><ellipse cx="1753.5" cy="235.5" rx="13.8" ry="8.3" fill="url(#gY)" stroke="#8c8c00" stroke-width="1.4"/><ellipse cx="1753.5" cy="307.4" rx="13.8" ry="8.3" fill="url(#gY)" stroke="#8c8c00" stroke-width="1.4"/><ellipse cx="1819.9" cy="146.9" rx="11" ry="6.8" fill="url(#gY)" stroke="#8c8c00" stroke-width="1.4"/><ellipse cx="1819.9" cy="397.6" rx="11" ry="6.8" fill="url(#gY)" stroke="#8c8c00" stroke-width="1.4"/><ellipse cx="1787.5" cy="240" rx="24.5" ry="25" fill="url(#gY)" stroke="#8c8c00" stroke-width="1.4"/><ellipse cx="1787.5" cy="303" rx="24.5" ry="25" fill="url(#gY)" stroke="#8c8c00" stroke-width="1.4"/><rect x="1741.1" y="261.2" width="84.8" height="20.4" rx="10.2" fill="url(#gY)" stroke="#8c8c00" stroke-width="1.4"/><circle cx="1787.5" cy="271.4" r="21.2" fill="url(#gS)" stroke="#9a8a20" stroke-width="0.8" stroke-opacity="0.6"/><ellipse cx="1852.8" cy="193" rx="16.6" ry="20" fill="url(#gY)" stroke="#8c8c00" stroke-width="1.4"/><ellipse cx="1852.8" cy="348" rx="16.6" ry="20" fill="url(#gY)" stroke="#8c8c00" stroke-width="1.4"/><ellipse cx="1852.8" cy="235.5" rx="13.8" ry="8.3" fill="url(#gY)" stroke="#8c8c00" stroke-width="1.4"/><ellipse cx="1852.8" cy="307.4" rx="13.8" ry="8.3" fill="url(#gY)" stroke="#8c8c00" stroke-width="1.4"/><ellipse cx="1919.2" cy="146.9" rx="11" ry="6.8" fill="url(#gY)" stroke="#8c8c00" stroke-width="1.4"/><ellipse cx="1919.2" cy="397.6" rx="11" ry="6.8" fill="url(#gY)" stroke="#8c8c00" stroke-width="1.4"/><ellipse cx="1886.8" cy="240" rx="24.5" ry="25" fill="url(#gY)" stroke="#8c8c00" stroke-width="1.4"/><ellipse cx="1886.8" cy="303" rx="24.5" ry="25" fill="url(#gY)" stroke="#8c8c00" stroke-width="1.4"/><rect x="1840.4" y="261.2" width="84.8" height="20.4" rx="10.2" fill="url(#gY)" stroke="#8c8c00" stroke-width="1.4"/><circle cx="1886.8" cy="271.4" r="21.2" fill="url(#gS)" stroke="#9a8a20" stroke-width="0.8" stroke-opacity="0.6"/><ellipse cx="1952.1" cy="193" rx="16.6" ry="20" fill="url(#gY)" stroke="#8c8c00" stroke-width="1.4"/><ellipse cx="1952.1" cy="348" rx="16.6" ry="20" fill="url(#gY)" stroke="#8c8c00" stroke-width="1.4"/><ellipse cx="1952.1" cy="235.5" rx="13.8" ry="8.3" fill="url(#gY)" stroke="#8c8c00" stroke-width="1.4"/><ellipse cx="1952.1" cy="307.4" rx="13.8" ry="8.3" fill="url(#gY)" stroke="#8c8c00" stroke-width="1.4"/><ellipse cx="2018.5" cy="146.9" rx="11" ry="6.8" fill="url(#gY)" stroke="#8c8c00" stroke-width="1.4"/><ellipse cx="2018.5" cy="397.6" rx="11" ry="6.8" fill="url(#gY)" stroke="#8c8c00" stroke-width="1.4"/><ellipse cx="1986.1" cy="240" rx="24.5" ry="25" fill="url(#gY)" stroke="#8c8c00" stroke-width="1.4"/><ellipse cx="1986.1" cy="303" rx="24.5" ry="25" fill="url(#gY)" stroke="#8c8c00" stroke-width="1.4"/><rect x="1939.7" y="261.2" width="84.8" height="20.4" rx="10.2" fill="url(#gY)" stroke="#8c8c00" stroke-width="1.4"/><circle cx="1986.1" cy="271.4" r="21.2" fill="url(#gS)" stroke="#9a8a20" stroke-width="0.8" stroke-opacity="0.6"/><ellipse cx="2051.4" cy="193" rx="16.6" ry="20" fill="url(#gY)" stroke="#8c8c00" stroke-width="1.4"/><ellipse cx="2051.4" cy="348" rx="16.6" ry="20" fill="url(#gY)" stroke="#8c8c00" stroke-width="1.4"/><ellipse cx="2051.4" cy="235.5" rx="13.8" ry="8.3" fill="url(#gY)" stroke="#8c8c00" stroke-width="1.4"/><ellipse cx="2051.4" cy="307.4" rx="13.8" ry="8.3" fill="url(#gY)" stroke="#8c8c00" stroke-width="1.4"/><ellipse cx="2117.8" cy="146.9" rx="11" ry="6.8" fill="url(#gY)" stroke="#8c8c00" stroke-width="1.4"/><ellipse cx="2117.8" cy="397.6" rx="11" ry="6.8" fill="url(#gY)" stroke="#8c8c00" stroke-width="1.4"/><ellipse cx="2085.4" cy="240" rx="24.5" ry="25" fill="url(#gY)" stroke="#8c8c00" stroke-width="1.4"/><ellipse cx="2085.4" cy="303" rx="24.5" ry="25" fill="url(#gY)" stroke="#8c8c00" stroke-width="1.4"/><rect x="2039" y="261.2" width="84.8" height="20.4" rx="10.2" fill="url(#gY)" stroke="#8c8c00" stroke-width="1.4"/><circle cx="2085.4" cy="271.4" r="21.2" fill="url(#gS)" stroke="#9a8a20" stroke-width="0.8" stroke-opacity="0.6"/><ellipse cx="2150.7" cy="193" rx="16.6" ry="20" fill="url(#gY)" stroke="#8c8c00" stroke-width="1.4"/><ellipse cx="2150.7" cy="348" rx="16.6" ry="20" fill="url(#gY)" stroke="#8c8c00" stroke-width="1.4"/><ellipse cx="2150.7" cy="235.5" rx="13.8" ry="8.3" fill="url(#gY)" stroke="#8c8c00" stroke-width="1.4"/><ellipse cx="2150.7" cy="307.4" rx="13.8" ry="8.3" fill="url(#gY)" stroke="#8c8c00" stroke-width="1.4"/><ellipse cx="2217.1" cy="146.9" rx="11" ry="6.8" fill="url(#gY)" stroke="#8c8c00" stroke-width="1.4"/><ellipse cx="2217.1" cy="397.6" rx="11" ry="6.8" fill="url(#gY)" stroke="#8c8c00" stroke-width="1.4"/><ellipse cx="2184.7" cy="240" rx="24.5" ry="25" fill="url(#gY)" stroke="#8c8c00" stroke-width="1.4"/><ellipse cx="2184.7" cy="303" rx="24.5" ry="25" fill="url(#gY)" stroke="#8c8c00" stroke-width="1.4"/><rect x="2138.3" y="261.2" width="84.8" height="20.4" rx="10.2" fill="url(#gY)" stroke="#8c8c00" stroke-width="1.4"/><circle cx="2184.7" cy="271.4" r="21.2" fill="url(#gS)" stroke="#9a8a20" stroke-width="0.8" stroke-opacity="0.6"/><ellipse cx="2250" cy="193" rx="16.6" ry="20" fill="url(#gY)" stroke="#8c8c00" stroke-width="1.4"/><ellipse cx="2250" cy="348" rx="16.6" ry="20" fill="url(#gY)" stroke="#8c8c00" stroke-width="1.4"/><ellipse cx="2250" cy="235.5" rx="13.8" ry="8.3" fill="url(#gY)" stroke="#8c8c00" stroke-width="1.4"/><ellipse cx="2250" cy="307.4" rx="13.8" ry="8.3" fill="url(#gY)" stroke="#8c8c00" stroke-width="1.4"/><ellipse cx="2316.4" cy="146.9" rx="11" ry="6.8" fill="url(#gY)" stroke="#8c8c00" stroke-width="1.4"/><ellipse cx="2316.4" cy="397.6" rx="11" ry="6.8" fill="url(#gY)" stroke="#8c8c00" stroke-width="1.4"/><ellipse cx="2284" cy="240" rx="24.5" ry="25" fill="url(#gY)" stroke="#8c8c00" stroke-width="1.4"/><ellipse cx="2284" cy="303" rx="24.5" ry="25" fill="url(#gY)" stroke="#8c8c00" stroke-width="1.4"/><rect x="2237.6" y="261.2" width="84.8" height="20.4" rx="10.2" fill="url(#gY)" stroke="#8c8c00" stroke-width="1.4"/><circle cx="2284" cy="271.4" r="21.2" fill="url(#gS)" stroke="#9a8a20" stroke-width="0.8" stroke-opacity="0.6"/></g><g><circle cx="1852.8" cy="152.4" r="17.8" fill="url(#gMo)" stroke="#0c1460" stroke-width="1.2"/><circle cx="1852.8" cy="389.8" r="17.8" fill="url(#gMo)" stroke="#0c1460" stroke-width="1.2"/><circle cx="1919.2" cy="132.1" r="11" fill="url(#gN)" stroke="#5a5e80" stroke-width="1.2"/><circle cx="1919.2" cy="409.9" r="11" fill="url(#gN)" stroke="#5a5e80" stroke-width="1.2"/><circle cx="1852.8" cy="221.6" r="11" fill="url(#gN)" stroke="#5a5e80" stroke-width="1.2"/><circle cx="1852.8" cy="321.3" r="11" fill="url(#gN)" stroke="#5a5e80" stroke-width="1.2"/><circle cx="1952.1" cy="152.4" r="17.8" fill="url(#gMo)" stroke="#0c1460" stroke-width="1.2"/><circle cx="1952.1" cy="389.8" r="17.8" fill="url(#gMo)" stroke="#0c1460" stroke-width="1.2"/><circle cx="2018.5" cy="132.1" r="11" fill="url(#gN)" stroke="#5a5e80" stroke-width="1.2"/><circle cx="2018.5" cy="409.9" r="11" fill="url(#gN)" stroke="#5a5e80" stroke-width="1.2"/><circle cx="1952.1" cy="221.6" r="11" fill="url(#gN)" stroke="#5a5e80" stroke-width="1.2"/><circle cx="1952.1" cy="321.3" r="11" fill="url(#gN)" stroke="#5a5e80" stroke-width="1.2"/><circle cx="2051.4" cy="152.4" r="17.8" fill="url(#gMo)" stroke="#0c1460" stroke-width="1.2"/><circle cx="2051.4" cy="389.8" r="17.8" fill="url(#gMo)" stroke="#0c1460" stroke-width="1.2"/><circle cx="2117.8" cy="132.1" r="11" fill="url(#gN)" stroke="#5a5e80" stroke-width="1.2"/><circle cx="2117.8" cy="409.9" r="11" fill="url(#gN)" stroke="#5a5e80" stroke-width="1.2"/><circle cx="2051.4" cy="221.6" r="11" fill="url(#gN)" stroke="#5a5e80" stroke-width="1.2"/><circle cx="2051.4" cy="321.3" r="11" fill="url(#gN)" stroke="#5a5e80" stroke-width="1.2"/><circle cx="2150.7" cy="152.4" r="17.8" fill="url(#gMo)" stroke="#0c1460" stroke-width="1.2"/><circle cx="2150.7" cy="389.8" r="17.8" fill="url(#gMo)" stroke="#0c1460" stroke-width="1.2"/><circle cx="2217.1" cy="132.1" r="11" fill="url(#gN)" stroke="#5a5e80" stroke-width="1.2"/><circle cx="2217.1" cy="409.9" r="11" fill="url(#gN)" stroke="#5a5e80" stroke-width="1.2"/><circle cx="2150.7" cy="221.6" r="11" fill="url(#gN)" stroke="#5a5e80" stroke-width="1.2"/><circle cx="2150.7" cy="321.3" r="11" fill="url(#gN)" stroke="#5a5e80" stroke-width="1.2"/></g><circle cx="1852.8" cy="221.6" r="11.5" fill="#f0ec90" fill-opacity="0.18"/><circle cx="1852.8" cy="321.3" r="11.5" fill="#f0ec90" fill-opacity="0.18"/><circle cx="1952.1" cy="221.6" r="11.5" fill="#f0ec90" fill-opacity="0.18"/><circle cx="1952.1" cy="321.3" r="11.5" fill="#f0ec90" fill-opacity="0.18"/><circle cx="2051.4" cy="221.6" r="11.5" fill="#f0ec90" fill-opacity="0.18"/><circle cx="2051.4" cy="321.3" r="11.5" fill="#f0ec90" fill-opacity="0.18"/><circle cx="2150.7" cy="221.6" r="11.5" fill="#f0ec90" fill-opacity="0.18"/><circle cx="2150.7" cy="321.3" r="11.5" fill="#f0ec90" fill-opacity="0.18"/><g clip-path="url(#cCBM)"><rect x="1761.5" y="670.7" width="43.4" height="104.6" rx="21.7" ry="22" fill="url(#gY)" stroke="#8c8c00" stroke-width="1.4"/><rect x="1739.4" y="711.5" width="87.6" height="23.6" rx="11.8" fill="url(#gY)" stroke="#8c8c00" stroke-width="1.4"/><circle cx="1783.2" cy="723.3" r="21.2" fill="url(#gS)" stroke="#9a8a20" stroke-width="0.8" stroke-opacity="0.6"/><rect x="1862.6" y="670.7" width="43.4" height="104.6" rx="21.7" ry="22" fill="url(#gY)" stroke="#8c8c00" stroke-width="1.4"/><rect x="1840.5" y="711.5" width="87.6" height="23.6" rx="11.8" fill="url(#gY)" stroke="#8c8c00" stroke-width="1.4"/><circle cx="1884.3" cy="723.3" r="21.2" fill="url(#gS)" stroke="#9a8a20" stroke-width="0.8" stroke-opacity="0.6"/><rect x="1963.7" y="670.7" width="43.4" height="104.6" rx="21.7" ry="22" fill="url(#gY)" stroke="#8c8c00" stroke-width="1.4"/><rect x="1941.6" y="711.5" width="87.6" height="23.6" rx="11.8" fill="url(#gY)" stroke="#8c8c00" stroke-width="1.4"/><circle cx="1985.4" cy="723.3" r="21.2" fill="url(#gS)" stroke="#9a8a20" stroke-width="0.8" stroke-opacity="0.6"/><rect x="2064.8" y="670.7" width="43.4" height="104.6" rx="21.7" ry="22" fill="url(#gY)" stroke="#8c8c00" stroke-width="1.4"/><rect x="2042.7" y="711.5" width="87.6" height="23.6" rx="11.8" fill="url(#gY)" stroke="#8c8c00" stroke-width="1.4"/><circle cx="2086.5" cy="723.3" r="21.2" fill="url(#gS)" stroke="#9a8a20" stroke-width="0.8" stroke-opacity="0.6"/><rect x="2165.9" y="670.7" width="43.4" height="104.6" rx="21.7" ry="22" fill="url(#gY)" stroke="#8c8c00" stroke-width="1.4"/><rect x="2143.8" y="711.5" width="87.6" height="23.6" rx="11.8" fill="url(#gY)" stroke="#8c8c00" stroke-width="1.4"/><circle cx="2187.6" cy="723.3" r="21.2" fill="url(#gS)" stroke="#9a8a20" stroke-width="0.8" stroke-opacity="0.6"/><rect x="2267" y="670.7" width="43.4" height="104.6" rx="21.7" ry="22" fill="url(#gY)" stroke="#8c8c00" stroke-width="1.4"/><rect x="2244.9" y="711.5" width="87.6" height="23.6" rx="11.8" fill="url(#gY)" stroke="#8c8c00" stroke-width="1.4"/><circle cx="2288.7" cy="723.3" r="21.2" fill="url(#gS)" stroke="#9a8a20" stroke-width="0.8" stroke-opacity="0.6"/></g><g><circle cx="1851" cy="602.4" r="18.6" fill="url(#gMo)" stroke="#0c1460" stroke-width="1.2"/><circle cx="1851" cy="844.1" r="18.6" fill="url(#gMo)" stroke="#0c1460" stroke-width="1.2"/><circle cx="1917.8" cy="582.1" r="11.3" fill="url(#gN)" stroke="#5a5e80" stroke-width="1.2"/><circle cx="1917.8" cy="864.6" r="11.3" fill="url(#gN)" stroke="#5a5e80" stroke-width="1.2"/><circle cx="1851" cy="672.5" r="11.3" fill="url(#gN)" stroke="#5a5e80" stroke-width="1.2"/><circle cx="1851" cy="774" r="11.3" fill="url(#gN)" stroke="#5a5e80" stroke-width="1.2"/><ellipse cx="1847" cy="673" rx="5.5" ry="2.2" fill="#f0f000" stroke="none"/><ellipse cx="1863.5" cy="673.5" rx="2.5" ry="2.5" fill="#e0e000" stroke="none"/><ellipse cx="1847" cy="774.5" rx="5.5" ry="2.2" fill="#f0f000" stroke="none"/><ellipse cx="1863.5" cy="775" rx="2.5" ry="2.5" fill="#e0e000" stroke="none"/><circle cx="1952.1" cy="602.4" r="18.6" fill="url(#gMo)" stroke="#0c1460" stroke-width="1.2"/><circle cx="1952.1" cy="844.1" r="18.6" fill="url(#gMo)" stroke="#0c1460" stroke-width="1.2"/><circle cx="2018.9" cy="582.1" r="11.3" fill="url(#gN)" stroke="#5a5e80" stroke-width="1.2"/><circle cx="2018.9" cy="864.6" r="11.3" fill="url(#gN)" stroke="#5a5e80" stroke-width="1.2"/><circle cx="1952.1" cy="672.5" r="11.3" fill="url(#gN)" stroke="#5a5e80" stroke-width="1.2"/><circle cx="1952.1" cy="774" r="11.3" fill="url(#gN)" stroke="#5a5e80" stroke-width="1.2"/><ellipse cx="1948.1" cy="673" rx="5.5" ry="2.2" fill="#f0f000" stroke="none"/><ellipse cx="1964.6" cy="673.5" rx="2.5" ry="2.5" fill="#e0e000" stroke="none"/><ellipse cx="1948.1" cy="774.5" rx="5.5" ry="2.2" fill="#f0f000" stroke="none"/><ellipse cx="1964.6" cy="775" rx="2.5" ry="2.5" fill="#e0e000" stroke="none"/><circle cx="2053.2" cy="602.4" r="18.6" fill="url(#gMo)" stroke="#0c1460" stroke-width="1.2"/><circle cx="2053.2" cy="844.1" r="18.6" fill="url(#gMo)" stroke="#0c1460" stroke-width="1.2"/><circle cx="2120" cy="582.1" r="11.3" fill="url(#gN)" stroke="#5a5e80" stroke-width="1.2"/><circle cx="2120" cy="864.6" r="11.3" fill="url(#gN)" stroke="#5a5e80" stroke-width="1.2"/><circle cx="2053.2" cy="672.5" r="11.3" fill="url(#gN)" stroke="#5a5e80" stroke-width="1.2"/><circle cx="2053.2" cy="774" r="11.3" fill="url(#gN)" stroke="#5a5e80" stroke-width="1.2"/><ellipse cx="2049.2" cy="673" rx="5.5" ry="2.2" fill="#f0f000" stroke="none"/><ellipse cx="2065.7" cy="673.5" rx="2.5" ry="2.5" fill="#e0e000" stroke="none"/><ellipse cx="2049.2" cy="774.5" rx="5.5" ry="2.2" fill="#f0f000" stroke="none"/><ellipse cx="2065.7" cy="775" rx="2.5" ry="2.5" fill="#e0e000" stroke="none"/><circle cx="2154.3" cy="602.4" r="18.6" fill="url(#gMo)" stroke="#0c1460" stroke-width="1.2"/><circle cx="2154.3" cy="844.1" r="18.6" fill="url(#gMo)" stroke="#0c1460" stroke-width="1.2"/><circle cx="2221.1" cy="582.1" r="11.3" fill="url(#gN)" stroke="#5a5e80" stroke-width="1.2"/><circle cx="2221.1" cy="864.6" r="11.3" fill="url(#gN)" stroke="#5a5e80" stroke-width="1.2"/><circle cx="2154.3" cy="672.5" r="11.3" fill="url(#gN)" stroke="#5a5e80" stroke-width="1.2"/><circle cx="2154.3" cy="774" r="11.3" fill="url(#gN)" stroke="#5a5e80" stroke-width="1.2"/><ellipse cx="2150.3" cy="673" rx="5.5" ry="2.2" fill="#f0f000" stroke="none"/><ellipse cx="2166.8" cy="673.5" rx="2.5" ry="2.5" fill="#e0e000" stroke="none"/><ellipse cx="2150.3" cy="774.5" rx="5.5" ry="2.2" fill="#f0f000" stroke="none"/><ellipse cx="2166.8" cy="775" rx="2.5" ry="2.5" fill="#e0e000" stroke="none"/></g></svg></body></html>
